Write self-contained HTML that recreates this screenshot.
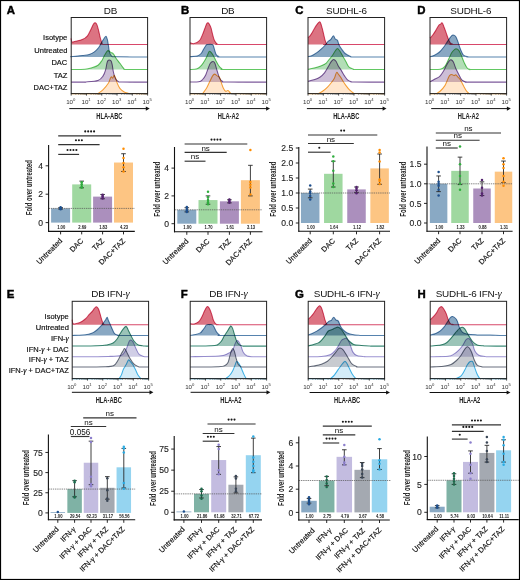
<!DOCTYPE html>
<html><head><meta charset="utf-8"><style>
html,body{margin:0;padding:0;background:#fff;}
body{width:520px;height:580px;overflow:hidden;font-family:"Liberation Sans", sans-serif;}
svg{display:block;}
</style></head><body>
<svg width="520" height="580" viewBox="0 0 520 580" font-family="'Liberation Sans', sans-serif">
<rect x="0" y="0" width="520" height="580" fill="#fff"/>
<path d="M71,38.4 C71.17,38.98 71.27,41.42 72,41.9 C72.73,42.38 73.68,41.68 75.4,41.3 C77.12,40.92 80.28,40.52 82.3,39.6 C84.32,38.68 86.05,37.53 87.5,35.8 C88.95,34.07 90,31.17 91,29.2 C92,27.23 92.78,25.07 93.5,24 C94.22,22.93 94.72,22.65 95.3,22.8 C95.88,22.95 96.43,23.53 97,24.9 C97.57,26.27 98.12,28.7 98.7,31 C99.28,33.3 99.92,36.63 100.5,38.7 C101.08,40.77 101.62,42.45 102.2,43.4 C102.78,44.35 96.43,44.23 104,44.4 C111.57,44.57 140.33,44.4 147.6,44.4 L147.6,44.4 L71.2,44.4 Z" fill="#dc7382" stroke="none" style="mix-blend-mode:multiply"/>
<path d="M71,38.4 C71.17,38.98 71.27,41.42 72,41.9 C72.73,42.38 73.68,41.68 75.4,41.3 C77.12,40.92 80.28,40.52 82.3,39.6 C84.32,38.68 86.05,37.53 87.5,35.8 C88.95,34.07 90,31.17 91,29.2 C92,27.23 92.78,25.07 93.5,24 C94.22,22.93 94.72,22.65 95.3,22.8 C95.88,22.95 96.43,23.53 97,24.9 C97.57,26.27 98.12,28.7 98.7,31 C99.28,33.3 99.92,36.63 100.5,38.7 C101.08,40.77 101.62,42.45 102.2,43.4 C102.78,44.35 96.43,44.23 104,44.4 C111.57,44.57 140.33,44.4 147.6,44.4" fill="none" stroke="#d8486a" stroke-width="1.05" style="mix-blend-mode:multiply"/>
<path d="M71.2,57 C71.23,56.95 69.55,56.93 71.4,56.7 C73.25,56.47 79.33,55.98 82.3,55.6 C85.27,55.22 87.18,55.03 89.2,54.4 C91.22,53.77 92.82,52.95 94.4,51.8 C95.98,50.65 97.48,49.08 98.7,47.5 C99.92,45.92 100.83,43.75 101.7,42.3 C102.57,40.85 103.18,39.82 103.9,38.8 C104.62,37.78 105.42,36.05 106,36.2 C106.58,36.35 106.97,37.97 107.4,39.7 C107.83,41.43 108.23,44.43 108.6,46.6 C108.97,48.77 109.08,51.12 109.6,52.7 C110.12,54.28 110.63,55.42 111.7,56.1 C112.77,56.78 110.02,56.65 116,56.8 C121.98,56.95 142.33,56.97 147.6,57 L147.6,57 L71.2,57 Z" fill="#89a8c3" stroke="none" style="mix-blend-mode:multiply"/>
<path d="M71.2,57 C71.23,56.95 69.55,56.93 71.4,56.7 C73.25,56.47 79.33,55.98 82.3,55.6 C85.27,55.22 87.18,55.03 89.2,54.4 C91.22,53.77 92.82,52.95 94.4,51.8 C95.98,50.65 97.48,49.08 98.7,47.5 C99.92,45.92 100.83,43.75 101.7,42.3 C102.57,40.85 103.18,39.82 103.9,38.8 C104.62,37.78 105.42,36.05 106,36.2 C106.58,36.35 106.97,37.97 107.4,39.7 C107.83,41.43 108.23,44.43 108.6,46.6 C108.97,48.77 109.08,51.12 109.6,52.7 C110.12,54.28 110.63,55.42 111.7,56.1 C112.77,56.78 110.02,56.65 116,56.8 C121.98,56.95 142.33,56.97 147.6,57" fill="none" stroke="#5683ae" stroke-width="1.05" style="mix-blend-mode:multiply"/>
<path d="M71.2,69.5 C73.5,69.45 81.53,69.5 85,69.2 C88.47,68.9 89.83,68.35 92,67.7 C94.17,67.05 96.37,66.47 98,65.3 C99.63,64.13 100.73,62.32 101.8,60.7 C102.87,59.08 103.43,57.27 104.4,55.6 C105.37,53.93 106.53,51.23 107.6,50.7 C108.67,50.17 109.82,51.85 110.8,52.4 C111.78,52.95 112.63,53.03 113.5,54 C114.37,54.97 114.93,56.65 116,58.2 C117.07,59.75 118.6,61.58 119.9,63.3 C121.2,65.02 122.73,67.47 123.8,68.5 C124.87,69.53 122.33,69.33 126.3,69.5 C130.27,69.67 144.05,69.5 147.6,69.5 L147.6,69.5 L71.2,69.5 Z" fill="#b2deb6" stroke="none" style="mix-blend-mode:multiply"/>
<path d="M71.2,69.5 C73.5,69.45 81.53,69.5 85,69.2 C88.47,68.9 89.83,68.35 92,67.7 C94.17,67.05 96.37,66.47 98,65.3 C99.63,64.13 100.73,62.32 101.8,60.7 C102.87,59.08 103.43,57.27 104.4,55.6 C105.37,53.93 106.53,51.23 107.6,50.7 C108.67,50.17 109.82,51.85 110.8,52.4 C111.78,52.95 112.63,53.03 113.5,54 C114.37,54.97 114.93,56.65 116,58.2 C117.07,59.75 118.6,61.58 119.9,63.3 C121.2,65.02 122.73,67.47 123.8,68.5 C124.87,69.53 122.33,69.33 126.3,69.5 C130.27,69.67 144.05,69.5 147.6,69.5" fill="none" stroke="#62c862" stroke-width="1.05" style="mix-blend-mode:multiply"/>
<path d="M71.2,82.1 C73.5,82.1 82.69,82.1 84.99,82.1 C87.29,82.1 82.85,82.38 85,82.1 C87.15,81.82 94.88,81.43 97.9,80.4 C100.92,79.37 101.8,77.73 103.1,75.9 C104.4,74.07 105.05,71.57 105.7,69.4 C106.35,67.23 106.57,64.42 107,62.9 C107.43,61.38 107.67,60.68 108.3,60.3 C108.93,59.92 110.17,59.95 110.8,60.6 C111.43,61.25 111.67,62.3 112.1,64.2 C112.53,66.1 112.85,69.62 113.4,72 C113.95,74.38 114.53,76.88 115.4,78.5 C116.27,80.12 117.5,81.1 118.6,81.7 C119.7,82.3 117.17,82.03 122,82.1 C126.83,82.17 143.33,82.1 147.6,82.1 L147.6,82.1 L71.2,82.1 Z" fill="#cdbed7" stroke="none" style="mix-blend-mode:multiply"/>
<path d="M71.2,82.1 C73.5,82.1 82.69,82.1 84.99,82.1 C87.29,82.1 82.85,82.38 85,82.1 C87.15,81.82 94.88,81.43 97.9,80.4 C100.92,79.37 101.8,77.73 103.1,75.9 C104.4,74.07 105.05,71.57 105.7,69.4 C106.35,67.23 106.57,64.42 107,62.9 C107.43,61.38 107.67,60.68 108.3,60.3 C108.93,59.92 110.17,59.95 110.8,60.6 C111.43,61.25 111.67,62.3 112.1,64.2 C112.53,66.1 112.85,69.62 113.4,72 C113.95,74.38 114.53,76.88 115.4,78.5 C116.27,80.12 117.5,81.1 118.6,81.7 C119.7,82.3 117.17,82.03 122,82.1 C126.83,82.17 143.33,82.1 147.6,82.1" fill="none" stroke="#7d5a9c" stroke-width="1.05" style="mix-blend-mode:multiply"/>
<path d="M71.2,93.6 C75.65,93.6 93.44,93.6 97.89,93.6 C102.34,93.6 97.03,94.25 97.9,93.6 C98.77,92.95 101.37,91.42 103.1,89.7 C104.83,87.98 107.12,85.13 108.3,83.3 C109.48,81.47 109.67,79.78 110.2,78.7 C110.73,77.62 111.07,76.9 111.5,76.8 C111.93,76.7 112.37,78.35 112.8,78.1 C113.23,77.85 113.67,75.4 114.1,75.3 C114.53,75.2 114.87,76.17 115.4,77.5 C115.93,78.83 116.55,81.48 117.3,83.3 C118.05,85.12 118.82,87 119.9,88.4 C120.98,89.8 122.4,90.88 123.8,91.7 C125.2,92.52 127.27,92.98 128.3,93.3 C129.33,93.62 126.78,93.55 130,93.6 C133.22,93.65 144.67,93.6 147.6,93.6 L147.6,93.6 L71.2,93.6 Z" fill="#ffe6cd" stroke="none" style="mix-blend-mode:multiply"/>
<path d="M71.2,93.6 C75.65,93.6 93.44,93.6 97.89,93.6 C102.34,93.6 97.03,94.25 97.9,93.6 C98.77,92.95 101.37,91.42 103.1,89.7 C104.83,87.98 107.12,85.13 108.3,83.3 C109.48,81.47 109.67,79.78 110.2,78.7 C110.73,77.62 111.07,76.9 111.5,76.8 C111.93,76.7 112.37,78.35 112.8,78.1 C113.23,77.85 113.67,75.4 114.1,75.3 C114.53,75.2 114.87,76.17 115.4,77.5 C115.93,78.83 116.55,81.48 117.3,83.3 C118.05,85.12 118.82,87 119.9,88.4 C120.98,89.8 122.4,90.88 123.8,91.7 C125.2,92.52 127.27,92.98 128.3,93.3 C129.33,93.62 126.78,93.55 130,93.6 C133.22,93.65 144.67,93.6 147.6,93.6" fill="none" stroke="#f5a73c" stroke-width="1.05" style="mix-blend-mode:multiply"/>
<rect x="71.2" y="17.5" width="76.4" height="76.1" fill="none" stroke="#222" stroke-width="1"/>
<line x1="71.2" y1="93.6" x2="71.2" y2="95.6" stroke="#222" stroke-width="0.8"/>
<line x1="75.8" y1="93.6" x2="75.8" y2="94.8" stroke="#444" stroke-width="0.5"/>
<line x1="78.49" y1="93.6" x2="78.49" y2="94.8" stroke="#444" stroke-width="0.5"/>
<line x1="80.4" y1="93.6" x2="80.4" y2="94.8" stroke="#444" stroke-width="0.5"/>
<line x1="81.88" y1="93.6" x2="81.88" y2="94.8" stroke="#444" stroke-width="0.5"/>
<line x1="83.09" y1="93.6" x2="83.09" y2="94.8" stroke="#444" stroke-width="0.5"/>
<line x1="84.11" y1="93.6" x2="84.11" y2="94.8" stroke="#444" stroke-width="0.5"/>
<line x1="85" y1="93.6" x2="85" y2="94.8" stroke="#444" stroke-width="0.5"/>
<line x1="85.78" y1="93.6" x2="85.78" y2="94.8" stroke="#444" stroke-width="0.5"/>
<text x="70.8" y="103.9" font-size="6.2" text-anchor="middle" fill="#333">10<tspan font-size="4.2" dy="-2.6">0</tspan></text>
<line x1="86.48" y1="93.6" x2="86.48" y2="95.6" stroke="#222" stroke-width="0.8"/>
<line x1="91.08" y1="93.6" x2="91.08" y2="94.8" stroke="#444" stroke-width="0.5"/>
<line x1="93.77" y1="93.6" x2="93.77" y2="94.8" stroke="#444" stroke-width="0.5"/>
<line x1="95.68" y1="93.6" x2="95.68" y2="94.8" stroke="#444" stroke-width="0.5"/>
<line x1="97.16" y1="93.6" x2="97.16" y2="94.8" stroke="#444" stroke-width="0.5"/>
<line x1="98.37" y1="93.6" x2="98.37" y2="94.8" stroke="#444" stroke-width="0.5"/>
<line x1="99.39" y1="93.6" x2="99.39" y2="94.8" stroke="#444" stroke-width="0.5"/>
<line x1="100.28" y1="93.6" x2="100.28" y2="94.8" stroke="#444" stroke-width="0.5"/>
<line x1="101.06" y1="93.6" x2="101.06" y2="94.8" stroke="#444" stroke-width="0.5"/>
<text x="86.08" y="103.9" font-size="6.2" text-anchor="middle" fill="#333">10<tspan font-size="4.2" dy="-2.6">1</tspan></text>
<line x1="101.76" y1="93.6" x2="101.76" y2="95.6" stroke="#222" stroke-width="0.8"/>
<line x1="106.36" y1="93.6" x2="106.36" y2="94.8" stroke="#444" stroke-width="0.5"/>
<line x1="109.05" y1="93.6" x2="109.05" y2="94.8" stroke="#444" stroke-width="0.5"/>
<line x1="110.96" y1="93.6" x2="110.96" y2="94.8" stroke="#444" stroke-width="0.5"/>
<line x1="112.44" y1="93.6" x2="112.44" y2="94.8" stroke="#444" stroke-width="0.5"/>
<line x1="113.65" y1="93.6" x2="113.65" y2="94.8" stroke="#444" stroke-width="0.5"/>
<line x1="114.67" y1="93.6" x2="114.67" y2="94.8" stroke="#444" stroke-width="0.5"/>
<line x1="115.56" y1="93.6" x2="115.56" y2="94.8" stroke="#444" stroke-width="0.5"/>
<line x1="116.34" y1="93.6" x2="116.34" y2="94.8" stroke="#444" stroke-width="0.5"/>
<text x="101.36" y="103.9" font-size="6.2" text-anchor="middle" fill="#333">10<tspan font-size="4.2" dy="-2.6">2</tspan></text>
<line x1="117.04" y1="93.6" x2="117.04" y2="95.6" stroke="#222" stroke-width="0.8"/>
<line x1="121.64" y1="93.6" x2="121.64" y2="94.8" stroke="#444" stroke-width="0.5"/>
<line x1="124.33" y1="93.6" x2="124.33" y2="94.8" stroke="#444" stroke-width="0.5"/>
<line x1="126.24" y1="93.6" x2="126.24" y2="94.8" stroke="#444" stroke-width="0.5"/>
<line x1="127.72" y1="93.6" x2="127.72" y2="94.8" stroke="#444" stroke-width="0.5"/>
<line x1="128.93" y1="93.6" x2="128.93" y2="94.8" stroke="#444" stroke-width="0.5"/>
<line x1="129.95" y1="93.6" x2="129.95" y2="94.8" stroke="#444" stroke-width="0.5"/>
<line x1="130.84" y1="93.6" x2="130.84" y2="94.8" stroke="#444" stroke-width="0.5"/>
<line x1="131.62" y1="93.6" x2="131.62" y2="94.8" stroke="#444" stroke-width="0.5"/>
<text x="116.64" y="103.9" font-size="6.2" text-anchor="middle" fill="#333">10<tspan font-size="4.2" dy="-2.6">3</tspan></text>
<line x1="132.32" y1="93.6" x2="132.32" y2="95.6" stroke="#222" stroke-width="0.8"/>
<line x1="136.92" y1="93.6" x2="136.92" y2="94.8" stroke="#444" stroke-width="0.5"/>
<line x1="139.61" y1="93.6" x2="139.61" y2="94.8" stroke="#444" stroke-width="0.5"/>
<line x1="141.52" y1="93.6" x2="141.52" y2="94.8" stroke="#444" stroke-width="0.5"/>
<line x1="143" y1="93.6" x2="143" y2="94.8" stroke="#444" stroke-width="0.5"/>
<line x1="144.21" y1="93.6" x2="144.21" y2="94.8" stroke="#444" stroke-width="0.5"/>
<line x1="145.23" y1="93.6" x2="145.23" y2="94.8" stroke="#444" stroke-width="0.5"/>
<line x1="146.12" y1="93.6" x2="146.12" y2="94.8" stroke="#444" stroke-width="0.5"/>
<line x1="146.9" y1="93.6" x2="146.9" y2="94.8" stroke="#444" stroke-width="0.5"/>
<text x="131.92" y="103.9" font-size="6.2" text-anchor="middle" fill="#333">10<tspan font-size="4.2" dy="-2.6">4</tspan></text>
<line x1="147.6" y1="93.6" x2="147.6" y2="95.6" stroke="#222" stroke-width="0.8"/>
<text x="147.2" y="103.9" font-size="6.2" text-anchor="middle" fill="#333">10<tspan font-size="4.2" dy="-2.6">5</tspan></text>
<line x1="69.3" y1="108.6" x2="146.7" y2="108.6" stroke="#111" stroke-width="1"/>
<path d="M149.7,108.6 L145.8,106.5 L145.8,110.7 Z" fill="#111"/>
<text transform="translate(109.4,119) scale(0.64,1)" font-size="9" font-weight="bold" text-anchor="middle" fill="#222">HLA-ABC</text>
<text x="110.5" y="13.8" font-size="9.9" text-anchor="middle" fill="#111" letter-spacing="-0.2">DB</text>
<text x="6.8" y="13.9" font-size="11.4" font-weight="bold" fill="#000" stroke="#000" stroke-width="0.45">A</text>
<text x="67.3" y="40.3" font-size="7.5" text-anchor="end" fill="#111" stroke="#111" stroke-width="0.18">Isotype</text>
<text x="67.3" y="52.77" font-size="7.5" text-anchor="end" fill="#111" stroke="#111" stroke-width="0.18">Untreated</text>
<text x="67.3" y="65.24" font-size="7.5" text-anchor="end" fill="#111" stroke="#111" stroke-width="0.18">DAC</text>
<text x="67.3" y="77.71" font-size="7.5" text-anchor="end" fill="#111" stroke="#111" stroke-width="0.18">TAZ</text>
<text x="67.3" y="90.18" font-size="7.5" text-anchor="end" fill="#111" stroke="#111" stroke-width="0.18">DAC+TAZ</text>
<path d="M190,42.8 C190.7,42.93 192.62,43.98 194.2,43.6 C195.78,43.22 198.1,42.03 199.5,40.5 C200.9,38.97 201.7,36.45 202.6,34.4 C203.5,32.35 204.2,30 204.9,28.2 C205.6,26.4 206.28,24.5 206.8,23.6 C207.32,22.7 207.55,22.67 208,22.8 C208.45,22.93 208.98,23.5 209.5,24.4 C210.02,25.3 210.58,26.53 211.1,28.2 C211.62,29.87 212.03,32.35 212.6,34.4 C213.17,36.45 213.73,38.92 214.5,40.5 C215.27,42.08 216.28,43.25 217.2,43.9 C218.12,44.55 211.77,44.32 220,44.4 C228.23,44.48 258.83,44.4 266.6,44.4 L266.6,44.4 L190,44.4 Z" fill="#dc7382" stroke="none" style="mix-blend-mode:multiply"/>
<path d="M190,42.8 C190.7,42.93 192.62,43.98 194.2,43.6 C195.78,43.22 198.1,42.03 199.5,40.5 C200.9,38.97 201.7,36.45 202.6,34.4 C203.5,32.35 204.2,30 204.9,28.2 C205.6,26.4 206.28,24.5 206.8,23.6 C207.32,22.7 207.55,22.67 208,22.8 C208.45,22.93 208.98,23.5 209.5,24.4 C210.02,25.3 210.58,26.53 211.1,28.2 C211.62,29.87 212.03,32.35 212.6,34.4 C213.17,36.45 213.73,38.92 214.5,40.5 C215.27,42.08 216.28,43.25 217.2,43.9 C218.12,44.55 211.77,44.32 220,44.4 C228.23,44.48 258.83,44.4 266.6,44.4" fill="none" stroke="#d8486a" stroke-width="1.05" style="mix-blend-mode:multiply"/>
<path d="M190,56.7 C191.2,56.6 195.35,56.63 197.2,56.1 C199.05,55.57 200.07,54.58 201.1,53.5 C202.13,52.42 202.63,50.88 203.4,49.6 C204.17,48.32 205.07,46.63 205.7,45.8 C206.33,44.97 206.05,44.8 207.2,44.6 C208.35,44.4 211.38,43.77 212.6,44.6 C213.82,45.43 213.93,48 214.5,49.6 C215.07,51.2 215.28,53.05 216,54.2 C216.72,55.35 217.8,56.03 218.8,56.5 C219.8,56.97 214.03,56.92 222,57 C229.97,57.08 259.17,57 266.6,57 L266.6,57 L190,57 Z" fill="#89a8c3" stroke="none" style="mix-blend-mode:multiply"/>
<path d="M190,56.7 C191.2,56.6 195.35,56.63 197.2,56.1 C199.05,55.57 200.07,54.58 201.1,53.5 C202.13,52.42 202.63,50.88 203.4,49.6 C204.17,48.32 205.07,46.63 205.7,45.8 C206.33,44.97 206.05,44.8 207.2,44.6 C208.35,44.4 211.38,43.77 212.6,44.6 C213.82,45.43 213.93,48 214.5,49.6 C215.07,51.2 215.28,53.05 216,54.2 C216.72,55.35 217.8,56.03 218.8,56.5 C219.8,56.97 214.03,56.92 222,57 C229.97,57.08 259.17,57 266.6,57" fill="none" stroke="#5683ae" stroke-width="1.05" style="mix-blend-mode:multiply"/>
<path d="M190,69.5 C191.2,69.37 195.23,69.47 197.2,68.7 C199.17,67.93 200.52,66.3 201.8,64.9 C203.08,63.5 204,61.83 204.9,60.3 C205.8,58.77 206.48,57.18 207.2,55.7 C207.92,54.22 208.55,51.97 209.2,51.4 C209.85,50.83 210.4,51.58 211.1,52.3 C211.8,53.02 212.63,54.37 213.4,55.7 C214.17,57.03 214.8,58.63 215.7,60.3 C216.6,61.97 217.78,64.3 218.8,65.7 C219.82,67.1 220.77,68.07 221.8,68.7 C222.83,69.33 217.53,69.37 225,69.5 C232.47,69.63 259.67,69.5 266.6,69.5 L266.6,69.5 L190,69.5 Z" fill="#b2deb6" stroke="none" style="mix-blend-mode:multiply"/>
<path d="M190,69.5 C191.2,69.37 195.23,69.47 197.2,68.7 C199.17,67.93 200.52,66.3 201.8,64.9 C203.08,63.5 204,61.83 204.9,60.3 C205.8,58.77 206.48,57.18 207.2,55.7 C207.92,54.22 208.55,51.97 209.2,51.4 C209.85,50.83 210.4,51.58 211.1,52.3 C211.8,53.02 212.63,54.37 213.4,55.7 C214.17,57.03 214.8,58.63 215.7,60.3 C216.6,61.97 217.78,64.3 218.8,65.7 C219.82,67.1 220.77,68.07 221.8,68.7 C222.83,69.33 217.53,69.37 225,69.5 C232.47,69.63 259.67,69.5 266.6,69.5" fill="none" stroke="#62c862" stroke-width="1.05" style="mix-blend-mode:multiply"/>
<path d="M190,82.1 C191.47,82.05 196.7,82.23 198.8,81.8 C200.9,81.37 201.45,80.65 202.6,79.5 C203.75,78.35 204.8,76.7 205.7,74.9 C206.6,73.1 207.23,70.63 208,68.7 C208.77,66.77 209.48,64.5 210.3,63.3 C211.12,62.1 212.13,61.5 212.9,61.5 C213.67,61.5 214.18,61.72 214.9,63.3 C215.62,64.88 216.43,68.57 217.2,71 C217.97,73.43 218.6,76.15 219.5,77.9 C220.4,79.65 221.52,80.8 222.6,81.5 C223.68,82.2 218.67,82 226,82.1 C233.33,82.2 259.83,82.1 266.6,82.1 L266.6,82.1 L190,82.1 Z" fill="#cdbed7" stroke="none" style="mix-blend-mode:multiply"/>
<path d="M190,82.1 C191.47,82.05 196.7,82.23 198.8,81.8 C200.9,81.37 201.45,80.65 202.6,79.5 C203.75,78.35 204.8,76.7 205.7,74.9 C206.6,73.1 207.23,70.63 208,68.7 C208.77,66.77 209.48,64.5 210.3,63.3 C211.12,62.1 212.13,61.5 212.9,61.5 C213.67,61.5 214.18,61.72 214.9,63.3 C215.62,64.88 216.43,68.57 217.2,71 C217.97,73.43 218.6,76.15 219.5,77.9 C220.4,79.65 221.52,80.8 222.6,81.5 C223.68,82.2 218.67,82 226,82.1 C233.33,82.2 259.83,82.1 266.6,82.1" fill="none" stroke="#7d5a9c" stroke-width="1.05" style="mix-blend-mode:multiply"/>
<path d="M190,93.6 C192.1,93.6 200.49,93.6 202.59,93.6 C204.69,93.6 201.95,94.5 202.6,93.6 C203.25,92.7 205.35,90.12 206.5,88.2 C207.65,86.28 208.48,84.15 209.5,82.1 C210.52,80.05 211.77,77.23 212.6,75.9 C213.43,74.57 213.73,74.1 214.5,74.1 C215.27,74.1 216.37,75.35 217.2,75.9 C218.03,76.45 218.85,76.37 219.5,77.4 C220.15,78.43 220.45,80.3 221.1,82.1 C221.75,83.9 222.63,86.67 223.4,88.2 C224.17,89.73 224.93,90.92 225.7,91.3 C226.47,91.68 227.23,90.25 228,90.5 C228.77,90.75 229.63,92.28 230.3,92.8 C230.97,93.32 225.95,93.47 232,93.6 C238.05,93.73 260.83,93.6 266.6,93.6 L266.6,93.6 L190,93.6 Z" fill="#ffe6cd" stroke="none" style="mix-blend-mode:multiply"/>
<path d="M190,93.6 C192.1,93.6 200.49,93.6 202.59,93.6 C204.69,93.6 201.95,94.5 202.6,93.6 C203.25,92.7 205.35,90.12 206.5,88.2 C207.65,86.28 208.48,84.15 209.5,82.1 C210.52,80.05 211.77,77.23 212.6,75.9 C213.43,74.57 213.73,74.1 214.5,74.1 C215.27,74.1 216.37,75.35 217.2,75.9 C218.03,76.45 218.85,76.37 219.5,77.4 C220.15,78.43 220.45,80.3 221.1,82.1 C221.75,83.9 222.63,86.67 223.4,88.2 C224.17,89.73 224.93,90.92 225.7,91.3 C226.47,91.68 227.23,90.25 228,90.5 C228.77,90.75 229.63,92.28 230.3,92.8 C230.97,93.32 225.95,93.47 232,93.6 C238.05,93.73 260.83,93.6 266.6,93.6" fill="none" stroke="#f5a73c" stroke-width="1.05" style="mix-blend-mode:multiply"/>
<rect x="190" y="17.5" width="76.6" height="76.1" fill="none" stroke="#222" stroke-width="1"/>
<line x1="190" y1="93.6" x2="190" y2="95.6" stroke="#222" stroke-width="0.8"/>
<line x1="194.61" y1="93.6" x2="194.61" y2="94.8" stroke="#444" stroke-width="0.5"/>
<line x1="197.31" y1="93.6" x2="197.31" y2="94.8" stroke="#444" stroke-width="0.5"/>
<line x1="199.22" y1="93.6" x2="199.22" y2="94.8" stroke="#444" stroke-width="0.5"/>
<line x1="200.71" y1="93.6" x2="200.71" y2="94.8" stroke="#444" stroke-width="0.5"/>
<line x1="201.92" y1="93.6" x2="201.92" y2="94.8" stroke="#444" stroke-width="0.5"/>
<line x1="202.95" y1="93.6" x2="202.95" y2="94.8" stroke="#444" stroke-width="0.5"/>
<line x1="203.84" y1="93.6" x2="203.84" y2="94.8" stroke="#444" stroke-width="0.5"/>
<line x1="204.62" y1="93.6" x2="204.62" y2="94.8" stroke="#444" stroke-width="0.5"/>
<text x="189.6" y="103.9" font-size="6.2" text-anchor="middle" fill="#333">10<tspan font-size="4.2" dy="-2.6">0</tspan></text>
<line x1="205.32" y1="93.6" x2="205.32" y2="95.6" stroke="#222" stroke-width="0.8"/>
<line x1="209.93" y1="93.6" x2="209.93" y2="94.8" stroke="#444" stroke-width="0.5"/>
<line x1="212.63" y1="93.6" x2="212.63" y2="94.8" stroke="#444" stroke-width="0.5"/>
<line x1="214.54" y1="93.6" x2="214.54" y2="94.8" stroke="#444" stroke-width="0.5"/>
<line x1="216.03" y1="93.6" x2="216.03" y2="94.8" stroke="#444" stroke-width="0.5"/>
<line x1="217.24" y1="93.6" x2="217.24" y2="94.8" stroke="#444" stroke-width="0.5"/>
<line x1="218.27" y1="93.6" x2="218.27" y2="94.8" stroke="#444" stroke-width="0.5"/>
<line x1="219.16" y1="93.6" x2="219.16" y2="94.8" stroke="#444" stroke-width="0.5"/>
<line x1="219.94" y1="93.6" x2="219.94" y2="94.8" stroke="#444" stroke-width="0.5"/>
<text x="204.92" y="103.9" font-size="6.2" text-anchor="middle" fill="#333">10<tspan font-size="4.2" dy="-2.6">1</tspan></text>
<line x1="220.64" y1="93.6" x2="220.64" y2="95.6" stroke="#222" stroke-width="0.8"/>
<line x1="225.25" y1="93.6" x2="225.25" y2="94.8" stroke="#444" stroke-width="0.5"/>
<line x1="227.95" y1="93.6" x2="227.95" y2="94.8" stroke="#444" stroke-width="0.5"/>
<line x1="229.86" y1="93.6" x2="229.86" y2="94.8" stroke="#444" stroke-width="0.5"/>
<line x1="231.35" y1="93.6" x2="231.35" y2="94.8" stroke="#444" stroke-width="0.5"/>
<line x1="232.56" y1="93.6" x2="232.56" y2="94.8" stroke="#444" stroke-width="0.5"/>
<line x1="233.59" y1="93.6" x2="233.59" y2="94.8" stroke="#444" stroke-width="0.5"/>
<line x1="234.48" y1="93.6" x2="234.48" y2="94.8" stroke="#444" stroke-width="0.5"/>
<line x1="235.26" y1="93.6" x2="235.26" y2="94.8" stroke="#444" stroke-width="0.5"/>
<text x="220.24" y="103.9" font-size="6.2" text-anchor="middle" fill="#333">10<tspan font-size="4.2" dy="-2.6">2</tspan></text>
<line x1="235.96" y1="93.6" x2="235.96" y2="95.6" stroke="#222" stroke-width="0.8"/>
<line x1="240.57" y1="93.6" x2="240.57" y2="94.8" stroke="#444" stroke-width="0.5"/>
<line x1="243.27" y1="93.6" x2="243.27" y2="94.8" stroke="#444" stroke-width="0.5"/>
<line x1="245.18" y1="93.6" x2="245.18" y2="94.8" stroke="#444" stroke-width="0.5"/>
<line x1="246.67" y1="93.6" x2="246.67" y2="94.8" stroke="#444" stroke-width="0.5"/>
<line x1="247.88" y1="93.6" x2="247.88" y2="94.8" stroke="#444" stroke-width="0.5"/>
<line x1="248.91" y1="93.6" x2="248.91" y2="94.8" stroke="#444" stroke-width="0.5"/>
<line x1="249.8" y1="93.6" x2="249.8" y2="94.8" stroke="#444" stroke-width="0.5"/>
<line x1="250.58" y1="93.6" x2="250.58" y2="94.8" stroke="#444" stroke-width="0.5"/>
<text x="235.56" y="103.9" font-size="6.2" text-anchor="middle" fill="#333">10<tspan font-size="4.2" dy="-2.6">3</tspan></text>
<line x1="251.28" y1="93.6" x2="251.28" y2="95.6" stroke="#222" stroke-width="0.8"/>
<line x1="255.89" y1="93.6" x2="255.89" y2="94.8" stroke="#444" stroke-width="0.5"/>
<line x1="258.59" y1="93.6" x2="258.59" y2="94.8" stroke="#444" stroke-width="0.5"/>
<line x1="260.5" y1="93.6" x2="260.5" y2="94.8" stroke="#444" stroke-width="0.5"/>
<line x1="261.99" y1="93.6" x2="261.99" y2="94.8" stroke="#444" stroke-width="0.5"/>
<line x1="263.2" y1="93.6" x2="263.2" y2="94.8" stroke="#444" stroke-width="0.5"/>
<line x1="264.23" y1="93.6" x2="264.23" y2="94.8" stroke="#444" stroke-width="0.5"/>
<line x1="265.12" y1="93.6" x2="265.12" y2="94.8" stroke="#444" stroke-width="0.5"/>
<line x1="265.9" y1="93.6" x2="265.9" y2="94.8" stroke="#444" stroke-width="0.5"/>
<text x="250.88" y="103.9" font-size="6.2" text-anchor="middle" fill="#333">10<tspan font-size="4.2" dy="-2.6">4</tspan></text>
<line x1="266.6" y1="93.6" x2="266.6" y2="95.6" stroke="#222" stroke-width="0.8"/>
<text x="266.2" y="103.9" font-size="6.2" text-anchor="middle" fill="#333">10<tspan font-size="4.2" dy="-2.6">5</tspan></text>
<line x1="189.6" y1="108.6" x2="267" y2="108.6" stroke="#111" stroke-width="1"/>
<path d="M270,108.6 L266.1,106.5 L266.1,110.7 Z" fill="#111"/>
<text transform="translate(228.3,119) scale(0.64,1)" font-size="9" font-weight="bold" text-anchor="middle" fill="#222">HLA-A2</text>
<text x="227.8" y="13.8" font-size="9.9" text-anchor="middle" fill="#111" letter-spacing="-0.2">DB</text>
<text x="181" y="13.9" font-size="11.4" font-weight="bold" fill="#000" stroke="#000" stroke-width="0.45">B</text>
<path d="M308,37.5 C308.33,37.23 309.18,36.93 310,35.9 C310.82,34.87 311.9,32.97 312.9,31.3 C313.9,29.63 314.97,27.43 316,25.9 C317.03,24.37 318.33,22.6 319.1,22.1 C319.87,21.6 320.08,21.88 320.6,22.9 C321.12,23.92 321.68,26.28 322.2,28.2 C322.72,30.12 323.2,32.33 323.7,34.4 C324.2,36.47 324.68,38.98 325.2,40.6 C325.72,42.22 326.33,43.47 326.8,44.1 C327.27,44.73 318.37,44.35 328,44.4 C337.63,44.45 375.17,44.4 384.6,44.4 L384.6,44.4 L308,44.4 Z" fill="#dc7382" stroke="none" style="mix-blend-mode:multiply"/>
<path d="M308,37.5 C308.33,37.23 309.18,36.93 310,35.9 C310.82,34.87 311.9,32.97 312.9,31.3 C313.9,29.63 314.97,27.43 316,25.9 C317.03,24.37 318.33,22.6 319.1,22.1 C319.87,21.6 320.08,21.88 320.6,22.9 C321.12,23.92 321.68,26.28 322.2,28.2 C322.72,30.12 323.2,32.33 323.7,34.4 C324.2,36.47 324.68,38.98 325.2,40.6 C325.72,42.22 326.33,43.47 326.8,44.1 C327.27,44.73 318.37,44.35 328,44.4 C337.63,44.45 375.17,44.4 384.6,44.4" fill="none" stroke="#d8486a" stroke-width="1.05" style="mix-blend-mode:multiply"/>
<path d="M308,56.7 C308.7,56.5 310.73,56.17 312.2,55.5 C313.67,54.83 315.27,53.82 316.8,52.7 C318.33,51.58 320,50.08 321.4,48.8 C322.8,47.52 324.05,46.27 325.2,45 C326.35,43.73 327.4,42.1 328.3,41.2 C329.2,40.3 329.75,40.5 330.6,39.6 C331.45,38.7 332.63,35.92 333.4,35.8 C334.17,35.68 334.52,38.13 335.2,38.9 C335.88,39.67 336.85,39.38 337.5,40.4 C338.15,41.42 338.45,43.6 339.1,45 C339.75,46.4 340.38,47.38 341.4,48.8 C342.42,50.22 343.67,52.22 345.2,53.5 C346.73,54.78 349.13,55.92 350.6,56.5 C352.07,57.08 348.33,56.92 354,57 C359.67,57.08 379.5,57 384.6,57 L384.6,57 L308,57 Z" fill="#89a8c3" stroke="none" style="mix-blend-mode:multiply"/>
<path d="M308,56.7 C308.7,56.5 310.73,56.17 312.2,55.5 C313.67,54.83 315.27,53.82 316.8,52.7 C318.33,51.58 320,50.08 321.4,48.8 C322.8,47.52 324.05,46.27 325.2,45 C326.35,43.73 327.4,42.1 328.3,41.2 C329.2,40.3 329.75,40.5 330.6,39.6 C331.45,38.7 332.63,35.92 333.4,35.8 C334.17,35.68 334.52,38.13 335.2,38.9 C335.88,39.67 336.85,39.38 337.5,40.4 C338.15,41.42 338.45,43.6 339.1,45 C339.75,46.4 340.38,47.38 341.4,48.8 C342.42,50.22 343.67,52.22 345.2,53.5 C346.73,54.78 349.13,55.92 350.6,56.5 C352.07,57.08 348.33,56.92 354,57 C359.67,57.08 379.5,57 384.6,57" fill="none" stroke="#5683ae" stroke-width="1.05" style="mix-blend-mode:multiply"/>
<path d="M308,69.3 C309.2,69.03 312.97,68.3 315.2,67.7 C317.43,67.1 319.6,66.43 321.4,65.7 C323.2,64.97 324.72,64.33 326,63.3 C327.28,62.27 328.07,60.77 329.1,59.5 C330.13,58.23 331.18,57.12 332.2,55.7 C333.22,54.28 334.32,52.22 335.2,51 C336.08,49.78 336.73,48.4 337.5,48.4 C338.27,48.4 338.9,49.67 339.8,51 C340.7,52.33 341.87,54.6 342.9,56.4 C343.93,58.2 344.97,60 346,61.8 C347.03,63.6 347.82,65.97 349.1,67.2 C350.38,68.43 352.55,68.82 353.7,69.2 C354.85,69.58 350.85,69.45 356,69.5 C361.15,69.55 379.83,69.5 384.6,69.5 L384.6,69.5 L308,69.5 Z" fill="#b2deb6" stroke="none" style="mix-blend-mode:multiply"/>
<path d="M308,69.3 C309.2,69.03 312.97,68.3 315.2,67.7 C317.43,67.1 319.6,66.43 321.4,65.7 C323.2,64.97 324.72,64.33 326,63.3 C327.28,62.27 328.07,60.77 329.1,59.5 C330.13,58.23 331.18,57.12 332.2,55.7 C333.22,54.28 334.32,52.22 335.2,51 C336.08,49.78 336.73,48.4 337.5,48.4 C338.27,48.4 338.9,49.67 339.8,51 C340.7,52.33 341.87,54.6 342.9,56.4 C343.93,58.2 344.97,60 346,61.8 C347.03,63.6 347.82,65.97 349.1,67.2 C350.38,68.43 352.55,68.82 353.7,69.2 C354.85,69.58 350.85,69.45 356,69.5 C361.15,69.55 379.83,69.5 384.6,69.5" fill="none" stroke="#62c862" stroke-width="1.05" style="mix-blend-mode:multiply"/>
<path d="M308,81.3 C308.95,81.05 311.73,80.48 313.7,79.8 C315.67,79.12 318,78.35 319.8,77.2 C321.6,76.05 322.95,74.9 324.5,72.9 C326.05,70.9 327.95,67.13 329.1,65.2 C330.25,63.27 330.63,62.25 331.4,61.3 C332.17,60.35 332.93,59.5 333.7,59.5 C334.47,59.5 335.23,60.23 336,61.3 C336.77,62.37 337.4,64.35 338.3,65.9 C339.2,67.45 340.37,68.93 341.4,70.6 C342.43,72.27 343.48,74.37 344.5,75.9 C345.52,77.43 346.35,78.82 347.5,79.8 C348.65,80.78 350.32,81.42 351.4,81.8 C352.48,82.18 348.47,82.05 354,82.1 C359.53,82.15 379.5,82.1 384.6,82.1 L384.6,82.1 L308,82.1 Z" fill="#cdbed7" stroke="none" style="mix-blend-mode:multiply"/>
<path d="M308,81.3 C308.95,81.05 311.73,80.48 313.7,79.8 C315.67,79.12 318,78.35 319.8,77.2 C321.6,76.05 322.95,74.9 324.5,72.9 C326.05,70.9 327.95,67.13 329.1,65.2 C330.25,63.27 330.63,62.25 331.4,61.3 C332.17,60.35 332.93,59.5 333.7,59.5 C334.47,59.5 335.23,60.23 336,61.3 C336.77,62.37 337.4,64.35 338.3,65.9 C339.2,67.45 340.37,68.93 341.4,70.6 C342.43,72.27 343.48,74.37 344.5,75.9 C345.52,77.43 346.35,78.82 347.5,79.8 C348.65,80.78 350.32,81.42 351.4,81.8 C352.48,82.18 348.47,82.05 354,82.1 C359.53,82.15 379.5,82.1 384.6,82.1" fill="none" stroke="#7d5a9c" stroke-width="1.05" style="mix-blend-mode:multiply"/>
<path d="M308,93.6 C309.72,93.6 316.57,93.6 318.29,93.6 C320.01,93.6 317.53,94.03 318.3,93.6 C319.07,93.17 321.37,92.08 322.9,91 C324.43,89.92 326.08,88.52 327.5,87.1 C328.92,85.68 330.23,84.03 331.4,82.5 C332.57,80.97 333.65,79.57 334.5,77.9 C335.35,76.23 335.87,73.13 336.5,72.5 C337.13,71.87 337.62,73.33 338.3,74.1 C338.98,74.87 339.83,75.95 340.6,77.1 C341.37,78.25 342,79.58 342.9,81 C343.8,82.42 344.85,84.07 346,85.6 C347.15,87.13 348.52,88.92 349.8,90.2 C351.08,91.48 352.83,92.73 353.7,93.3 C354.57,93.87 349.85,93.55 355,93.6 C360.15,93.65 379.67,93.6 384.6,93.6 L384.6,93.6 L308,93.6 Z" fill="#ffe6cd" stroke="none" style="mix-blend-mode:multiply"/>
<path d="M308,93.6 C309.72,93.6 316.57,93.6 318.29,93.6 C320.01,93.6 317.53,94.03 318.3,93.6 C319.07,93.17 321.37,92.08 322.9,91 C324.43,89.92 326.08,88.52 327.5,87.1 C328.92,85.68 330.23,84.03 331.4,82.5 C332.57,80.97 333.65,79.57 334.5,77.9 C335.35,76.23 335.87,73.13 336.5,72.5 C337.13,71.87 337.62,73.33 338.3,74.1 C338.98,74.87 339.83,75.95 340.6,77.1 C341.37,78.25 342,79.58 342.9,81 C343.8,82.42 344.85,84.07 346,85.6 C347.15,87.13 348.52,88.92 349.8,90.2 C351.08,91.48 352.83,92.73 353.7,93.3 C354.57,93.87 349.85,93.55 355,93.6 C360.15,93.65 379.67,93.6 384.6,93.6" fill="none" stroke="#f5a73c" stroke-width="1.05" style="mix-blend-mode:multiply"/>
<rect x="308" y="17.5" width="76.6" height="76.1" fill="none" stroke="#222" stroke-width="1"/>
<line x1="308" y1="93.6" x2="308" y2="95.6" stroke="#222" stroke-width="0.8"/>
<line x1="312.61" y1="93.6" x2="312.61" y2="94.8" stroke="#444" stroke-width="0.5"/>
<line x1="315.31" y1="93.6" x2="315.31" y2="94.8" stroke="#444" stroke-width="0.5"/>
<line x1="317.22" y1="93.6" x2="317.22" y2="94.8" stroke="#444" stroke-width="0.5"/>
<line x1="318.71" y1="93.6" x2="318.71" y2="94.8" stroke="#444" stroke-width="0.5"/>
<line x1="319.92" y1="93.6" x2="319.92" y2="94.8" stroke="#444" stroke-width="0.5"/>
<line x1="320.95" y1="93.6" x2="320.95" y2="94.8" stroke="#444" stroke-width="0.5"/>
<line x1="321.84" y1="93.6" x2="321.84" y2="94.8" stroke="#444" stroke-width="0.5"/>
<line x1="322.62" y1="93.6" x2="322.62" y2="94.8" stroke="#444" stroke-width="0.5"/>
<text x="307.6" y="103.9" font-size="6.2" text-anchor="middle" fill="#333">10<tspan font-size="4.2" dy="-2.6">0</tspan></text>
<line x1="323.32" y1="93.6" x2="323.32" y2="95.6" stroke="#222" stroke-width="0.8"/>
<line x1="327.93" y1="93.6" x2="327.93" y2="94.8" stroke="#444" stroke-width="0.5"/>
<line x1="330.63" y1="93.6" x2="330.63" y2="94.8" stroke="#444" stroke-width="0.5"/>
<line x1="332.54" y1="93.6" x2="332.54" y2="94.8" stroke="#444" stroke-width="0.5"/>
<line x1="334.03" y1="93.6" x2="334.03" y2="94.8" stroke="#444" stroke-width="0.5"/>
<line x1="335.24" y1="93.6" x2="335.24" y2="94.8" stroke="#444" stroke-width="0.5"/>
<line x1="336.27" y1="93.6" x2="336.27" y2="94.8" stroke="#444" stroke-width="0.5"/>
<line x1="337.16" y1="93.6" x2="337.16" y2="94.8" stroke="#444" stroke-width="0.5"/>
<line x1="337.94" y1="93.6" x2="337.94" y2="94.8" stroke="#444" stroke-width="0.5"/>
<text x="322.92" y="103.9" font-size="6.2" text-anchor="middle" fill="#333">10<tspan font-size="4.2" dy="-2.6">1</tspan></text>
<line x1="338.64" y1="93.6" x2="338.64" y2="95.6" stroke="#222" stroke-width="0.8"/>
<line x1="343.25" y1="93.6" x2="343.25" y2="94.8" stroke="#444" stroke-width="0.5"/>
<line x1="345.95" y1="93.6" x2="345.95" y2="94.8" stroke="#444" stroke-width="0.5"/>
<line x1="347.86" y1="93.6" x2="347.86" y2="94.8" stroke="#444" stroke-width="0.5"/>
<line x1="349.35" y1="93.6" x2="349.35" y2="94.8" stroke="#444" stroke-width="0.5"/>
<line x1="350.56" y1="93.6" x2="350.56" y2="94.8" stroke="#444" stroke-width="0.5"/>
<line x1="351.59" y1="93.6" x2="351.59" y2="94.8" stroke="#444" stroke-width="0.5"/>
<line x1="352.48" y1="93.6" x2="352.48" y2="94.8" stroke="#444" stroke-width="0.5"/>
<line x1="353.26" y1="93.6" x2="353.26" y2="94.8" stroke="#444" stroke-width="0.5"/>
<text x="338.24" y="103.9" font-size="6.2" text-anchor="middle" fill="#333">10<tspan font-size="4.2" dy="-2.6">2</tspan></text>
<line x1="353.96" y1="93.6" x2="353.96" y2="95.6" stroke="#222" stroke-width="0.8"/>
<line x1="358.57" y1="93.6" x2="358.57" y2="94.8" stroke="#444" stroke-width="0.5"/>
<line x1="361.27" y1="93.6" x2="361.27" y2="94.8" stroke="#444" stroke-width="0.5"/>
<line x1="363.18" y1="93.6" x2="363.18" y2="94.8" stroke="#444" stroke-width="0.5"/>
<line x1="364.67" y1="93.6" x2="364.67" y2="94.8" stroke="#444" stroke-width="0.5"/>
<line x1="365.88" y1="93.6" x2="365.88" y2="94.8" stroke="#444" stroke-width="0.5"/>
<line x1="366.91" y1="93.6" x2="366.91" y2="94.8" stroke="#444" stroke-width="0.5"/>
<line x1="367.8" y1="93.6" x2="367.8" y2="94.8" stroke="#444" stroke-width="0.5"/>
<line x1="368.58" y1="93.6" x2="368.58" y2="94.8" stroke="#444" stroke-width="0.5"/>
<text x="353.56" y="103.9" font-size="6.2" text-anchor="middle" fill="#333">10<tspan font-size="4.2" dy="-2.6">3</tspan></text>
<line x1="369.28" y1="93.6" x2="369.28" y2="95.6" stroke="#222" stroke-width="0.8"/>
<line x1="373.89" y1="93.6" x2="373.89" y2="94.8" stroke="#444" stroke-width="0.5"/>
<line x1="376.59" y1="93.6" x2="376.59" y2="94.8" stroke="#444" stroke-width="0.5"/>
<line x1="378.5" y1="93.6" x2="378.5" y2="94.8" stroke="#444" stroke-width="0.5"/>
<line x1="379.99" y1="93.6" x2="379.99" y2="94.8" stroke="#444" stroke-width="0.5"/>
<line x1="381.2" y1="93.6" x2="381.2" y2="94.8" stroke="#444" stroke-width="0.5"/>
<line x1="382.23" y1="93.6" x2="382.23" y2="94.8" stroke="#444" stroke-width="0.5"/>
<line x1="383.12" y1="93.6" x2="383.12" y2="94.8" stroke="#444" stroke-width="0.5"/>
<line x1="383.9" y1="93.6" x2="383.9" y2="94.8" stroke="#444" stroke-width="0.5"/>
<text x="368.88" y="103.9" font-size="6.2" text-anchor="middle" fill="#333">10<tspan font-size="4.2" dy="-2.6">4</tspan></text>
<line x1="384.6" y1="93.6" x2="384.6" y2="95.6" stroke="#222" stroke-width="0.8"/>
<text x="384.2" y="103.9" font-size="6.2" text-anchor="middle" fill="#333">10<tspan font-size="4.2" dy="-2.6">5</tspan></text>
<line x1="306.9" y1="108.6" x2="383.5" y2="108.6" stroke="#111" stroke-width="1"/>
<path d="M386.5,108.6 L382.6,106.5 L382.6,110.7 Z" fill="#111"/>
<text transform="translate(346.3,119) scale(0.64,1)" font-size="9" font-weight="bold" text-anchor="middle" fill="#222">HLA-ABC</text>
<text x="346.5" y="13.8" font-size="9.9" text-anchor="middle" fill="#111" letter-spacing="-0.2">SUDHL-6</text>
<text x="295.2" y="13.9" font-size="11.4" font-weight="bold" fill="#000" stroke="#000" stroke-width="0.45">C</text>
<path d="M430,38.2 C430.43,37.7 431.65,36.47 432.6,35.2 C433.55,33.93 434.67,32.27 435.7,30.6 C436.73,28.93 438.03,26.23 438.8,25.2 C439.57,24.17 439.73,24.78 440.3,24.4 C440.87,24.02 441.55,22.38 442.2,22.9 C442.85,23.42 443.53,25.83 444.2,27.5 C444.87,29.17 445.57,31.12 446.2,32.9 C446.83,34.68 447.32,36.53 448,38.2 C448.68,39.87 449.53,41.92 450.3,42.9 C451.07,43.88 451.98,43.85 452.6,44.1 C453.22,44.35 445,44.35 454,44.4 C463,44.45 497.83,44.4 506.6,44.4 L506.6,44.4 L430,44.4 Z" fill="#dc7382" stroke="none" style="mix-blend-mode:multiply"/>
<path d="M430,38.2 C430.43,37.7 431.65,36.47 432.6,35.2 C433.55,33.93 434.67,32.27 435.7,30.6 C436.73,28.93 438.03,26.23 438.8,25.2 C439.57,24.17 439.73,24.78 440.3,24.4 C440.87,24.02 441.55,22.38 442.2,22.9 C442.85,23.42 443.53,25.83 444.2,27.5 C444.87,29.17 445.57,31.12 446.2,32.9 C446.83,34.68 447.32,36.53 448,38.2 C448.68,39.87 449.53,41.92 450.3,42.9 C451.07,43.88 451.98,43.85 452.6,44.1 C453.22,44.35 445,44.35 454,44.4 C463,44.45 497.83,44.4 506.6,44.4" fill="none" stroke="#d8486a" stroke-width="1.05" style="mix-blend-mode:multiply"/>
<path d="M430,56.7 C430.82,56.42 433.32,55.78 434.9,55 C436.48,54.22 437.95,53.42 439.5,52 C441.05,50.58 442.92,48.18 444.2,46.5 C445.48,44.82 446.18,43.43 447.2,41.9 C448.22,40.37 449.35,38.45 450.3,37.3 C451.25,36.15 452,35.13 452.9,35 C453.8,34.87 454.85,35.35 455.7,36.5 C456.55,37.65 457.23,39.85 458,41.9 C458.77,43.95 459.4,46.62 460.3,48.8 C461.2,50.98 462.12,53.68 463.4,55 C464.68,56.32 466.9,56.37 468,56.7 C469.1,57.03 463.57,56.95 470,57 C476.43,57.05 500.5,57 506.6,57 L506.6,57 L430,57 Z" fill="#89a8c3" stroke="none" style="mix-blend-mode:multiply"/>
<path d="M430,56.7 C430.82,56.42 433.32,55.78 434.9,55 C436.48,54.22 437.95,53.42 439.5,52 C441.05,50.58 442.92,48.18 444.2,46.5 C445.48,44.82 446.18,43.43 447.2,41.9 C448.22,40.37 449.35,38.45 450.3,37.3 C451.25,36.15 452,35.13 452.9,35 C453.8,34.87 454.85,35.35 455.7,36.5 C456.55,37.65 457.23,39.85 458,41.9 C458.77,43.95 459.4,46.62 460.3,48.8 C461.2,50.98 462.12,53.68 463.4,55 C464.68,56.32 466.9,56.37 468,56.7 C469.1,57.03 463.57,56.95 470,57 C476.43,57.05 500.5,57 506.6,57" fill="none" stroke="#5683ae" stroke-width="1.05" style="mix-blend-mode:multiply"/>
<path d="M430,69.5 C431.72,69.45 437.82,69.72 440.3,69.2 C442.78,68.68 443.48,68.15 444.9,66.4 C446.32,64.65 447.65,61 448.8,58.7 C449.95,56.4 450.9,54.08 451.8,52.6 C452.7,51.12 453.47,50.45 454.2,49.8 C454.93,49.15 455.43,48.62 456.2,48.7 C456.97,48.78 457.98,49.27 458.8,50.3 C459.62,51.33 460.2,52.85 461.1,54.9 C462,56.95 463.18,60.42 464.2,62.6 C465.22,64.78 466.18,66.85 467.2,68 C468.22,69.15 469.5,69.25 470.3,69.5 C471.1,69.75 465.95,69.5 472,69.5 C478.05,69.5 500.83,69.5 506.6,69.5 L506.6,69.5 L430,69.5 Z" fill="#b2deb6" stroke="none" style="mix-blend-mode:multiply"/>
<path d="M430,69.5 C431.72,69.45 437.82,69.72 440.3,69.2 C442.78,68.68 443.48,68.15 444.9,66.4 C446.32,64.65 447.65,61 448.8,58.7 C449.95,56.4 450.9,54.08 451.8,52.6 C452.7,51.12 453.47,50.45 454.2,49.8 C454.93,49.15 455.43,48.62 456.2,48.7 C456.97,48.78 457.98,49.27 458.8,50.3 C459.62,51.33 460.2,52.85 461.1,54.9 C462,56.95 463.18,60.42 464.2,62.6 C465.22,64.78 466.18,66.85 467.2,68 C468.22,69.15 469.5,69.25 470.3,69.5 C471.1,69.75 465.95,69.5 472,69.5 C478.05,69.5 500.83,69.5 506.6,69.5" fill="none" stroke="#62c862" stroke-width="1.05" style="mix-blend-mode:multiply"/>
<path d="M430,81.8 C430.82,81.33 433.32,79.85 434.9,79 C436.48,78.15 438.08,77.98 439.5,76.7 C440.92,75.42 442.23,73.22 443.4,71.3 C444.57,69.38 445.53,66.93 446.5,65.2 C447.47,63.47 448.43,61.8 449.2,60.9 C449.97,60 450.4,59.6 451.1,59.8 C451.8,60 452.63,60.68 453.4,62.1 C454.17,63.52 454.8,66.25 455.7,68.3 C456.6,70.35 457.78,72.48 458.8,74.4 C459.82,76.32 460.52,78.52 461.8,79.8 C463.08,81.08 465.47,81.72 466.5,82.1 C467.53,82.48 461.32,82.1 468,82.1 C474.68,82.1 500.17,82.1 506.6,82.1 L506.6,82.1 L430,82.1 Z" fill="#cdbed7" stroke="none" style="mix-blend-mode:multiply"/>
<path d="M430,81.8 C430.82,81.33 433.32,79.85 434.9,79 C436.48,78.15 438.08,77.98 439.5,76.7 C440.92,75.42 442.23,73.22 443.4,71.3 C444.57,69.38 445.53,66.93 446.5,65.2 C447.47,63.47 448.43,61.8 449.2,60.9 C449.97,60 450.4,59.6 451.1,59.8 C451.8,60 452.63,60.68 453.4,62.1 C454.17,63.52 454.8,66.25 455.7,68.3 C456.6,70.35 457.78,72.48 458.8,74.4 C459.82,76.32 460.52,78.52 461.8,79.8 C463.08,81.08 465.47,81.72 466.5,82.1 C467.53,82.48 461.32,82.1 468,82.1 C474.68,82.1 500.17,82.1 506.6,82.1" fill="none" stroke="#7d5a9c" stroke-width="1.05" style="mix-blend-mode:multiply"/>
<path d="M430,93.6 C431.08,93.6 435.41,93.6 436.49,93.6 C437.57,93.6 435.87,94.03 436.5,93.6 C437.13,93.17 438.9,92.33 440.3,91 C441.7,89.67 443.67,87.53 444.9,85.6 C446.13,83.67 446.93,81.07 447.7,79.4 C448.47,77.73 448.82,76.42 449.5,75.6 C450.18,74.78 451.02,74.5 451.8,74.5 C452.58,74.5 453.55,75.55 454.2,75.6 C454.85,75.65 455.07,74.55 455.7,74.8 C456.33,75.05 457.18,76.2 458,77.1 C458.82,78 459.7,78.78 460.6,80.2 C461.5,81.62 462.42,83.8 463.4,85.6 C464.38,87.4 465.6,89.72 466.5,91 C467.4,92.28 468.22,92.87 468.8,93.3 C469.38,93.73 463.7,93.55 470,93.6 C476.3,93.65 500.5,93.6 506.6,93.6 L506.6,93.6 L430,93.6 Z" fill="#ffe6cd" stroke="none" style="mix-blend-mode:multiply"/>
<path d="M430,93.6 C431.08,93.6 435.41,93.6 436.49,93.6 C437.57,93.6 435.87,94.03 436.5,93.6 C437.13,93.17 438.9,92.33 440.3,91 C441.7,89.67 443.67,87.53 444.9,85.6 C446.13,83.67 446.93,81.07 447.7,79.4 C448.47,77.73 448.82,76.42 449.5,75.6 C450.18,74.78 451.02,74.5 451.8,74.5 C452.58,74.5 453.55,75.55 454.2,75.6 C454.85,75.65 455.07,74.55 455.7,74.8 C456.33,75.05 457.18,76.2 458,77.1 C458.82,78 459.7,78.78 460.6,80.2 C461.5,81.62 462.42,83.8 463.4,85.6 C464.38,87.4 465.6,89.72 466.5,91 C467.4,92.28 468.22,92.87 468.8,93.3 C469.38,93.73 463.7,93.55 470,93.6 C476.3,93.65 500.5,93.6 506.6,93.6" fill="none" stroke="#f5a73c" stroke-width="1.05" style="mix-blend-mode:multiply"/>
<rect x="430" y="17.5" width="76.6" height="76.1" fill="none" stroke="#222" stroke-width="1"/>
<line x1="430" y1="93.6" x2="430" y2="95.6" stroke="#222" stroke-width="0.8"/>
<line x1="434.61" y1="93.6" x2="434.61" y2="94.8" stroke="#444" stroke-width="0.5"/>
<line x1="437.31" y1="93.6" x2="437.31" y2="94.8" stroke="#444" stroke-width="0.5"/>
<line x1="439.22" y1="93.6" x2="439.22" y2="94.8" stroke="#444" stroke-width="0.5"/>
<line x1="440.71" y1="93.6" x2="440.71" y2="94.8" stroke="#444" stroke-width="0.5"/>
<line x1="441.92" y1="93.6" x2="441.92" y2="94.8" stroke="#444" stroke-width="0.5"/>
<line x1="442.95" y1="93.6" x2="442.95" y2="94.8" stroke="#444" stroke-width="0.5"/>
<line x1="443.84" y1="93.6" x2="443.84" y2="94.8" stroke="#444" stroke-width="0.5"/>
<line x1="444.62" y1="93.6" x2="444.62" y2="94.8" stroke="#444" stroke-width="0.5"/>
<text x="429.6" y="103.9" font-size="6.2" text-anchor="middle" fill="#333">10<tspan font-size="4.2" dy="-2.6">0</tspan></text>
<line x1="445.32" y1="93.6" x2="445.32" y2="95.6" stroke="#222" stroke-width="0.8"/>
<line x1="449.93" y1="93.6" x2="449.93" y2="94.8" stroke="#444" stroke-width="0.5"/>
<line x1="452.63" y1="93.6" x2="452.63" y2="94.8" stroke="#444" stroke-width="0.5"/>
<line x1="454.54" y1="93.6" x2="454.54" y2="94.8" stroke="#444" stroke-width="0.5"/>
<line x1="456.03" y1="93.6" x2="456.03" y2="94.8" stroke="#444" stroke-width="0.5"/>
<line x1="457.24" y1="93.6" x2="457.24" y2="94.8" stroke="#444" stroke-width="0.5"/>
<line x1="458.27" y1="93.6" x2="458.27" y2="94.8" stroke="#444" stroke-width="0.5"/>
<line x1="459.16" y1="93.6" x2="459.16" y2="94.8" stroke="#444" stroke-width="0.5"/>
<line x1="459.94" y1="93.6" x2="459.94" y2="94.8" stroke="#444" stroke-width="0.5"/>
<text x="444.92" y="103.9" font-size="6.2" text-anchor="middle" fill="#333">10<tspan font-size="4.2" dy="-2.6">1</tspan></text>
<line x1="460.64" y1="93.6" x2="460.64" y2="95.6" stroke="#222" stroke-width="0.8"/>
<line x1="465.25" y1="93.6" x2="465.25" y2="94.8" stroke="#444" stroke-width="0.5"/>
<line x1="467.95" y1="93.6" x2="467.95" y2="94.8" stroke="#444" stroke-width="0.5"/>
<line x1="469.86" y1="93.6" x2="469.86" y2="94.8" stroke="#444" stroke-width="0.5"/>
<line x1="471.35" y1="93.6" x2="471.35" y2="94.8" stroke="#444" stroke-width="0.5"/>
<line x1="472.56" y1="93.6" x2="472.56" y2="94.8" stroke="#444" stroke-width="0.5"/>
<line x1="473.59" y1="93.6" x2="473.59" y2="94.8" stroke="#444" stroke-width="0.5"/>
<line x1="474.48" y1="93.6" x2="474.48" y2="94.8" stroke="#444" stroke-width="0.5"/>
<line x1="475.26" y1="93.6" x2="475.26" y2="94.8" stroke="#444" stroke-width="0.5"/>
<text x="460.24" y="103.9" font-size="6.2" text-anchor="middle" fill="#333">10<tspan font-size="4.2" dy="-2.6">2</tspan></text>
<line x1="475.96" y1="93.6" x2="475.96" y2="95.6" stroke="#222" stroke-width="0.8"/>
<line x1="480.57" y1="93.6" x2="480.57" y2="94.8" stroke="#444" stroke-width="0.5"/>
<line x1="483.27" y1="93.6" x2="483.27" y2="94.8" stroke="#444" stroke-width="0.5"/>
<line x1="485.18" y1="93.6" x2="485.18" y2="94.8" stroke="#444" stroke-width="0.5"/>
<line x1="486.67" y1="93.6" x2="486.67" y2="94.8" stroke="#444" stroke-width="0.5"/>
<line x1="487.88" y1="93.6" x2="487.88" y2="94.8" stroke="#444" stroke-width="0.5"/>
<line x1="488.91" y1="93.6" x2="488.91" y2="94.8" stroke="#444" stroke-width="0.5"/>
<line x1="489.8" y1="93.6" x2="489.8" y2="94.8" stroke="#444" stroke-width="0.5"/>
<line x1="490.58" y1="93.6" x2="490.58" y2="94.8" stroke="#444" stroke-width="0.5"/>
<text x="475.56" y="103.9" font-size="6.2" text-anchor="middle" fill="#333">10<tspan font-size="4.2" dy="-2.6">3</tspan></text>
<line x1="491.28" y1="93.6" x2="491.28" y2="95.6" stroke="#222" stroke-width="0.8"/>
<line x1="495.89" y1="93.6" x2="495.89" y2="94.8" stroke="#444" stroke-width="0.5"/>
<line x1="498.59" y1="93.6" x2="498.59" y2="94.8" stroke="#444" stroke-width="0.5"/>
<line x1="500.5" y1="93.6" x2="500.5" y2="94.8" stroke="#444" stroke-width="0.5"/>
<line x1="501.99" y1="93.6" x2="501.99" y2="94.8" stroke="#444" stroke-width="0.5"/>
<line x1="503.2" y1="93.6" x2="503.2" y2="94.8" stroke="#444" stroke-width="0.5"/>
<line x1="504.23" y1="93.6" x2="504.23" y2="94.8" stroke="#444" stroke-width="0.5"/>
<line x1="505.12" y1="93.6" x2="505.12" y2="94.8" stroke="#444" stroke-width="0.5"/>
<line x1="505.9" y1="93.6" x2="505.9" y2="94.8" stroke="#444" stroke-width="0.5"/>
<text x="490.88" y="103.9" font-size="6.2" text-anchor="middle" fill="#333">10<tspan font-size="4.2" dy="-2.6">4</tspan></text>
<line x1="506.6" y1="93.6" x2="506.6" y2="95.6" stroke="#222" stroke-width="0.8"/>
<text x="506.2" y="103.9" font-size="6.2" text-anchor="middle" fill="#333">10<tspan font-size="4.2" dy="-2.6">5</tspan></text>
<line x1="431.2" y1="108.6" x2="507.8" y2="108.6" stroke="#111" stroke-width="1"/>
<path d="M510.8,108.6 L506.9,106.5 L506.9,110.7 Z" fill="#111"/>
<text transform="translate(468.3,119) scale(0.64,1)" font-size="9" font-weight="bold" text-anchor="middle" fill="#222">HLA-A2</text>
<text x="470.8" y="13.8" font-size="9.9" text-anchor="middle" fill="#111" letter-spacing="-0.2">SUDHL-6</text>
<text x="417.3" y="13.9" font-size="11.4" font-weight="bold" fill="#000" stroke="#000" stroke-width="0.45">D</text>
<path d="M72.2,319.7 C72.37,320.37 72.28,323.12 73.2,323.7 C74.12,324.28 76.18,323.62 77.7,323.2 C79.22,322.78 80.88,322.03 82.3,321.2 C83.72,320.37 85.05,319.33 86.2,318.2 C87.35,317.07 88.18,315.55 89.2,314.4 C90.22,313.25 91.4,312.33 92.3,311.3 C93.2,310.27 93.9,308.97 94.6,308.2 C95.3,307.43 95.85,306.57 96.5,306.7 C97.15,306.83 97.92,307.85 98.5,309 C99.08,310.15 99.5,311.95 100,313.6 C100.5,315.25 100.98,317.25 101.5,318.9 C102.02,320.55 102.58,322.53 103.1,323.5 C103.62,324.47 104.12,324.5 104.6,324.7 C105.08,324.9 98.67,324.7 106,324.7 C113.33,324.7 141.5,324.7 148.6,324.7 L148.6,324.7 L72.2,324.7 Z" fill="#dc7382" stroke="none" style="mix-blend-mode:multiply"/>
<path d="M72.2,319.7 C72.37,320.37 72.28,323.12 73.2,323.7 C74.12,324.28 76.18,323.62 77.7,323.2 C79.22,322.78 80.88,322.03 82.3,321.2 C83.72,320.37 85.05,319.33 86.2,318.2 C87.35,317.07 88.18,315.55 89.2,314.4 C90.22,313.25 91.4,312.33 92.3,311.3 C93.2,310.27 93.9,308.97 94.6,308.2 C95.3,307.43 95.85,306.57 96.5,306.7 C97.15,306.83 97.92,307.85 98.5,309 C99.08,310.15 99.5,311.95 100,313.6 C100.5,315.25 100.98,317.25 101.5,318.9 C102.02,320.55 102.58,322.53 103.1,323.5 C103.62,324.47 104.12,324.5 104.6,324.7 C105.08,324.9 98.67,324.7 106,324.7 C113.33,324.7 141.5,324.7 148.6,324.7" fill="none" stroke="#d8486a" stroke-width="1.05" style="mix-blend-mode:multiply"/>
<path d="M72.2,335.4 C73.88,335.35 79.58,335.3 82.3,335.1 C85.02,334.9 86.7,334.62 88.5,334.2 C90.3,333.78 91.7,333.3 93.1,332.6 C94.5,331.9 95.62,331.07 96.9,330 C98.18,328.93 99.65,327.48 100.8,326.2 C101.95,324.92 102.98,323.38 103.8,322.3 C104.62,321.22 105.13,320.55 105.7,319.7 C106.27,318.85 106.73,317.02 107.2,317.2 C107.67,317.38 107.98,319.57 108.5,320.8 C109.02,322.03 109.67,323.2 110.3,324.6 C110.93,326 111.58,327.7 112.3,329.2 C113.02,330.7 113.7,332.62 114.6,333.6 C115.5,334.58 116.8,334.8 117.7,335.1 C118.6,335.4 114.85,335.35 120,335.4 C125.15,335.45 143.83,335.4 148.6,335.4 L148.6,335.4 L72.2,335.4 Z" fill="#89a8c3" stroke="none" style="mix-blend-mode:multiply"/>
<path d="M72.2,335.4 C73.88,335.35 79.58,335.3 82.3,335.1 C85.02,334.9 86.7,334.62 88.5,334.2 C90.3,333.78 91.7,333.3 93.1,332.6 C94.5,331.9 95.62,331.07 96.9,330 C98.18,328.93 99.65,327.48 100.8,326.2 C101.95,324.92 102.98,323.38 103.8,322.3 C104.62,321.22 105.13,320.55 105.7,319.7 C106.27,318.85 106.73,317.02 107.2,317.2 C107.67,317.38 107.98,319.57 108.5,320.8 C109.02,322.03 109.67,323.2 110.3,324.6 C110.93,326 111.58,327.7 112.3,329.2 C113.02,330.7 113.7,332.62 114.6,333.6 C115.5,334.58 116.8,334.8 117.7,335.1 C118.6,335.4 114.85,335.35 120,335.4 C125.15,335.45 143.83,335.4 148.6,335.4" fill="none" stroke="#5683ae" stroke-width="1.05" style="mix-blend-mode:multiply"/>
<path d="M72.2,346.1 C76.45,346.05 91.92,346 97.7,345.8 C103.48,345.6 104.33,345.37 106.9,344.9 C109.47,344.43 111.43,343.95 113.1,343 C114.77,342.05 115.75,340.73 116.9,339.2 C118.05,337.67 118.97,335.47 120,333.8 C121.03,332.13 122.07,330.43 123.1,329.2 C124.13,327.97 125.3,326.15 126.2,326.4 C127.1,326.65 127.73,329.22 128.5,330.7 C129.27,332.18 129.92,333.63 130.8,335.3 C131.68,336.97 132.65,339.15 133.8,340.7 C134.95,342.25 136.28,343.75 137.7,344.6 C139.12,345.45 141.08,345.55 142.3,345.8 C143.52,346.05 143.95,346.05 145,346.1 C146.05,346.15 148,346.1 148.6,346.1 L148.6,346.1 L72.2,346.1 Z" fill="#9bc4b8" stroke="none" style="mix-blend-mode:multiply"/>
<path d="M72.2,346.1 C76.45,346.05 91.92,346 97.7,345.8 C103.48,345.6 104.33,345.37 106.9,344.9 C109.47,344.43 111.43,343.95 113.1,343 C114.77,342.05 115.75,340.73 116.9,339.2 C118.05,337.67 118.97,335.47 120,333.8 C121.03,332.13 122.07,330.43 123.1,329.2 C124.13,327.97 125.3,326.15 126.2,326.4 C127.1,326.65 127.73,329.22 128.5,330.7 C129.27,332.18 129.92,333.63 130.8,335.3 C131.68,336.97 132.65,339.15 133.8,340.7 C134.95,342.25 136.28,343.75 137.7,344.6 C139.12,345.45 141.08,345.55 142.3,345.8 C143.52,346.05 143.95,346.05 145,346.1 C146.05,346.15 148,346.1 148.6,346.1" fill="none" stroke="#3c8c78" stroke-width="1.05" style="mix-blend-mode:multiply"/>
<path d="M72.2,356.7 C78.25,356.65 100.4,356.6 108.5,356.4 C116.6,356.2 118.12,356.22 120.8,355.5 C123.48,354.78 123.58,353.43 124.6,352.1 C125.62,350.77 126.13,349.3 126.9,347.5 C127.67,345.7 128.55,342.53 129.2,341.3 C129.85,340.07 130.15,339.97 130.8,340.1 C131.45,340.23 132.2,340.62 133.1,342.1 C134,343.58 135.18,346.95 136.2,349 C137.22,351.05 137.93,353.17 139.2,354.4 C140.47,355.63 142.67,356.02 143.8,356.4 C144.93,356.78 145.2,356.65 146,356.7 C146.8,356.75 148.17,356.7 148.6,356.7 L148.6,356.7 L72.2,356.7 Z" fill="#d0cee6" stroke="none" style="mix-blend-mode:multiply"/>
<path d="M72.2,356.7 C78.25,356.65 100.4,356.6 108.5,356.4 C116.6,356.2 118.12,356.22 120.8,355.5 C123.48,354.78 123.58,353.43 124.6,352.1 C125.62,350.77 126.13,349.3 126.9,347.5 C127.67,345.7 128.55,342.53 129.2,341.3 C129.85,340.07 130.15,339.97 130.8,340.1 C131.45,340.23 132.2,340.62 133.1,342.1 C134,343.58 135.18,346.95 136.2,349 C137.22,351.05 137.93,353.17 139.2,354.4 C140.47,355.63 142.67,356.02 143.8,356.4 C144.93,356.78 145.2,356.65 146,356.7 C146.8,356.75 148.17,356.7 148.6,356.7" fill="none" stroke="#9d94d2" stroke-width="1.05" style="mix-blend-mode:multiply"/>
<path d="M72.2,367 C77.73,366.95 98.47,366.95 105.4,366.7 C112.33,366.45 111.75,366.48 113.8,365.5 C115.85,364.52 116.53,362.6 117.7,360.8 C118.87,359 119.9,356.37 120.8,354.7 C121.7,353.03 122.47,351.83 123.1,350.8 C123.73,349.77 123.97,348.23 124.6,348.5 C125.23,348.77 126,350.73 126.9,352.4 C127.8,354.07 128.85,356.58 130,358.5 C131.15,360.42 132.38,362.53 133.8,363.9 C135.22,365.27 137.47,366.18 138.5,366.7 C139.53,367.22 138.32,366.95 140,367 C141.68,367.05 147.17,367 148.6,367 L148.6,367 L72.2,367 Z" fill="#c8cbd0" stroke="none" style="mix-blend-mode:multiply"/>
<path d="M72.2,367 C77.73,366.95 98.47,366.95 105.4,366.7 C112.33,366.45 111.75,366.48 113.8,365.5 C115.85,364.52 116.53,362.6 117.7,360.8 C118.87,359 119.9,356.37 120.8,354.7 C121.7,353.03 122.47,351.83 123.1,350.8 C123.73,349.77 123.97,348.23 124.6,348.5 C125.23,348.77 126,350.73 126.9,352.4 C127.8,354.07 128.85,356.58 130,358.5 C131.15,360.42 132.38,362.53 133.8,363.9 C135.22,365.27 137.47,366.18 138.5,366.7 C139.53,367.22 138.32,366.95 140,367 C141.68,367.05 147.17,367 148.6,367" fill="none" stroke="#6a7180" stroke-width="1.05" style="mix-blend-mode:multiply"/>
<path d="M72.2,378.6 C80.03,378.6 111.36,378.6 119.19,378.6 C127.02,378.6 118.81,379.27 119.2,378.6 C119.59,377.93 120.87,376.02 121.5,374.6 C122.13,373.18 122.55,371.23 123,370.1 C123.45,368.97 123.7,368.68 124.2,367.8 C124.7,366.92 125.28,366.1 126,364.8 C126.72,363.5 127.83,360.62 128.5,360 C129.17,359.38 129.28,360.35 130,361.1 C130.72,361.85 131.82,362.93 132.8,364.5 C133.78,366.07 135.03,368.73 135.9,370.5 C136.77,372.27 137.28,373.88 138,375.1 C138.72,376.32 139.62,377.22 140.2,377.8 C140.78,378.38 140.1,378.47 141.5,378.6 C142.9,378.73 147.42,378.6 148.6,378.6 L148.6,378.6 L72.2,378.6 Z" fill="#d4ecf8" stroke="none" style="mix-blend-mode:multiply"/>
<path d="M72.2,378.6 C80.03,378.6 111.36,378.6 119.19,378.6 C127.02,378.6 118.81,379.27 119.2,378.6 C119.59,377.93 120.87,376.02 121.5,374.6 C122.13,373.18 122.55,371.23 123,370.1 C123.45,368.97 123.7,368.68 124.2,367.8 C124.7,366.92 125.28,366.1 126,364.8 C126.72,363.5 127.83,360.62 128.5,360 C129.17,359.38 129.28,360.35 130,361.1 C130.72,361.85 131.82,362.93 132.8,364.5 C133.78,366.07 135.03,368.73 135.9,370.5 C136.77,372.27 137.28,373.88 138,375.1 C138.72,376.32 139.62,377.22 140.2,377.8 C140.78,378.38 140.1,378.47 141.5,378.6 C142.9,378.73 147.42,378.6 148.6,378.6" fill="none" stroke="#45b8e8" stroke-width="1.05" style="mix-blend-mode:multiply"/>
<rect x="72.2" y="301.3" width="76.4" height="77.3" fill="none" stroke="#222" stroke-width="1"/>
<line x1="72.2" y1="378.6" x2="72.2" y2="380.6" stroke="#222" stroke-width="0.8"/>
<line x1="76.8" y1="378.6" x2="76.8" y2="379.8" stroke="#444" stroke-width="0.5"/>
<line x1="79.49" y1="378.6" x2="79.49" y2="379.8" stroke="#444" stroke-width="0.5"/>
<line x1="81.4" y1="378.6" x2="81.4" y2="379.8" stroke="#444" stroke-width="0.5"/>
<line x1="82.88" y1="378.6" x2="82.88" y2="379.8" stroke="#444" stroke-width="0.5"/>
<line x1="84.09" y1="378.6" x2="84.09" y2="379.8" stroke="#444" stroke-width="0.5"/>
<line x1="85.11" y1="378.6" x2="85.11" y2="379.8" stroke="#444" stroke-width="0.5"/>
<line x1="86" y1="378.6" x2="86" y2="379.8" stroke="#444" stroke-width="0.5"/>
<line x1="86.78" y1="378.6" x2="86.78" y2="379.8" stroke="#444" stroke-width="0.5"/>
<text x="71.8" y="388.9" font-size="6.2" text-anchor="middle" fill="#333">10<tspan font-size="4.2" dy="-2.6">0</tspan></text>
<line x1="87.48" y1="378.6" x2="87.48" y2="380.6" stroke="#222" stroke-width="0.8"/>
<line x1="92.08" y1="378.6" x2="92.08" y2="379.8" stroke="#444" stroke-width="0.5"/>
<line x1="94.77" y1="378.6" x2="94.77" y2="379.8" stroke="#444" stroke-width="0.5"/>
<line x1="96.68" y1="378.6" x2="96.68" y2="379.8" stroke="#444" stroke-width="0.5"/>
<line x1="98.16" y1="378.6" x2="98.16" y2="379.8" stroke="#444" stroke-width="0.5"/>
<line x1="99.37" y1="378.6" x2="99.37" y2="379.8" stroke="#444" stroke-width="0.5"/>
<line x1="100.39" y1="378.6" x2="100.39" y2="379.8" stroke="#444" stroke-width="0.5"/>
<line x1="101.28" y1="378.6" x2="101.28" y2="379.8" stroke="#444" stroke-width="0.5"/>
<line x1="102.06" y1="378.6" x2="102.06" y2="379.8" stroke="#444" stroke-width="0.5"/>
<text x="87.08" y="388.9" font-size="6.2" text-anchor="middle" fill="#333">10<tspan font-size="4.2" dy="-2.6">1</tspan></text>
<line x1="102.76" y1="378.6" x2="102.76" y2="380.6" stroke="#222" stroke-width="0.8"/>
<line x1="107.36" y1="378.6" x2="107.36" y2="379.8" stroke="#444" stroke-width="0.5"/>
<line x1="110.05" y1="378.6" x2="110.05" y2="379.8" stroke="#444" stroke-width="0.5"/>
<line x1="111.96" y1="378.6" x2="111.96" y2="379.8" stroke="#444" stroke-width="0.5"/>
<line x1="113.44" y1="378.6" x2="113.44" y2="379.8" stroke="#444" stroke-width="0.5"/>
<line x1="114.65" y1="378.6" x2="114.65" y2="379.8" stroke="#444" stroke-width="0.5"/>
<line x1="115.67" y1="378.6" x2="115.67" y2="379.8" stroke="#444" stroke-width="0.5"/>
<line x1="116.56" y1="378.6" x2="116.56" y2="379.8" stroke="#444" stroke-width="0.5"/>
<line x1="117.34" y1="378.6" x2="117.34" y2="379.8" stroke="#444" stroke-width="0.5"/>
<text x="102.36" y="388.9" font-size="6.2" text-anchor="middle" fill="#333">10<tspan font-size="4.2" dy="-2.6">2</tspan></text>
<line x1="118.04" y1="378.6" x2="118.04" y2="380.6" stroke="#222" stroke-width="0.8"/>
<line x1="122.64" y1="378.6" x2="122.64" y2="379.8" stroke="#444" stroke-width="0.5"/>
<line x1="125.33" y1="378.6" x2="125.33" y2="379.8" stroke="#444" stroke-width="0.5"/>
<line x1="127.24" y1="378.6" x2="127.24" y2="379.8" stroke="#444" stroke-width="0.5"/>
<line x1="128.72" y1="378.6" x2="128.72" y2="379.8" stroke="#444" stroke-width="0.5"/>
<line x1="129.93" y1="378.6" x2="129.93" y2="379.8" stroke="#444" stroke-width="0.5"/>
<line x1="130.95" y1="378.6" x2="130.95" y2="379.8" stroke="#444" stroke-width="0.5"/>
<line x1="131.84" y1="378.6" x2="131.84" y2="379.8" stroke="#444" stroke-width="0.5"/>
<line x1="132.62" y1="378.6" x2="132.62" y2="379.8" stroke="#444" stroke-width="0.5"/>
<text x="117.64" y="388.9" font-size="6.2" text-anchor="middle" fill="#333">10<tspan font-size="4.2" dy="-2.6">3</tspan></text>
<line x1="133.32" y1="378.6" x2="133.32" y2="380.6" stroke="#222" stroke-width="0.8"/>
<line x1="137.92" y1="378.6" x2="137.92" y2="379.8" stroke="#444" stroke-width="0.5"/>
<line x1="140.61" y1="378.6" x2="140.61" y2="379.8" stroke="#444" stroke-width="0.5"/>
<line x1="142.52" y1="378.6" x2="142.52" y2="379.8" stroke="#444" stroke-width="0.5"/>
<line x1="144" y1="378.6" x2="144" y2="379.8" stroke="#444" stroke-width="0.5"/>
<line x1="145.21" y1="378.6" x2="145.21" y2="379.8" stroke="#444" stroke-width="0.5"/>
<line x1="146.23" y1="378.6" x2="146.23" y2="379.8" stroke="#444" stroke-width="0.5"/>
<line x1="147.12" y1="378.6" x2="147.12" y2="379.8" stroke="#444" stroke-width="0.5"/>
<line x1="147.9" y1="378.6" x2="147.9" y2="379.8" stroke="#444" stroke-width="0.5"/>
<text x="132.92" y="388.9" font-size="6.2" text-anchor="middle" fill="#333">10<tspan font-size="4.2" dy="-2.6">4</tspan></text>
<line x1="148.6" y1="378.6" x2="148.6" y2="380.6" stroke="#222" stroke-width="0.8"/>
<text x="148.2" y="388.9" font-size="6.2" text-anchor="middle" fill="#333">10<tspan font-size="4.2" dy="-2.6">5</tspan></text>
<line x1="71.9" y1="392.3" x2="150.4" y2="392.3" stroke="#111" stroke-width="1"/>
<path d="M153.4,392.3 L149.5,390.2 L149.5,394.4 Z" fill="#111"/>
<text transform="translate(108.8,403.1) scale(0.64,1)" font-size="9" font-weight="bold" text-anchor="middle" fill="#222">HLA-ABC</text>
<text x="110.4" y="297.1" font-size="9.9" text-anchor="middle" fill="#111" letter-spacing="-0.2">DB IFN-<tspan font-family="Liberation Serif" font-style="italic" font-size="1.08em">&#947;</tspan></text>
<text x="6.7" y="297.7" font-size="11.4" font-weight="bold" fill="#000" stroke="#000" stroke-width="0.45">E</text>
<text x="68.8" y="318.8" font-size="7.5" text-anchor="end" fill="#111" stroke="#111" stroke-width="0.18">Isotype</text>
<text x="68.8" y="329.7" font-size="7.5" text-anchor="end" fill="#111" stroke="#111" stroke-width="0.18">Untreated</text>
<text x="68.8" y="340.6" font-size="7.5" text-anchor="end" fill="#111" stroke="#111" stroke-width="0.18">IFN-<tspan font-family="Liberation Serif" font-style="italic" font-size="1.08em">&#947;</tspan></text>
<text x="68.8" y="351.5" font-size="7.5" text-anchor="end" fill="#111" stroke="#111" stroke-width="0.18">IFN-<tspan font-family="Liberation Serif" font-style="italic" font-size="1.08em">&#947;</tspan> + DAC</text>
<text x="68.8" y="362.4" font-size="7.5" text-anchor="end" fill="#111" stroke="#111" stroke-width="0.18">IFN-<tspan font-family="Liberation Serif" font-style="italic" font-size="1.08em">&#947;</tspan> + TAZ</text>
<text x="68.8" y="373.3" font-size="7.5" text-anchor="end" fill="#111" stroke="#111" stroke-width="0.18">IFN-<tspan font-family="Liberation Serif" font-style="italic" font-size="1.08em">&#947;</tspan> + DAC+TAZ</text>
<path d="M190.2,323.7 C190.87,323.73 192.77,324.25 194.2,323.9 C195.63,323.55 197.53,322.75 198.8,321.6 C200.07,320.45 200.9,318.67 201.8,317 C202.7,315.33 203.42,313.22 204.2,311.6 C204.98,309.98 205.87,308.12 206.5,307.3 C207.13,306.48 207.45,306.37 208,306.7 C208.55,307.03 209.17,307.97 209.8,309.3 C210.43,310.63 211.2,312.9 211.8,314.7 C212.4,316.5 212.75,318.57 213.4,320.1 C214.05,321.63 214.8,323.13 215.7,323.9 C216.6,324.67 218.08,324.57 218.8,324.7 C219.52,324.83 212.03,324.7 220,324.7 C227.97,324.7 258.83,324.7 266.6,324.7 L266.6,324.7 L190.2,324.7 Z" fill="#dc7382" stroke="none" style="mix-blend-mode:multiply"/>
<path d="M190.2,323.7 C190.87,323.73 192.77,324.25 194.2,323.9 C195.63,323.55 197.53,322.75 198.8,321.6 C200.07,320.45 200.9,318.67 201.8,317 C202.7,315.33 203.42,313.22 204.2,311.6 C204.98,309.98 205.87,308.12 206.5,307.3 C207.13,306.48 207.45,306.37 208,306.7 C208.55,307.03 209.17,307.97 209.8,309.3 C210.43,310.63 211.2,312.9 211.8,314.7 C212.4,316.5 212.75,318.57 213.4,320.1 C214.05,321.63 214.8,323.13 215.7,323.9 C216.6,324.67 218.08,324.57 218.8,324.7 C219.52,324.83 212.03,324.7 220,324.7 C227.97,324.7 258.83,324.7 266.6,324.7" fill="none" stroke="#d8486a" stroke-width="1.05" style="mix-blend-mode:multiply"/>
<path d="M190.2,335.4 C191.12,335.25 194.02,334.92 195.7,334.5 C197.38,334.08 199.15,333.6 200.3,332.9 C201.45,332.2 201.83,331.25 202.6,330.3 C203.37,329.35 204.25,328.1 204.9,327.2 C205.55,326.3 205.73,325.33 206.5,324.9 C207.27,324.47 208.48,324.6 209.5,324.6 C210.52,324.6 211.82,324.47 212.6,324.9 C213.38,325.33 213.55,326.03 214.2,327.2 C214.85,328.37 215.62,330.62 216.5,331.9 C217.38,333.18 218.58,334.32 219.5,334.9 C220.42,335.48 214.15,335.32 222,335.4 C229.85,335.48 259.17,335.4 266.6,335.4 L266.6,335.4 L190.2,335.4 Z" fill="#89a8c3" stroke="none" style="mix-blend-mode:multiply"/>
<path d="M190.2,335.4 C191.12,335.25 194.02,334.92 195.7,334.5 C197.38,334.08 199.15,333.6 200.3,332.9 C201.45,332.2 201.83,331.25 202.6,330.3 C203.37,329.35 204.25,328.1 204.9,327.2 C205.55,326.3 205.73,325.33 206.5,324.9 C207.27,324.47 208.48,324.6 209.5,324.6 C210.52,324.6 211.82,324.47 212.6,324.9 C213.38,325.33 213.55,326.03 214.2,327.2 C214.85,328.37 215.62,330.62 216.5,331.9 C217.38,333.18 218.58,334.32 219.5,334.9 C220.42,335.48 214.15,335.32 222,335.4 C229.85,335.48 259.17,335.4 266.6,335.4" fill="none" stroke="#5683ae" stroke-width="1.05" style="mix-blend-mode:multiply"/>
<path d="M190.2,346.1 C193.68,346.05 206.6,346 211.1,345.8 C215.6,345.6 215.53,345.62 217.2,344.9 C218.87,344.18 219.93,342.97 221.1,341.5 C222.27,340.03 223.18,337.77 224.2,336.1 C225.22,334.43 226.32,332.92 227.2,331.5 C228.08,330.08 228.9,328.5 229.5,327.6 C230.1,326.7 230.28,325.97 230.8,326.1 C231.32,326.23 231.98,326.98 232.6,328.4 C233.22,329.82 233.85,332.55 234.5,334.6 C235.15,336.65 235.67,338.98 236.5,340.7 C237.33,342.42 238.35,344 239.5,344.9 C240.65,345.8 242.48,345.9 243.4,346.1 C244.32,346.3 241.13,346.1 245,346.1 C248.87,346.1 263,346.1 266.6,346.1 L266.6,346.1 L190.2,346.1 Z" fill="#9bc4b8" stroke="none" style="mix-blend-mode:multiply"/>
<path d="M190.2,346.1 C193.68,346.05 206.6,346 211.1,345.8 C215.6,345.6 215.53,345.62 217.2,344.9 C218.87,344.18 219.93,342.97 221.1,341.5 C222.27,340.03 223.18,337.77 224.2,336.1 C225.22,334.43 226.32,332.92 227.2,331.5 C228.08,330.08 228.9,328.5 229.5,327.6 C230.1,326.7 230.28,325.97 230.8,326.1 C231.32,326.23 231.98,326.98 232.6,328.4 C233.22,329.82 233.85,332.55 234.5,334.6 C235.15,336.65 235.67,338.98 236.5,340.7 C237.33,342.42 238.35,344 239.5,344.9 C240.65,345.8 242.48,345.9 243.4,346.1 C244.32,346.3 241.13,346.1 245,346.1 C248.87,346.1 263,346.1 266.6,346.1" fill="none" stroke="#3c8c78" stroke-width="1.05" style="mix-blend-mode:multiply"/>
<path d="M190.2,356.7 C194.97,356.6 212.5,356.62 218.8,356.1 C225.1,355.58 225.7,354.58 228,353.6 C230.3,352.62 231.45,351.78 232.6,350.2 C233.75,348.62 234.18,345.68 234.9,344.1 C235.62,342.52 236.25,341.08 236.9,340.7 C237.55,340.32 238.1,340.85 238.8,341.8 C239.5,342.75 240.33,344.62 241.1,346.4 C241.87,348.18 242.38,350.88 243.4,352.5 C244.42,354.12 245.67,355.4 247.2,356.1 C248.73,356.8 251.47,356.6 252.6,356.7 C253.73,356.8 251.67,356.7 254,356.7 C256.33,356.7 264.5,356.7 266.6,356.7 L266.6,356.7 L190.2,356.7 Z" fill="#d0cee6" stroke="none" style="mix-blend-mode:multiply"/>
<path d="M190.2,356.7 C194.97,356.6 212.5,356.62 218.8,356.1 C225.1,355.58 225.7,354.58 228,353.6 C230.3,352.62 231.45,351.78 232.6,350.2 C233.75,348.62 234.18,345.68 234.9,344.1 C235.62,342.52 236.25,341.08 236.9,340.7 C237.55,340.32 238.1,340.85 238.8,341.8 C239.5,342.75 240.33,344.62 241.1,346.4 C241.87,348.18 242.38,350.88 243.4,352.5 C244.42,354.12 245.67,355.4 247.2,356.1 C248.73,356.8 251.47,356.6 252.6,356.7 C253.73,356.8 251.67,356.7 254,356.7 C256.33,356.7 264.5,356.7 266.6,356.7" fill="none" stroke="#9d94d2" stroke-width="1.05" style="mix-blend-mode:multiply"/>
<path d="M190.2,367 C194.97,366.95 213.02,366.95 218.8,366.7 C224.58,366.45 223.37,366.22 224.9,365.5 C226.43,364.78 227.18,363.95 228,362.4 C228.82,360.85 229.23,358.13 229.8,356.2 C230.37,354.27 230.88,352.08 231.4,350.8 C231.92,349.52 232.38,348.37 232.9,348.5 C233.42,348.63 233.98,350.05 234.5,351.6 C235.02,353.15 235.42,355.75 236,357.8 C236.58,359.85 237.15,362.42 238,363.9 C238.85,365.38 240.27,366.18 241.1,366.7 C241.93,367.22 238.75,366.95 243,367 C247.25,367.05 262.67,367 266.6,367 L266.6,367 L190.2,367 Z" fill="#c8cbd0" stroke="none" style="mix-blend-mode:multiply"/>
<path d="M190.2,367 C194.97,366.95 213.02,366.95 218.8,366.7 C224.58,366.45 223.37,366.22 224.9,365.5 C226.43,364.78 227.18,363.95 228,362.4 C228.82,360.85 229.23,358.13 229.8,356.2 C230.37,354.27 230.88,352.08 231.4,350.8 C231.92,349.52 232.38,348.37 232.9,348.5 C233.42,348.63 233.98,350.05 234.5,351.6 C235.02,353.15 235.42,355.75 236,357.8 C236.58,359.85 237.15,362.42 238,363.9 C238.85,365.38 240.27,366.18 241.1,366.7 C241.93,367.22 238.75,366.95 243,367 C247.25,367.05 262.67,367 266.6,367" fill="none" stroke="#6a7180" stroke-width="1.05" style="mix-blend-mode:multiply"/>
<path d="M190.2,378.6 C196.11,378.6 219.77,378.6 225.69,378.6 C231.61,378.6 225.06,379.12 225.7,378.6 C226.33,378.08 228.35,376.78 229.5,375.5 C230.65,374.22 231.7,372.57 232.6,370.9 C233.5,369.23 234.25,367.03 234.9,365.5 C235.55,363.97 235.85,362.08 236.5,361.7 C237.15,361.32 238.03,362.18 238.8,363.2 C239.57,364.22 240.33,366.13 241.1,367.8 C241.87,369.47 242.63,371.53 243.4,373.2 C244.17,374.87 245.1,376.9 245.7,377.8 C246.3,378.7 243.52,378.47 247,378.6 C250.48,378.73 263.33,378.6 266.6,378.6 L266.6,378.6 L190.2,378.6 Z" fill="#d4ecf8" stroke="none" style="mix-blend-mode:multiply"/>
<path d="M190.2,378.6 C196.11,378.6 219.77,378.6 225.69,378.6 C231.61,378.6 225.06,379.12 225.7,378.6 C226.33,378.08 228.35,376.78 229.5,375.5 C230.65,374.22 231.7,372.57 232.6,370.9 C233.5,369.23 234.25,367.03 234.9,365.5 C235.55,363.97 235.85,362.08 236.5,361.7 C237.15,361.32 238.03,362.18 238.8,363.2 C239.57,364.22 240.33,366.13 241.1,367.8 C241.87,369.47 242.63,371.53 243.4,373.2 C244.17,374.87 245.1,376.9 245.7,377.8 C246.3,378.7 243.52,378.47 247,378.6 C250.48,378.73 263.33,378.6 266.6,378.6" fill="none" stroke="#45b8e8" stroke-width="1.05" style="mix-blend-mode:multiply"/>
<rect x="190.2" y="301.3" width="76.4" height="77.3" fill="none" stroke="#222" stroke-width="1"/>
<line x1="190.2" y1="378.6" x2="190.2" y2="380.6" stroke="#222" stroke-width="0.8"/>
<line x1="194.8" y1="378.6" x2="194.8" y2="379.8" stroke="#444" stroke-width="0.5"/>
<line x1="197.49" y1="378.6" x2="197.49" y2="379.8" stroke="#444" stroke-width="0.5"/>
<line x1="199.4" y1="378.6" x2="199.4" y2="379.8" stroke="#444" stroke-width="0.5"/>
<line x1="200.88" y1="378.6" x2="200.88" y2="379.8" stroke="#444" stroke-width="0.5"/>
<line x1="202.09" y1="378.6" x2="202.09" y2="379.8" stroke="#444" stroke-width="0.5"/>
<line x1="203.11" y1="378.6" x2="203.11" y2="379.8" stroke="#444" stroke-width="0.5"/>
<line x1="204" y1="378.6" x2="204" y2="379.8" stroke="#444" stroke-width="0.5"/>
<line x1="204.78" y1="378.6" x2="204.78" y2="379.8" stroke="#444" stroke-width="0.5"/>
<text x="189.8" y="388.9" font-size="6.2" text-anchor="middle" fill="#333">10<tspan font-size="4.2" dy="-2.6">0</tspan></text>
<line x1="205.48" y1="378.6" x2="205.48" y2="380.6" stroke="#222" stroke-width="0.8"/>
<line x1="210.08" y1="378.6" x2="210.08" y2="379.8" stroke="#444" stroke-width="0.5"/>
<line x1="212.77" y1="378.6" x2="212.77" y2="379.8" stroke="#444" stroke-width="0.5"/>
<line x1="214.68" y1="378.6" x2="214.68" y2="379.8" stroke="#444" stroke-width="0.5"/>
<line x1="216.16" y1="378.6" x2="216.16" y2="379.8" stroke="#444" stroke-width="0.5"/>
<line x1="217.37" y1="378.6" x2="217.37" y2="379.8" stroke="#444" stroke-width="0.5"/>
<line x1="218.39" y1="378.6" x2="218.39" y2="379.8" stroke="#444" stroke-width="0.5"/>
<line x1="219.28" y1="378.6" x2="219.28" y2="379.8" stroke="#444" stroke-width="0.5"/>
<line x1="220.06" y1="378.6" x2="220.06" y2="379.8" stroke="#444" stroke-width="0.5"/>
<text x="205.08" y="388.9" font-size="6.2" text-anchor="middle" fill="#333">10<tspan font-size="4.2" dy="-2.6">1</tspan></text>
<line x1="220.76" y1="378.6" x2="220.76" y2="380.6" stroke="#222" stroke-width="0.8"/>
<line x1="225.36" y1="378.6" x2="225.36" y2="379.8" stroke="#444" stroke-width="0.5"/>
<line x1="228.05" y1="378.6" x2="228.05" y2="379.8" stroke="#444" stroke-width="0.5"/>
<line x1="229.96" y1="378.6" x2="229.96" y2="379.8" stroke="#444" stroke-width="0.5"/>
<line x1="231.44" y1="378.6" x2="231.44" y2="379.8" stroke="#444" stroke-width="0.5"/>
<line x1="232.65" y1="378.6" x2="232.65" y2="379.8" stroke="#444" stroke-width="0.5"/>
<line x1="233.67" y1="378.6" x2="233.67" y2="379.8" stroke="#444" stroke-width="0.5"/>
<line x1="234.56" y1="378.6" x2="234.56" y2="379.8" stroke="#444" stroke-width="0.5"/>
<line x1="235.34" y1="378.6" x2="235.34" y2="379.8" stroke="#444" stroke-width="0.5"/>
<text x="220.36" y="388.9" font-size="6.2" text-anchor="middle" fill="#333">10<tspan font-size="4.2" dy="-2.6">2</tspan></text>
<line x1="236.04" y1="378.6" x2="236.04" y2="380.6" stroke="#222" stroke-width="0.8"/>
<line x1="240.64" y1="378.6" x2="240.64" y2="379.8" stroke="#444" stroke-width="0.5"/>
<line x1="243.33" y1="378.6" x2="243.33" y2="379.8" stroke="#444" stroke-width="0.5"/>
<line x1="245.24" y1="378.6" x2="245.24" y2="379.8" stroke="#444" stroke-width="0.5"/>
<line x1="246.72" y1="378.6" x2="246.72" y2="379.8" stroke="#444" stroke-width="0.5"/>
<line x1="247.93" y1="378.6" x2="247.93" y2="379.8" stroke="#444" stroke-width="0.5"/>
<line x1="248.95" y1="378.6" x2="248.95" y2="379.8" stroke="#444" stroke-width="0.5"/>
<line x1="249.84" y1="378.6" x2="249.84" y2="379.8" stroke="#444" stroke-width="0.5"/>
<line x1="250.62" y1="378.6" x2="250.62" y2="379.8" stroke="#444" stroke-width="0.5"/>
<text x="235.64" y="388.9" font-size="6.2" text-anchor="middle" fill="#333">10<tspan font-size="4.2" dy="-2.6">3</tspan></text>
<line x1="251.32" y1="378.6" x2="251.32" y2="380.6" stroke="#222" stroke-width="0.8"/>
<line x1="255.92" y1="378.6" x2="255.92" y2="379.8" stroke="#444" stroke-width="0.5"/>
<line x1="258.61" y1="378.6" x2="258.61" y2="379.8" stroke="#444" stroke-width="0.5"/>
<line x1="260.52" y1="378.6" x2="260.52" y2="379.8" stroke="#444" stroke-width="0.5"/>
<line x1="262" y1="378.6" x2="262" y2="379.8" stroke="#444" stroke-width="0.5"/>
<line x1="263.21" y1="378.6" x2="263.21" y2="379.8" stroke="#444" stroke-width="0.5"/>
<line x1="264.23" y1="378.6" x2="264.23" y2="379.8" stroke="#444" stroke-width="0.5"/>
<line x1="265.12" y1="378.6" x2="265.12" y2="379.8" stroke="#444" stroke-width="0.5"/>
<line x1="265.9" y1="378.6" x2="265.9" y2="379.8" stroke="#444" stroke-width="0.5"/>
<text x="250.92" y="388.9" font-size="6.2" text-anchor="middle" fill="#333">10<tspan font-size="4.2" dy="-2.6">4</tspan></text>
<line x1="266.6" y1="378.6" x2="266.6" y2="380.6" stroke="#222" stroke-width="0.8"/>
<text x="266.2" y="388.9" font-size="6.2" text-anchor="middle" fill="#333">10<tspan font-size="4.2" dy="-2.6">5</tspan></text>
<line x1="190.6" y1="392.3" x2="267.4" y2="392.3" stroke="#111" stroke-width="1"/>
<path d="M270.4,392.3 L266.5,390.2 L266.5,394.4 Z" fill="#111"/>
<text transform="translate(230.8,403.1) scale(0.64,1)" font-size="9" font-weight="bold" text-anchor="middle" fill="#222">HLA-A2</text>
<text x="228.4" y="297.1" font-size="9.9" text-anchor="middle" fill="#111" letter-spacing="-0.2">DB IFN-<tspan font-family="Liberation Serif" font-style="italic" font-size="1.08em">&#947;</tspan></text>
<text x="180.8" y="297.7" font-size="11.4" font-weight="bold" fill="#000" stroke="#000" stroke-width="0.45">F</text>
<path d="M308.2,319.3 C308.6,318.92 309.68,318.02 310.6,317 C311.52,315.98 312.67,314.62 313.7,313.2 C314.73,311.78 315.83,309.73 316.8,308.5 C317.77,307.27 318.73,305.92 319.5,305.8 C320.27,305.68 320.78,306.57 321.4,307.8 C322.02,309.03 322.63,311.28 323.2,313.2 C323.77,315.12 324.2,317.47 324.8,319.3 C325.4,321.13 326.18,323.3 326.8,324.2 C327.42,325.1 318.87,324.62 328.5,324.7 C338.13,324.78 375.25,324.7 384.6,324.7 L384.6,324.7 L308.2,324.7 Z" fill="#dc7382" stroke="none" style="mix-blend-mode:multiply"/>
<path d="M308.2,319.3 C308.6,318.92 309.68,318.02 310.6,317 C311.52,315.98 312.67,314.62 313.7,313.2 C314.73,311.78 315.83,309.73 316.8,308.5 C317.77,307.27 318.73,305.92 319.5,305.8 C320.27,305.68 320.78,306.57 321.4,307.8 C322.02,309.03 322.63,311.28 323.2,313.2 C323.77,315.12 324.2,317.47 324.8,319.3 C325.4,321.13 326.18,323.3 326.8,324.2 C327.42,325.1 318.87,324.62 328.5,324.7 C338.13,324.78 375.25,324.7 384.6,324.7" fill="none" stroke="#d8486a" stroke-width="1.05" style="mix-blend-mode:multiply"/>
<path d="M308.2,335 C308.87,334.73 310.77,334.05 312.2,333.4 C313.63,332.75 315.27,332 316.8,331.1 C318.33,330.2 320,329.03 321.4,328 C322.8,326.97 323.92,326.05 325.2,324.9 C326.48,323.75 328.07,321.87 329.1,321.1 C330.13,320.33 330.63,320.95 331.4,320.3 C332.17,319.65 332.93,317.25 333.7,317.2 C334.47,317.15 335.23,319.35 336,320 C336.77,320.65 337.53,320.02 338.3,321.1 C339.07,322.18 339.83,325.08 340.6,326.5 C341.37,327.92 341.87,328.57 342.9,329.6 C343.93,330.63 345.25,331.88 346.8,332.7 C348.35,333.52 350.03,334.05 352.2,334.5 C354.37,334.95 358.17,335.25 359.8,335.4 C361.43,335.55 357.87,335.4 362,335.4 C366.13,335.4 380.83,335.4 384.6,335.4 L384.6,335.4 L308.2,335.4 Z" fill="#89a8c3" stroke="none" style="mix-blend-mode:multiply"/>
<path d="M308.2,335 C308.87,334.73 310.77,334.05 312.2,333.4 C313.63,332.75 315.27,332 316.8,331.1 C318.33,330.2 320,329.03 321.4,328 C322.8,326.97 323.92,326.05 325.2,324.9 C326.48,323.75 328.07,321.87 329.1,321.1 C330.13,320.33 330.63,320.95 331.4,320.3 C332.17,319.65 332.93,317.25 333.7,317.2 C334.47,317.15 335.23,319.35 336,320 C336.77,320.65 337.53,320.02 338.3,321.1 C339.07,322.18 339.83,325.08 340.6,326.5 C341.37,327.92 341.87,328.57 342.9,329.6 C343.93,330.63 345.25,331.88 346.8,332.7 C348.35,333.52 350.03,334.05 352.2,334.5 C354.37,334.95 358.17,335.25 359.8,335.4 C361.43,335.55 357.87,335.4 362,335.4 C366.13,335.4 380.83,335.4 384.6,335.4" fill="none" stroke="#5683ae" stroke-width="1.05" style="mix-blend-mode:multiply"/>
<path d="M308.2,345.9 C309.12,345.65 312.02,344.9 313.7,344.4 C315.38,343.9 317.02,343.58 318.3,342.9 C319.58,342.22 320.25,341.52 321.4,340.3 C322.55,339.08 324.05,337.15 325.2,335.6 C326.35,334.05 327.13,332.02 328.3,331 C329.47,329.98 331.05,330.02 332.2,329.5 C333.35,328.98 334.18,328.28 335.2,327.9 C336.22,327.52 337.27,326.93 338.3,327.2 C339.33,327.47 340.37,328.35 341.4,329.5 C342.43,330.65 343.6,332.7 344.5,334.1 C345.4,335.5 346.03,336.75 346.8,337.9 C347.57,339.05 347.95,339.92 349.1,341 C350.25,342.08 351.65,343.65 353.7,344.4 C355.75,345.15 358.68,345.22 361.4,345.5 C364.12,345.78 368.23,346 370,346.1 C371.77,346.2 369.57,346.1 372,346.1 C374.43,346.1 382.5,346.1 384.6,346.1 L384.6,346.1 L308.2,346.1 Z" fill="#9bc4b8" stroke="none" style="mix-blend-mode:multiply"/>
<path d="M308.2,345.9 C309.12,345.65 312.02,344.9 313.7,344.4 C315.38,343.9 317.02,343.58 318.3,342.9 C319.58,342.22 320.25,341.52 321.4,340.3 C322.55,339.08 324.05,337.15 325.2,335.6 C326.35,334.05 327.13,332.02 328.3,331 C329.47,329.98 331.05,330.02 332.2,329.5 C333.35,328.98 334.18,328.28 335.2,327.9 C336.22,327.52 337.27,326.93 338.3,327.2 C339.33,327.47 340.37,328.35 341.4,329.5 C342.43,330.65 343.6,332.7 344.5,334.1 C345.4,335.5 346.03,336.75 346.8,337.9 C347.57,339.05 347.95,339.92 349.1,341 C350.25,342.08 351.65,343.65 353.7,344.4 C355.75,345.15 358.68,345.22 361.4,345.5 C364.12,345.78 368.23,346 370,346.1 C371.77,346.2 369.57,346.1 372,346.1 C374.43,346.1 382.5,346.1 384.6,346.1" fill="none" stroke="#3c8c78" stroke-width="1.05" style="mix-blend-mode:multiply"/>
<path d="M308.2,356.7 C310.4,356.65 317.67,356.78 321.4,356.4 C325.13,356.02 328.3,355.38 330.6,354.4 C332.9,353.42 333.92,351.92 335.2,350.5 C336.48,349.08 337.27,347.57 338.3,345.9 C339.33,344.23 340.5,341.65 341.4,340.5 C342.3,339.35 342.93,339.38 343.7,339 C344.47,338.62 345.23,337.95 346,338.2 C346.77,338.45 347.53,339.22 348.3,340.5 C349.07,341.78 349.83,343.97 350.6,345.9 C351.37,347.83 351.87,350.5 352.9,352.1 C353.93,353.7 355.13,354.78 356.8,355.5 C358.47,356.22 361.37,356.2 362.9,356.4 C364.43,356.6 362.38,356.65 366,356.7 C369.62,356.75 381.5,356.7 384.6,356.7 L384.6,356.7 L308.2,356.7 Z" fill="#d0cee6" stroke="none" style="mix-blend-mode:multiply"/>
<path d="M308.2,356.7 C310.4,356.65 317.67,356.78 321.4,356.4 C325.13,356.02 328.3,355.38 330.6,354.4 C332.9,353.42 333.92,351.92 335.2,350.5 C336.48,349.08 337.27,347.57 338.3,345.9 C339.33,344.23 340.5,341.65 341.4,340.5 C342.3,339.35 342.93,339.38 343.7,339 C344.47,338.62 345.23,337.95 346,338.2 C346.77,338.45 347.53,339.22 348.3,340.5 C349.07,341.78 349.83,343.97 350.6,345.9 C351.37,347.83 351.87,350.5 352.9,352.1 C353.93,353.7 355.13,354.78 356.8,355.5 C358.47,356.22 361.37,356.2 362.9,356.4 C364.43,356.6 362.38,356.65 366,356.7 C369.62,356.75 381.5,356.7 384.6,356.7" fill="none" stroke="#9d94d2" stroke-width="1.05" style="mix-blend-mode:multiply"/>
<path d="M308.2,367 C309.12,366.85 311.5,366.57 313.7,366.1 C315.9,365.63 319.1,365.02 321.4,364.2 C323.7,363.38 325.7,362.48 327.5,361.2 C329.3,359.92 330.78,358.05 332.2,356.5 C333.62,354.95 334.93,353.23 336,351.9 C337.07,350.57 337.9,349.13 338.6,348.5 C339.3,347.87 339.48,347.92 340.2,348.1 C340.92,348.28 341.93,348.58 342.9,349.6 C343.87,350.62 344.97,352.53 346,354.2 C347.03,355.87 348.07,357.93 349.1,359.6 C350.13,361.27 350.92,363.05 352.2,364.2 C353.48,365.35 355.67,366.03 356.8,366.5 C357.93,366.97 354.37,366.92 359,367 C363.63,367.08 380.33,367 384.6,367 L384.6,367 L308.2,367 Z" fill="#c8cbd0" stroke="none" style="mix-blend-mode:multiply"/>
<path d="M308.2,367 C309.12,366.85 311.5,366.57 313.7,366.1 C315.9,365.63 319.1,365.02 321.4,364.2 C323.7,363.38 325.7,362.48 327.5,361.2 C329.3,359.92 330.78,358.05 332.2,356.5 C333.62,354.95 334.93,353.23 336,351.9 C337.07,350.57 337.9,349.13 338.6,348.5 C339.3,347.87 339.48,347.92 340.2,348.1 C340.92,348.28 341.93,348.58 342.9,349.6 C343.87,350.62 344.97,352.53 346,354.2 C347.03,355.87 348.07,357.93 349.1,359.6 C350.13,361.27 350.92,363.05 352.2,364.2 C353.48,365.35 355.67,366.03 356.8,366.5 C357.93,366.97 354.37,366.92 359,367 C363.63,367.08 380.33,367 384.6,367" fill="none" stroke="#6a7180" stroke-width="1.05" style="mix-blend-mode:multiply"/>
<path d="M308.2,378.6 C311.93,378.6 326.86,378.6 330.59,378.6 C334.32,378.6 329.95,379.23 330.6,378.6 C331.25,377.97 333.22,376.33 334.5,374.8 C335.78,373.27 337.02,371.2 338.3,369.4 C339.58,367.6 341.12,365.33 342.2,364 C343.28,362.67 344.03,361.53 344.8,361.4 C345.57,361.27 346.08,362.13 346.8,363.2 C347.52,364.27 348.2,366 349.1,367.8 C350,369.6 351.18,372.33 352.2,374 C353.22,375.67 354.4,377.03 355.2,377.8 C356,378.57 352.1,378.47 357,378.6 C361.9,378.73 380,378.6 384.6,378.6 L384.6,378.6 L308.2,378.6 Z" fill="#d4ecf8" stroke="none" style="mix-blend-mode:multiply"/>
<path d="M308.2,378.6 C311.93,378.6 326.86,378.6 330.59,378.6 C334.32,378.6 329.95,379.23 330.6,378.6 C331.25,377.97 333.22,376.33 334.5,374.8 C335.78,373.27 337.02,371.2 338.3,369.4 C339.58,367.6 341.12,365.33 342.2,364 C343.28,362.67 344.03,361.53 344.8,361.4 C345.57,361.27 346.08,362.13 346.8,363.2 C347.52,364.27 348.2,366 349.1,367.8 C350,369.6 351.18,372.33 352.2,374 C353.22,375.67 354.4,377.03 355.2,377.8 C356,378.57 352.1,378.47 357,378.6 C361.9,378.73 380,378.6 384.6,378.6" fill="none" stroke="#45b8e8" stroke-width="1.05" style="mix-blend-mode:multiply"/>
<rect x="308.2" y="301.3" width="76.4" height="77.3" fill="none" stroke="#222" stroke-width="1"/>
<line x1="308.2" y1="378.6" x2="308.2" y2="380.6" stroke="#222" stroke-width="0.8"/>
<line x1="312.8" y1="378.6" x2="312.8" y2="379.8" stroke="#444" stroke-width="0.5"/>
<line x1="315.49" y1="378.6" x2="315.49" y2="379.8" stroke="#444" stroke-width="0.5"/>
<line x1="317.4" y1="378.6" x2="317.4" y2="379.8" stroke="#444" stroke-width="0.5"/>
<line x1="318.88" y1="378.6" x2="318.88" y2="379.8" stroke="#444" stroke-width="0.5"/>
<line x1="320.09" y1="378.6" x2="320.09" y2="379.8" stroke="#444" stroke-width="0.5"/>
<line x1="321.11" y1="378.6" x2="321.11" y2="379.8" stroke="#444" stroke-width="0.5"/>
<line x1="322" y1="378.6" x2="322" y2="379.8" stroke="#444" stroke-width="0.5"/>
<line x1="322.78" y1="378.6" x2="322.78" y2="379.8" stroke="#444" stroke-width="0.5"/>
<text x="307.8" y="388.9" font-size="6.2" text-anchor="middle" fill="#333">10<tspan font-size="4.2" dy="-2.6">0</tspan></text>
<line x1="323.48" y1="378.6" x2="323.48" y2="380.6" stroke="#222" stroke-width="0.8"/>
<line x1="328.08" y1="378.6" x2="328.08" y2="379.8" stroke="#444" stroke-width="0.5"/>
<line x1="330.77" y1="378.6" x2="330.77" y2="379.8" stroke="#444" stroke-width="0.5"/>
<line x1="332.68" y1="378.6" x2="332.68" y2="379.8" stroke="#444" stroke-width="0.5"/>
<line x1="334.16" y1="378.6" x2="334.16" y2="379.8" stroke="#444" stroke-width="0.5"/>
<line x1="335.37" y1="378.6" x2="335.37" y2="379.8" stroke="#444" stroke-width="0.5"/>
<line x1="336.39" y1="378.6" x2="336.39" y2="379.8" stroke="#444" stroke-width="0.5"/>
<line x1="337.28" y1="378.6" x2="337.28" y2="379.8" stroke="#444" stroke-width="0.5"/>
<line x1="338.06" y1="378.6" x2="338.06" y2="379.8" stroke="#444" stroke-width="0.5"/>
<text x="323.08" y="388.9" font-size="6.2" text-anchor="middle" fill="#333">10<tspan font-size="4.2" dy="-2.6">1</tspan></text>
<line x1="338.76" y1="378.6" x2="338.76" y2="380.6" stroke="#222" stroke-width="0.8"/>
<line x1="343.36" y1="378.6" x2="343.36" y2="379.8" stroke="#444" stroke-width="0.5"/>
<line x1="346.05" y1="378.6" x2="346.05" y2="379.8" stroke="#444" stroke-width="0.5"/>
<line x1="347.96" y1="378.6" x2="347.96" y2="379.8" stroke="#444" stroke-width="0.5"/>
<line x1="349.44" y1="378.6" x2="349.44" y2="379.8" stroke="#444" stroke-width="0.5"/>
<line x1="350.65" y1="378.6" x2="350.65" y2="379.8" stroke="#444" stroke-width="0.5"/>
<line x1="351.67" y1="378.6" x2="351.67" y2="379.8" stroke="#444" stroke-width="0.5"/>
<line x1="352.56" y1="378.6" x2="352.56" y2="379.8" stroke="#444" stroke-width="0.5"/>
<line x1="353.34" y1="378.6" x2="353.34" y2="379.8" stroke="#444" stroke-width="0.5"/>
<text x="338.36" y="388.9" font-size="6.2" text-anchor="middle" fill="#333">10<tspan font-size="4.2" dy="-2.6">2</tspan></text>
<line x1="354.04" y1="378.6" x2="354.04" y2="380.6" stroke="#222" stroke-width="0.8"/>
<line x1="358.64" y1="378.6" x2="358.64" y2="379.8" stroke="#444" stroke-width="0.5"/>
<line x1="361.33" y1="378.6" x2="361.33" y2="379.8" stroke="#444" stroke-width="0.5"/>
<line x1="363.24" y1="378.6" x2="363.24" y2="379.8" stroke="#444" stroke-width="0.5"/>
<line x1="364.72" y1="378.6" x2="364.72" y2="379.8" stroke="#444" stroke-width="0.5"/>
<line x1="365.93" y1="378.6" x2="365.93" y2="379.8" stroke="#444" stroke-width="0.5"/>
<line x1="366.95" y1="378.6" x2="366.95" y2="379.8" stroke="#444" stroke-width="0.5"/>
<line x1="367.84" y1="378.6" x2="367.84" y2="379.8" stroke="#444" stroke-width="0.5"/>
<line x1="368.62" y1="378.6" x2="368.62" y2="379.8" stroke="#444" stroke-width="0.5"/>
<text x="353.64" y="388.9" font-size="6.2" text-anchor="middle" fill="#333">10<tspan font-size="4.2" dy="-2.6">3</tspan></text>
<line x1="369.32" y1="378.6" x2="369.32" y2="380.6" stroke="#222" stroke-width="0.8"/>
<line x1="373.92" y1="378.6" x2="373.92" y2="379.8" stroke="#444" stroke-width="0.5"/>
<line x1="376.61" y1="378.6" x2="376.61" y2="379.8" stroke="#444" stroke-width="0.5"/>
<line x1="378.52" y1="378.6" x2="378.52" y2="379.8" stroke="#444" stroke-width="0.5"/>
<line x1="380" y1="378.6" x2="380" y2="379.8" stroke="#444" stroke-width="0.5"/>
<line x1="381.21" y1="378.6" x2="381.21" y2="379.8" stroke="#444" stroke-width="0.5"/>
<line x1="382.23" y1="378.6" x2="382.23" y2="379.8" stroke="#444" stroke-width="0.5"/>
<line x1="383.12" y1="378.6" x2="383.12" y2="379.8" stroke="#444" stroke-width="0.5"/>
<line x1="383.9" y1="378.6" x2="383.9" y2="379.8" stroke="#444" stroke-width="0.5"/>
<text x="368.92" y="388.9" font-size="6.2" text-anchor="middle" fill="#333">10<tspan font-size="4.2" dy="-2.6">4</tspan></text>
<line x1="384.6" y1="378.6" x2="384.6" y2="380.6" stroke="#222" stroke-width="0.8"/>
<text x="384.2" y="388.9" font-size="6.2" text-anchor="middle" fill="#333">10<tspan font-size="4.2" dy="-2.6">5</tspan></text>
<line x1="309.6" y1="392.5" x2="387" y2="392.5" stroke="#111" stroke-width="1"/>
<path d="M390,392.5 L386.1,390.4 L386.1,394.6 Z" fill="#111"/>
<text transform="translate(347.1,403.1) scale(0.64,1)" font-size="9" font-weight="bold" text-anchor="middle" fill="#222">HLA-ABC</text>
<text x="346.7" y="297.1" font-size="9.9" text-anchor="middle" fill="#111" letter-spacing="-0.2">SUDHL-6 IFN-<tspan font-family="Liberation Serif" font-style="italic" font-size="1.08em">&#947;</tspan></text>
<text x="295" y="297.7" font-size="11.4" font-weight="bold" fill="#000" stroke="#000" stroke-width="0.45">G</text>
<path d="M430.2,319.8 C430.73,319.28 432.35,317.85 433.4,316.7 C434.45,315.55 435.55,314.32 436.5,312.9 C437.45,311.48 438.22,309.23 439.1,308.2 C439.98,307.17 440.95,306.43 441.8,306.7 C442.65,306.97 443.47,308.65 444.2,309.8 C444.93,310.95 445.57,312.07 446.2,313.6 C446.83,315.13 447.32,317.33 448,319 C448.68,320.67 449.4,322.7 450.3,323.6 C451.2,324.5 452.45,324.22 453.4,324.4 C454.35,324.58 447.13,324.65 456,324.7 C464.87,324.75 498.17,324.7 506.6,324.7 L506.6,324.7 L430.2,324.7 Z" fill="#dc7382" stroke="none" style="mix-blend-mode:multiply"/>
<path d="M430.2,319.8 C430.73,319.28 432.35,317.85 433.4,316.7 C434.45,315.55 435.55,314.32 436.5,312.9 C437.45,311.48 438.22,309.23 439.1,308.2 C439.98,307.17 440.95,306.43 441.8,306.7 C442.65,306.97 443.47,308.65 444.2,309.8 C444.93,310.95 445.57,312.07 446.2,313.6 C446.83,315.13 447.32,317.33 448,319 C448.68,320.67 449.4,322.7 450.3,323.6 C451.2,324.5 452.45,324.22 453.4,324.4 C454.35,324.58 447.13,324.65 456,324.7 C464.87,324.75 498.17,324.7 506.6,324.7" fill="none" stroke="#d8486a" stroke-width="1.05" style="mix-blend-mode:multiply"/>
<path d="M430.2,335.1 C431.12,334.82 434.02,334.12 435.7,333.4 C437.38,332.68 438.88,331.88 440.3,330.8 C441.72,329.72 443.05,328.32 444.2,326.9 C445.35,325.48 446.18,323.83 447.2,322.3 C448.22,320.77 449.4,318.67 450.3,317.7 C451.2,316.73 451.7,316.37 452.6,316.5 C453.5,316.63 454.88,317.65 455.7,318.5 C456.52,319.35 456.87,320.07 457.5,321.6 C458.13,323.13 458.65,325.92 459.5,327.7 C460.35,329.48 461.18,331.2 462.6,332.3 C464.02,333.4 465.57,333.87 468,334.3 C470.43,334.73 473.53,334.77 477.2,334.9 C480.87,335.03 486.2,335.02 490,335.1 C493.8,335.18 497.23,335.35 500,335.4 C502.77,335.45 505.5,335.4 506.6,335.4 L506.6,335.4 L430.2,335.4 Z" fill="#89a8c3" stroke="none" style="mix-blend-mode:multiply"/>
<path d="M430.2,335.1 C431.12,334.82 434.02,334.12 435.7,333.4 C437.38,332.68 438.88,331.88 440.3,330.8 C441.72,329.72 443.05,328.32 444.2,326.9 C445.35,325.48 446.18,323.83 447.2,322.3 C448.22,320.77 449.4,318.67 450.3,317.7 C451.2,316.73 451.7,316.37 452.6,316.5 C453.5,316.63 454.88,317.65 455.7,318.5 C456.52,319.35 456.87,320.07 457.5,321.6 C458.13,323.13 458.65,325.92 459.5,327.7 C460.35,329.48 461.18,331.2 462.6,332.3 C464.02,333.4 465.57,333.87 468,334.3 C470.43,334.73 473.53,334.77 477.2,334.9 C480.87,335.03 486.2,335.02 490,335.1 C493.8,335.18 497.23,335.35 500,335.4 C502.77,335.45 505.5,335.4 506.6,335.4" fill="none" stroke="#5683ae" stroke-width="1.05" style="mix-blend-mode:multiply"/>
<path d="M430.2,346.1 C431.63,345.97 436.35,345.68 438.8,345.3 C441.25,344.92 443.12,344.7 444.9,343.8 C446.68,342.9 448.08,341.32 449.5,339.9 C450.92,338.48 452.23,336.7 453.4,335.3 C454.57,333.9 455.48,332.65 456.5,331.5 C457.52,330.35 458.48,329.12 459.5,328.4 C460.52,327.68 461.7,327.07 462.6,327.2 C463.5,327.33 464.13,328.23 464.9,329.2 C465.67,330.17 466.43,331.72 467.2,333 C467.97,334.28 468.6,335.48 469.5,336.9 C470.4,338.32 471.32,340.15 472.6,341.5 C473.88,342.85 475.4,344.28 477.2,345 C479,345.72 481.93,345.62 483.4,345.8 C484.87,345.98 482.13,346.05 486,346.1 C489.87,346.15 503.17,346.1 506.6,346.1 L506.6,346.1 L430.2,346.1 Z" fill="#9bc4b8" stroke="none" style="mix-blend-mode:multiply"/>
<path d="M430.2,346.1 C431.63,345.97 436.35,345.68 438.8,345.3 C441.25,344.92 443.12,344.7 444.9,343.8 C446.68,342.9 448.08,341.32 449.5,339.9 C450.92,338.48 452.23,336.7 453.4,335.3 C454.57,333.9 455.48,332.65 456.5,331.5 C457.52,330.35 458.48,329.12 459.5,328.4 C460.52,327.68 461.7,327.07 462.6,327.2 C463.5,327.33 464.13,328.23 464.9,329.2 C465.67,330.17 466.43,331.72 467.2,333 C467.97,334.28 468.6,335.48 469.5,336.9 C470.4,338.32 471.32,340.15 472.6,341.5 C473.88,342.85 475.4,344.28 477.2,345 C479,345.72 481.93,345.62 483.4,345.8 C484.87,345.98 482.13,346.05 486,346.1 C489.87,346.15 503.17,346.1 506.6,346.1" fill="none" stroke="#3c8c78" stroke-width="1.05" style="mix-blend-mode:multiply"/>
<path d="M430.2,356.7 C433.17,356.63 444,356.77 448,356.3 C452,355.83 452.4,354.93 454.2,353.9 C456,352.87 457.4,351.5 458.8,350.1 C460.2,348.7 461.45,347.17 462.6,345.5 C463.75,343.83 464.8,341.27 465.7,340.1 C466.6,338.93 467.23,338.55 468,338.5 C468.77,338.45 469.53,338.9 470.3,339.8 C471.07,340.7 471.83,342.05 472.6,343.9 C473.37,345.75 473.87,349.02 474.9,350.9 C475.93,352.78 477.12,354.28 478.8,355.2 C480.48,356.12 483.47,356.15 485,356.4 C486.53,356.65 484.4,356.65 488,356.7 C491.6,356.75 503.5,356.7 506.6,356.7 L506.6,356.7 L430.2,356.7 Z" fill="#d0cee6" stroke="none" style="mix-blend-mode:multiply"/>
<path d="M430.2,356.7 C433.17,356.63 444,356.77 448,356.3 C452,355.83 452.4,354.93 454.2,353.9 C456,352.87 457.4,351.5 458.8,350.1 C460.2,348.7 461.45,347.17 462.6,345.5 C463.75,343.83 464.8,341.27 465.7,340.1 C466.6,338.93 467.23,338.55 468,338.5 C468.77,338.45 469.53,338.9 470.3,339.8 C471.07,340.7 471.83,342.05 472.6,343.9 C473.37,345.75 473.87,349.02 474.9,350.9 C475.93,352.78 477.12,354.28 478.8,355.2 C480.48,356.12 483.47,356.15 485,356.4 C486.53,356.65 484.4,356.65 488,356.7 C491.6,356.75 503.5,356.7 506.6,356.7" fill="none" stroke="#9d94d2" stroke-width="1.05" style="mix-blend-mode:multiply"/>
<path d="M430.2,367 C432.4,366.87 439.92,366.63 443.4,366.2 C446.88,365.77 448.92,365.35 451.1,364.4 C453.28,363.45 454.83,362.03 456.5,360.5 C458.17,358.97 459.7,357.12 461.1,355.2 C462.5,353.28 463.88,350.42 464.9,349 C465.92,347.58 466.43,346.83 467.2,346.7 C467.97,346.57 468.73,347.18 469.5,348.2 C470.27,349.22 471.02,350.87 471.8,352.8 C472.58,354.73 473.3,357.73 474.2,359.8 C475.1,361.87 475.93,364.05 477.2,365.2 C478.47,366.35 480.67,366.4 481.8,366.7 C482.93,367 479.87,366.95 484,367 C488.13,367.05 502.83,367 506.6,367 L506.6,367 L430.2,367 Z" fill="#c8cbd0" stroke="none" style="mix-blend-mode:multiply"/>
<path d="M430.2,367 C432.4,366.87 439.92,366.63 443.4,366.2 C446.88,365.77 448.92,365.35 451.1,364.4 C453.28,363.45 454.83,362.03 456.5,360.5 C458.17,358.97 459.7,357.12 461.1,355.2 C462.5,353.28 463.88,350.42 464.9,349 C465.92,347.58 466.43,346.83 467.2,346.7 C467.97,346.57 468.73,347.18 469.5,348.2 C470.27,349.22 471.02,350.87 471.8,352.8 C472.58,354.73 473.3,357.73 474.2,359.8 C475.1,361.87 475.93,364.05 477.2,365.2 C478.47,366.35 480.67,366.4 481.8,366.7 C482.93,367 479.87,366.95 484,367 C488.13,367.05 502.83,367 506.6,367" fill="none" stroke="#6a7180" stroke-width="1.05" style="mix-blend-mode:multiply"/>
<path d="M430.2,378.6 C434.45,378.6 451.44,378.6 455.69,378.6 C459.94,378.6 454.8,379.07 455.7,378.6 C456.6,378.13 459.57,377.28 461.1,375.8 C462.63,374.32 463.88,371.48 464.9,369.7 C465.92,367.92 466.43,366.38 467.2,365.1 C467.97,363.82 468.78,362.65 469.5,362 C470.22,361.35 470.93,361.2 471.5,361.2 C472.07,361.2 472.33,360.85 472.9,362 C473.47,363.15 474.18,366.05 474.9,368.1 C475.62,370.15 476.43,372.63 477.2,374.3 C477.97,375.97 478.87,377.38 479.5,378.1 C480.13,378.82 476.48,378.52 481,378.6 C485.52,378.68 502.33,378.6 506.6,378.6 L506.6,378.6 L430.2,378.6 Z" fill="#d4ecf8" stroke="none" style="mix-blend-mode:multiply"/>
<path d="M430.2,378.6 C434.45,378.6 451.44,378.6 455.69,378.6 C459.94,378.6 454.8,379.07 455.7,378.6 C456.6,378.13 459.57,377.28 461.1,375.8 C462.63,374.32 463.88,371.48 464.9,369.7 C465.92,367.92 466.43,366.38 467.2,365.1 C467.97,363.82 468.78,362.65 469.5,362 C470.22,361.35 470.93,361.2 471.5,361.2 C472.07,361.2 472.33,360.85 472.9,362 C473.47,363.15 474.18,366.05 474.9,368.1 C475.62,370.15 476.43,372.63 477.2,374.3 C477.97,375.97 478.87,377.38 479.5,378.1 C480.13,378.82 476.48,378.52 481,378.6 C485.52,378.68 502.33,378.6 506.6,378.6" fill="none" stroke="#45b8e8" stroke-width="1.05" style="mix-blend-mode:multiply"/>
<rect x="430.2" y="301.3" width="76.4" height="77.3" fill="none" stroke="#222" stroke-width="1"/>
<line x1="430.2" y1="378.6" x2="430.2" y2="380.6" stroke="#222" stroke-width="0.8"/>
<line x1="434.8" y1="378.6" x2="434.8" y2="379.8" stroke="#444" stroke-width="0.5"/>
<line x1="437.49" y1="378.6" x2="437.49" y2="379.8" stroke="#444" stroke-width="0.5"/>
<line x1="439.4" y1="378.6" x2="439.4" y2="379.8" stroke="#444" stroke-width="0.5"/>
<line x1="440.88" y1="378.6" x2="440.88" y2="379.8" stroke="#444" stroke-width="0.5"/>
<line x1="442.09" y1="378.6" x2="442.09" y2="379.8" stroke="#444" stroke-width="0.5"/>
<line x1="443.11" y1="378.6" x2="443.11" y2="379.8" stroke="#444" stroke-width="0.5"/>
<line x1="444" y1="378.6" x2="444" y2="379.8" stroke="#444" stroke-width="0.5"/>
<line x1="444.78" y1="378.6" x2="444.78" y2="379.8" stroke="#444" stroke-width="0.5"/>
<text x="429.8" y="388.9" font-size="6.2" text-anchor="middle" fill="#333">10<tspan font-size="4.2" dy="-2.6">0</tspan></text>
<line x1="445.48" y1="378.6" x2="445.48" y2="380.6" stroke="#222" stroke-width="0.8"/>
<line x1="450.08" y1="378.6" x2="450.08" y2="379.8" stroke="#444" stroke-width="0.5"/>
<line x1="452.77" y1="378.6" x2="452.77" y2="379.8" stroke="#444" stroke-width="0.5"/>
<line x1="454.68" y1="378.6" x2="454.68" y2="379.8" stroke="#444" stroke-width="0.5"/>
<line x1="456.16" y1="378.6" x2="456.16" y2="379.8" stroke="#444" stroke-width="0.5"/>
<line x1="457.37" y1="378.6" x2="457.37" y2="379.8" stroke="#444" stroke-width="0.5"/>
<line x1="458.39" y1="378.6" x2="458.39" y2="379.8" stroke="#444" stroke-width="0.5"/>
<line x1="459.28" y1="378.6" x2="459.28" y2="379.8" stroke="#444" stroke-width="0.5"/>
<line x1="460.06" y1="378.6" x2="460.06" y2="379.8" stroke="#444" stroke-width="0.5"/>
<text x="445.08" y="388.9" font-size="6.2" text-anchor="middle" fill="#333">10<tspan font-size="4.2" dy="-2.6">1</tspan></text>
<line x1="460.76" y1="378.6" x2="460.76" y2="380.6" stroke="#222" stroke-width="0.8"/>
<line x1="465.36" y1="378.6" x2="465.36" y2="379.8" stroke="#444" stroke-width="0.5"/>
<line x1="468.05" y1="378.6" x2="468.05" y2="379.8" stroke="#444" stroke-width="0.5"/>
<line x1="469.96" y1="378.6" x2="469.96" y2="379.8" stroke="#444" stroke-width="0.5"/>
<line x1="471.44" y1="378.6" x2="471.44" y2="379.8" stroke="#444" stroke-width="0.5"/>
<line x1="472.65" y1="378.6" x2="472.65" y2="379.8" stroke="#444" stroke-width="0.5"/>
<line x1="473.67" y1="378.6" x2="473.67" y2="379.8" stroke="#444" stroke-width="0.5"/>
<line x1="474.56" y1="378.6" x2="474.56" y2="379.8" stroke="#444" stroke-width="0.5"/>
<line x1="475.34" y1="378.6" x2="475.34" y2="379.8" stroke="#444" stroke-width="0.5"/>
<text x="460.36" y="388.9" font-size="6.2" text-anchor="middle" fill="#333">10<tspan font-size="4.2" dy="-2.6">2</tspan></text>
<line x1="476.04" y1="378.6" x2="476.04" y2="380.6" stroke="#222" stroke-width="0.8"/>
<line x1="480.64" y1="378.6" x2="480.64" y2="379.8" stroke="#444" stroke-width="0.5"/>
<line x1="483.33" y1="378.6" x2="483.33" y2="379.8" stroke="#444" stroke-width="0.5"/>
<line x1="485.24" y1="378.6" x2="485.24" y2="379.8" stroke="#444" stroke-width="0.5"/>
<line x1="486.72" y1="378.6" x2="486.72" y2="379.8" stroke="#444" stroke-width="0.5"/>
<line x1="487.93" y1="378.6" x2="487.93" y2="379.8" stroke="#444" stroke-width="0.5"/>
<line x1="488.95" y1="378.6" x2="488.95" y2="379.8" stroke="#444" stroke-width="0.5"/>
<line x1="489.84" y1="378.6" x2="489.84" y2="379.8" stroke="#444" stroke-width="0.5"/>
<line x1="490.62" y1="378.6" x2="490.62" y2="379.8" stroke="#444" stroke-width="0.5"/>
<text x="475.64" y="388.9" font-size="6.2" text-anchor="middle" fill="#333">10<tspan font-size="4.2" dy="-2.6">3</tspan></text>
<line x1="491.32" y1="378.6" x2="491.32" y2="380.6" stroke="#222" stroke-width="0.8"/>
<line x1="495.92" y1="378.6" x2="495.92" y2="379.8" stroke="#444" stroke-width="0.5"/>
<line x1="498.61" y1="378.6" x2="498.61" y2="379.8" stroke="#444" stroke-width="0.5"/>
<line x1="500.52" y1="378.6" x2="500.52" y2="379.8" stroke="#444" stroke-width="0.5"/>
<line x1="502" y1="378.6" x2="502" y2="379.8" stroke="#444" stroke-width="0.5"/>
<line x1="503.21" y1="378.6" x2="503.21" y2="379.8" stroke="#444" stroke-width="0.5"/>
<line x1="504.23" y1="378.6" x2="504.23" y2="379.8" stroke="#444" stroke-width="0.5"/>
<line x1="505.12" y1="378.6" x2="505.12" y2="379.8" stroke="#444" stroke-width="0.5"/>
<line x1="505.9" y1="378.6" x2="505.9" y2="379.8" stroke="#444" stroke-width="0.5"/>
<text x="490.92" y="388.9" font-size="6.2" text-anchor="middle" fill="#333">10<tspan font-size="4.2" dy="-2.6">4</tspan></text>
<line x1="506.6" y1="378.6" x2="506.6" y2="380.6" stroke="#222" stroke-width="0.8"/>
<text x="506.2" y="388.9" font-size="6.2" text-anchor="middle" fill="#333">10<tspan font-size="4.2" dy="-2.6">5</tspan></text>
<line x1="429.6" y1="392.5" x2="507.5" y2="392.5" stroke="#111" stroke-width="1"/>
<path d="M510.5,392.5 L506.6,390.4 L506.6,394.6 Z" fill="#111"/>
<text transform="translate(469.7,403.1) scale(0.64,1)" font-size="9" font-weight="bold" text-anchor="middle" fill="#222">HLA-A2</text>
<text x="468.6" y="297.1" font-size="9.9" text-anchor="middle" fill="#111" letter-spacing="-0.2">SUDHL-6 IFN-<tspan font-family="Liberation Serif" font-style="italic" font-size="1.08em">&#947;</tspan></text>
<text x="417.5" y="297.7" font-size="11.4" font-weight="bold" fill="#000" stroke="#000" stroke-width="0.45">H</text>
<rect x="51.1" y="208.4" width="19" height="14.2" fill="#89a9c4"/>
<rect x="72.2" y="184.4" width="19" height="38.2" fill="#9fd8a0"/>
<rect x="93.1" y="196.61" width="19" height="25.99" fill="#ab8fbd"/>
<rect x="114" y="162.53" width="19" height="60.07" fill="#fdc583"/>
<line x1="48.6" y1="208.4" x2="134.8" y2="208.4" stroke="#555" stroke-width="0.7" stroke-dasharray="1.4,0.8"/>
<line x1="60.6" y1="209.11" x2="60.6" y2="207.55" stroke="#2a2a2a" stroke-width="0.9"/>
<line x1="58.3" y1="209.11" x2="62.9" y2="209.11" stroke="#2a2a2a" stroke-width="0.9"/>
<line x1="58.3" y1="207.55" x2="62.9" y2="207.55" stroke="#2a2a2a" stroke-width="0.9"/>
<circle cx="60.6" cy="209.25" r="1.25" fill="#1e4f8c"/>
<circle cx="60.6" cy="208.68" r="1.25" fill="#1e4f8c"/>
<circle cx="60.6" cy="207.97" r="1.25" fill="#1e4f8c"/>
<circle cx="60.6" cy="207.26" r="1.25" fill="#1e4f8c"/>
<line x1="81.7" y1="187.81" x2="81.7" y2="181.14" stroke="#2a2a2a" stroke-width="0.9"/>
<line x1="79.4" y1="187.81" x2="84" y2="187.81" stroke="#2a2a2a" stroke-width="0.9"/>
<line x1="79.4" y1="181.14" x2="84" y2="181.14" stroke="#2a2a2a" stroke-width="0.9"/>
<circle cx="81.7" cy="187.81" r="1.25" fill="#2fae3e"/>
<circle cx="81.7" cy="186.39" r="1.25" fill="#2fae3e"/>
<circle cx="81.7" cy="184.26" r="1.25" fill="#2fae3e"/>
<circle cx="81.7" cy="182.13" r="1.25" fill="#2fae3e"/>
<line x1="102.6" y1="198.74" x2="102.6" y2="194.48" stroke="#2a2a2a" stroke-width="0.9"/>
<line x1="100.3" y1="198.74" x2="104.9" y2="198.74" stroke="#2a2a2a" stroke-width="0.9"/>
<line x1="100.3" y1="194.48" x2="104.9" y2="194.48" stroke="#2a2a2a" stroke-width="0.9"/>
<circle cx="102.6" cy="198.46" r="1.25" fill="#55246f"/>
<circle cx="102.6" cy="197.04" r="1.25" fill="#55246f"/>
<circle cx="102.6" cy="195.9" r="1.25" fill="#55246f"/>
<circle cx="102.6" cy="194.63" r="1.25" fill="#55246f"/>
<line x1="123.5" y1="171.48" x2="123.5" y2="153.73" stroke="#2a2a2a" stroke-width="0.9"/>
<line x1="121.2" y1="171.48" x2="125.8" y2="171.48" stroke="#2a2a2a" stroke-width="0.9"/>
<line x1="121.2" y1="153.73" x2="125.8" y2="153.73" stroke="#2a2a2a" stroke-width="0.9"/>
<circle cx="123.5" cy="171.48" r="1.25" fill="#ff8c00"/>
<circle cx="123.5" cy="167.22" r="1.25" fill="#ff8c00"/>
<circle cx="123.5" cy="162.96" r="1.25" fill="#ff8c00"/>
<circle cx="123.5" cy="157.99" r="1.25" fill="#ff8c00"/>
<circle cx="123.5" cy="148.76" r="1.25" fill="#ff8c00"/>
<line x1="48.6" y1="145" x2="48.6" y2="231.9" stroke="#111" stroke-width="1.1"/>
<line x1="48.1" y1="231.4" x2="134.8" y2="231.4" stroke="#111" stroke-width="1.1"/>
<line x1="45.6" y1="222.6" x2="48.6" y2="222.6" stroke="#111" stroke-width="0.9"/>
<text x="43.1" y="225.7" font-size="8.6" text-anchor="end" fill="#222" stroke="#222" stroke-width="0.12">0</text>
<line x1="45.6" y1="194.2" x2="48.6" y2="194.2" stroke="#111" stroke-width="0.9"/>
<text x="43.1" y="197.3" font-size="8.6" text-anchor="end" fill="#222" stroke="#222" stroke-width="0.12">2</text>
<line x1="45.6" y1="165.8" x2="48.6" y2="165.8" stroke="#111" stroke-width="0.9"/>
<text x="43.1" y="168.9" font-size="8.6" text-anchor="end" fill="#222" stroke="#222" stroke-width="0.12">4</text>
<text transform="translate(32.1,187.7) rotate(-90) scale(0.64,1)" font-size="9.2" font-weight="bold" text-anchor="middle" fill="#222">Fold over untreated</text>
<text transform="translate(61.2,228.9) scale(0.76,1)" font-size="5.5" font-weight="bold" text-anchor="middle" fill="#222">1.00</text>
<text transform="translate(82.3,228.9) scale(0.76,1)" font-size="5.5" font-weight="bold" text-anchor="middle" fill="#222">2.69</text>
<text transform="translate(103.2,228.9) scale(0.76,1)" font-size="5.5" font-weight="bold" text-anchor="middle" fill="#222">1.83</text>
<text transform="translate(124.1,228.9) scale(0.76,1)" font-size="5.5" font-weight="bold" text-anchor="middle" fill="#222">4.23</text>
<line x1="60.6" y1="231.4" x2="60.6" y2="234.4" stroke="#111" stroke-width="0.9"/>
<line x1="81.7" y1="231.4" x2="81.7" y2="234.4" stroke="#111" stroke-width="0.9"/>
<line x1="102.6" y1="231.4" x2="102.6" y2="234.4" stroke="#111" stroke-width="0.9"/>
<line x1="123.5" y1="231.4" x2="123.5" y2="234.4" stroke="#111" stroke-width="0.9"/>
<text transform="translate(62.8,241.4) rotate(-45)" font-size="7.5" text-anchor="end" fill="#111" stroke="#111" stroke-width="0.15">Untreated</text>
<text transform="translate(83.9,241.4) rotate(-45)" font-size="7.5" text-anchor="end" fill="#111" stroke="#111" stroke-width="0.15">DAC</text>
<text transform="translate(104.8,241.4) rotate(-45)" font-size="7.5" text-anchor="end" fill="#111" stroke="#111" stroke-width="0.15">TAZ</text>
<text transform="translate(125.7,241.4) rotate(-45)" font-size="7.5" text-anchor="end" fill="#111" stroke="#111" stroke-width="0.15">DAC+TAZ</text>
<line x1="58.2" y1="135.8" x2="121.1" y2="135.8" stroke="#333" stroke-width="1.15"/>
<circle cx="85.23" cy="131.4" r="1.05" fill="#1a1a1a"/>
<circle cx="88.18" cy="131.4" r="1.05" fill="#1a1a1a"/>
<circle cx="91.12" cy="131.4" r="1.05" fill="#1a1a1a"/>
<circle cx="94.08" cy="131.4" r="1.05" fill="#1a1a1a"/>
<line x1="58.2" y1="144.6" x2="99.6" y2="144.6" stroke="#333" stroke-width="1.15"/>
<circle cx="75.95" cy="140.2" r="1.05" fill="#1a1a1a"/>
<circle cx="78.9" cy="140.2" r="1.05" fill="#1a1a1a"/>
<circle cx="81.85" cy="140.2" r="1.05" fill="#1a1a1a"/>
<line x1="58.2" y1="154.4" x2="79.1" y2="154.4" stroke="#333" stroke-width="1.15"/>
<circle cx="67.53" cy="150" r="1.05" fill="#1a1a1a"/>
<circle cx="70.48" cy="150" r="1.05" fill="#1a1a1a"/>
<circle cx="73.42" cy="150" r="1.05" fill="#1a1a1a"/>
<circle cx="76.38" cy="150" r="1.05" fill="#1a1a1a"/>
<rect x="177.3" y="209.8" width="19" height="13.9" fill="#89a9c4"/>
<rect x="198.5" y="200.07" width="19" height="23.63" fill="#9fd8a0"/>
<rect x="219.9" y="201.32" width="19" height="22.38" fill="#ab8fbd"/>
<rect x="240.9" y="180.19" width="19" height="43.51" fill="#fdc583"/>
<line x1="174.5" y1="209.8" x2="262" y2="209.8" stroke="#555" stroke-width="0.7" stroke-dasharray="1.4,0.8"/>
<line x1="186.8" y1="211.88" x2="186.8" y2="207.71" stroke="#2a2a2a" stroke-width="0.9"/>
<line x1="184.5" y1="211.88" x2="189.1" y2="211.88" stroke="#2a2a2a" stroke-width="0.9"/>
<line x1="184.5" y1="207.71" x2="189.1" y2="207.71" stroke="#2a2a2a" stroke-width="0.9"/>
<circle cx="186.8" cy="211.88" r="1.25" fill="#1e4f8c"/>
<circle cx="186.8" cy="210.49" r="1.25" fill="#1e4f8c"/>
<circle cx="186.8" cy="209.1" r="1.25" fill="#1e4f8c"/>
<circle cx="186.8" cy="207.02" r="1.25" fill="#1e4f8c"/>
<line x1="208" y1="204.24" x2="208" y2="195.9" stroke="#2a2a2a" stroke-width="0.9"/>
<line x1="205.7" y1="204.24" x2="210.3" y2="204.24" stroke="#2a2a2a" stroke-width="0.9"/>
<line x1="205.7" y1="195.9" x2="210.3" y2="195.9" stroke="#2a2a2a" stroke-width="0.9"/>
<circle cx="208" cy="204.24" r="1.25" fill="#2fae3e"/>
<circle cx="208" cy="202.15" r="1.25" fill="#2fae3e"/>
<circle cx="208" cy="200.07" r="1.25" fill="#2fae3e"/>
<circle cx="208" cy="197.29" r="1.25" fill="#2fae3e"/>
<circle cx="208" cy="191.73" r="1.25" fill="#2fae3e"/>
<line x1="229.4" y1="202.85" x2="229.4" y2="199.79" stroke="#2a2a2a" stroke-width="0.9"/>
<line x1="227.1" y1="202.85" x2="231.7" y2="202.85" stroke="#2a2a2a" stroke-width="0.9"/>
<line x1="227.1" y1="199.79" x2="231.7" y2="199.79" stroke="#2a2a2a" stroke-width="0.9"/>
<circle cx="229.4" cy="202.85" r="1.25" fill="#55246f"/>
<circle cx="229.4" cy="201.46" r="1.25" fill="#55246f"/>
<circle cx="229.4" cy="200.07" r="1.25" fill="#55246f"/>
<circle cx="229.4" cy="199.38" r="1.25" fill="#55246f"/>
<line x1="250.4" y1="195.9" x2="250.4" y2="165.32" stroke="#2a2a2a" stroke-width="0.9"/>
<line x1="248.1" y1="195.9" x2="252.7" y2="195.9" stroke="#2a2a2a" stroke-width="0.9"/>
<line x1="248.1" y1="165.32" x2="252.7" y2="165.32" stroke="#2a2a2a" stroke-width="0.9"/>
<circle cx="250.4" cy="194.51" r="1.25" fill="#ff8c00"/>
<circle cx="250.4" cy="187.56" r="1.25" fill="#ff8c00"/>
<circle cx="250.4" cy="184.78" r="1.25" fill="#ff8c00"/>
<circle cx="250.4" cy="182" r="1.25" fill="#ff8c00"/>
<circle cx="250.4" cy="150.03" r="1.25" fill="#ff8c00"/>
<line x1="174.5" y1="147" x2="174.5" y2="232.3" stroke="#111" stroke-width="1.1"/>
<line x1="174" y1="231.8" x2="262.5" y2="231.8" stroke="#111" stroke-width="1.1"/>
<line x1="171.5" y1="223.7" x2="174.5" y2="223.7" stroke="#111" stroke-width="0.9"/>
<text x="169" y="226.8" font-size="8.6" text-anchor="end" fill="#222" stroke="#222" stroke-width="0.12">0</text>
<line x1="171.5" y1="195.9" x2="174.5" y2="195.9" stroke="#111" stroke-width="0.9"/>
<text x="169" y="199" font-size="8.6" text-anchor="end" fill="#222" stroke="#222" stroke-width="0.12">2</text>
<line x1="171.5" y1="168.1" x2="174.5" y2="168.1" stroke="#111" stroke-width="0.9"/>
<text x="169" y="171.2" font-size="8.6" text-anchor="end" fill="#222" stroke="#222" stroke-width="0.12">4</text>
<text transform="translate(160.2,189.2) rotate(-90) scale(0.64,1)" font-size="9.2" font-weight="bold" text-anchor="middle" fill="#222">Fold over untreated</text>
<text transform="translate(187.4,228.9) scale(0.76,1)" font-size="5.5" font-weight="bold" text-anchor="middle" fill="#222">1.00</text>
<text transform="translate(208.6,228.9) scale(0.76,1)" font-size="5.5" font-weight="bold" text-anchor="middle" fill="#222">1.70</text>
<text transform="translate(230,228.9) scale(0.76,1)" font-size="5.5" font-weight="bold" text-anchor="middle" fill="#222">1.61</text>
<text transform="translate(251,228.9) scale(0.76,1)" font-size="5.5" font-weight="bold" text-anchor="middle" fill="#222">3.13</text>
<line x1="186.8" y1="231.8" x2="186.8" y2="234.8" stroke="#111" stroke-width="0.9"/>
<line x1="208" y1="231.8" x2="208" y2="234.8" stroke="#111" stroke-width="0.9"/>
<line x1="229.4" y1="231.8" x2="229.4" y2="234.8" stroke="#111" stroke-width="0.9"/>
<line x1="250.4" y1="231.8" x2="250.4" y2="234.8" stroke="#111" stroke-width="0.9"/>
<text transform="translate(189,241.8) rotate(-45)" font-size="7.5" text-anchor="end" fill="#111" stroke="#111" stroke-width="0.15">Untreated</text>
<text transform="translate(210.2,241.8) rotate(-45)" font-size="7.5" text-anchor="end" fill="#111" stroke="#111" stroke-width="0.15">DAC</text>
<text transform="translate(231.6,241.8) rotate(-45)" font-size="7.5" text-anchor="end" fill="#111" stroke="#111" stroke-width="0.15">TAZ</text>
<text transform="translate(252.6,241.8) rotate(-45)" font-size="7.5" text-anchor="end" fill="#111" stroke="#111" stroke-width="0.15">DAC+TAZ</text>
<line x1="184.6" y1="144" x2="247.3" y2="144" stroke="#333" stroke-width="1.15"/>
<circle cx="211.52" cy="139.6" r="1.05" fill="#1a1a1a"/>
<circle cx="214.47" cy="139.6" r="1.05" fill="#1a1a1a"/>
<circle cx="217.42" cy="139.6" r="1.05" fill="#1a1a1a"/>
<circle cx="220.38" cy="139.6" r="1.05" fill="#1a1a1a"/>
<line x1="184.6" y1="152.4" x2="226.7" y2="152.4" stroke="#333" stroke-width="1.15"/>
<text x="205.65" y="150.5" font-size="8.0" text-anchor="middle" fill="#111">ns</text>
<line x1="184.6" y1="161.2" x2="205.5" y2="161.2" stroke="#333" stroke-width="1.15"/>
<text x="195.05" y="159.3" font-size="8.0" text-anchor="middle" fill="#111">ns</text>
<rect x="300.95" y="193" width="18.5" height="30" fill="#89a9c4"/>
<rect x="324.05" y="173.8" width="18.5" height="49.2" fill="#9fd8a0"/>
<rect x="347.25" y="189.4" width="18.5" height="33.6" fill="#ab8fbd"/>
<rect x="370.35" y="168.4" width="18.5" height="54.6" fill="#fdc583"/>
<line x1="298.8" y1="193" x2="390" y2="193" stroke="#555" stroke-width="0.7" stroke-dasharray="1.4,0.8"/>
<line x1="310.2" y1="197.8" x2="310.2" y2="189.1" stroke="#2a2a2a" stroke-width="0.9"/>
<line x1="307.9" y1="197.8" x2="312.5" y2="197.8" stroke="#2a2a2a" stroke-width="0.9"/>
<line x1="307.9" y1="189.1" x2="312.5" y2="189.1" stroke="#2a2a2a" stroke-width="0.9"/>
<circle cx="310.2" cy="199.6" r="1.25" fill="#1e4f8c"/>
<circle cx="310.2" cy="196" r="1.25" fill="#1e4f8c"/>
<circle cx="310.2" cy="193" r="1.25" fill="#1e4f8c"/>
<circle cx="310.2" cy="191.5" r="1.25" fill="#1e4f8c"/>
<circle cx="310.2" cy="185.5" r="1.25" fill="#1e4f8c"/>
<line x1="333.3" y1="187" x2="333.3" y2="161.2" stroke="#2a2a2a" stroke-width="0.9"/>
<line x1="331" y1="187" x2="335.6" y2="187" stroke="#2a2a2a" stroke-width="0.9"/>
<line x1="331" y1="161.2" x2="335.6" y2="161.2" stroke="#2a2a2a" stroke-width="0.9"/>
<circle cx="333.3" cy="187" r="1.25" fill="#2fae3e"/>
<circle cx="333.3" cy="183.4" r="1.25" fill="#2fae3e"/>
<circle cx="333.3" cy="170.8" r="1.25" fill="#2fae3e"/>
<circle cx="333.3" cy="161.2" r="1.25" fill="#2fae3e"/>
<circle cx="333.3" cy="156.4" r="1.25" fill="#2fae3e"/>
<line x1="356.5" y1="192.4" x2="356.5" y2="187" stroke="#2a2a2a" stroke-width="0.9"/>
<line x1="354.2" y1="192.4" x2="358.8" y2="192.4" stroke="#2a2a2a" stroke-width="0.9"/>
<line x1="354.2" y1="187" x2="358.8" y2="187" stroke="#2a2a2a" stroke-width="0.9"/>
<circle cx="356.5" cy="193.3" r="1.25" fill="#55246f"/>
<circle cx="356.5" cy="190.3" r="1.25" fill="#55246f"/>
<circle cx="356.5" cy="188.5" r="1.25" fill="#55246f"/>
<circle cx="356.5" cy="187" r="1.25" fill="#55246f"/>
<line x1="379.6" y1="184.3" x2="379.6" y2="154" stroke="#2a2a2a" stroke-width="0.9"/>
<line x1="377.3" y1="184.3" x2="381.9" y2="184.3" stroke="#2a2a2a" stroke-width="0.9"/>
<line x1="377.3" y1="154" x2="381.9" y2="154" stroke="#2a2a2a" stroke-width="0.9"/>
<circle cx="379.6" cy="184" r="1.25" fill="#ff8c00"/>
<circle cx="379.6" cy="181" r="1.25" fill="#ff8c00"/>
<circle cx="379.6" cy="179.5" r="1.25" fill="#ff8c00"/>
<circle cx="379.6" cy="161.5" r="1.25" fill="#ff8c00"/>
<circle cx="379.6" cy="152.5" r="1.25" fill="#ff8c00"/>
<circle cx="379.6" cy="150.1" r="1.25" fill="#ff8c00"/>
<line x1="298.8" y1="147" x2="298.8" y2="231.8" stroke="#111" stroke-width="1.1"/>
<line x1="298.3" y1="231.3" x2="390" y2="231.3" stroke="#111" stroke-width="1.1"/>
<line x1="295.8" y1="223" x2="298.8" y2="223" stroke="#111" stroke-width="0.9"/>
<text x="293.3" y="226.1" font-size="8.6" text-anchor="end" fill="#222" stroke="#222" stroke-width="0.12">0.0</text>
<line x1="295.8" y1="208" x2="298.8" y2="208" stroke="#111" stroke-width="0.9"/>
<text x="293.3" y="211.1" font-size="8.6" text-anchor="end" fill="#222" stroke="#222" stroke-width="0.12">0.5</text>
<line x1="295.8" y1="193" x2="298.8" y2="193" stroke="#111" stroke-width="0.9"/>
<text x="293.3" y="196.1" font-size="8.6" text-anchor="end" fill="#222" stroke="#222" stroke-width="0.12">1.0</text>
<line x1="295.8" y1="178" x2="298.8" y2="178" stroke="#111" stroke-width="0.9"/>
<text x="293.3" y="181.1" font-size="8.6" text-anchor="end" fill="#222" stroke="#222" stroke-width="0.12">1.5</text>
<line x1="295.8" y1="163" x2="298.8" y2="163" stroke="#111" stroke-width="0.9"/>
<text x="293.3" y="166.1" font-size="8.6" text-anchor="end" fill="#222" stroke="#222" stroke-width="0.12">2.0</text>
<line x1="295.8" y1="148" x2="298.8" y2="148" stroke="#111" stroke-width="0.9"/>
<text x="293.3" y="151.1" font-size="8.6" text-anchor="end" fill="#222" stroke="#222" stroke-width="0.12">2.5</text>
<text transform="translate(276.2,189.2) rotate(-90) scale(0.64,1)" font-size="9.2" font-weight="bold" text-anchor="middle" fill="#222">Fold over untreated</text>
<text transform="translate(310.8,228.9) scale(0.76,1)" font-size="5.5" font-weight="bold" text-anchor="middle" fill="#222">1.00</text>
<text transform="translate(333.9,228.9) scale(0.76,1)" font-size="5.5" font-weight="bold" text-anchor="middle" fill="#222">1.64</text>
<text transform="translate(357.1,228.9) scale(0.76,1)" font-size="5.5" font-weight="bold" text-anchor="middle" fill="#222">1.12</text>
<text transform="translate(380.2,228.9) scale(0.76,1)" font-size="5.5" font-weight="bold" text-anchor="middle" fill="#222">1.82</text>
<line x1="310.2" y1="231.3" x2="310.2" y2="234.3" stroke="#111" stroke-width="0.9"/>
<line x1="333.3" y1="231.3" x2="333.3" y2="234.3" stroke="#111" stroke-width="0.9"/>
<line x1="356.5" y1="231.3" x2="356.5" y2="234.3" stroke="#111" stroke-width="0.9"/>
<line x1="379.6" y1="231.3" x2="379.6" y2="234.3" stroke="#111" stroke-width="0.9"/>
<text transform="translate(312.4,241.3) rotate(-45)" font-size="7.5" text-anchor="end" fill="#111" stroke="#111" stroke-width="0.15">Untreated</text>
<text transform="translate(335.5,241.3) rotate(-45)" font-size="7.5" text-anchor="end" fill="#111" stroke="#111" stroke-width="0.15">DAC</text>
<text transform="translate(358.7,241.3) rotate(-45)" font-size="7.5" text-anchor="end" fill="#111" stroke="#111" stroke-width="0.15">TAZ</text>
<text transform="translate(381.8,241.3) rotate(-45)" font-size="7.5" text-anchor="end" fill="#111" stroke="#111" stroke-width="0.15">DAC+TAZ</text>
<line x1="308" y1="135" x2="377.3" y2="135" stroke="#333" stroke-width="1.15"/>
<circle cx="341.17" cy="130.6" r="1.05" fill="#1a1a1a"/>
<circle cx="344.12" cy="130.6" r="1.05" fill="#1a1a1a"/>
<line x1="308" y1="143.5" x2="353.8" y2="143.5" stroke="#333" stroke-width="1.15"/>
<text x="330.9" y="141.6" font-size="8.0" text-anchor="middle" fill="#111">ns</text>
<line x1="308" y1="152.2" x2="330.6" y2="152.2" stroke="#333" stroke-width="1.15"/>
<circle cx="319.3" cy="147.8" r="1.05" fill="#1a1a1a"/>
<rect x="429.85" y="183.8" width="17.5" height="39.2" fill="#89a9c4"/>
<rect x="451.25" y="170.86" width="17.5" height="52.14" fill="#9fd8a0"/>
<rect x="473.25" y="188.5" width="17.5" height="34.5" fill="#ab8fbd"/>
<rect x="494.75" y="171.65" width="17.5" height="51.35" fill="#fdc583"/>
<line x1="427" y1="183.8" x2="512.6" y2="183.8" stroke="#555" stroke-width="0.7" stroke-dasharray="1.4,0.8"/>
<line x1="438.6" y1="191.64" x2="438.6" y2="175.96" stroke="#2a2a2a" stroke-width="0.9"/>
<line x1="436.3" y1="191.64" x2="440.9" y2="191.64" stroke="#2a2a2a" stroke-width="0.9"/>
<line x1="436.3" y1="175.96" x2="440.9" y2="175.96" stroke="#2a2a2a" stroke-width="0.9"/>
<circle cx="438.6" cy="195.56" r="1.25" fill="#1e4f8c"/>
<circle cx="438.6" cy="189.68" r="1.25" fill="#1e4f8c"/>
<circle cx="438.6" cy="185.76" r="1.25" fill="#1e4f8c"/>
<circle cx="438.6" cy="183.8" r="1.25" fill="#1e4f8c"/>
<circle cx="438.6" cy="181.84" r="1.25" fill="#1e4f8c"/>
<circle cx="438.6" cy="172.04" r="1.25" fill="#1e4f8c"/>
<line x1="460" y1="184.58" x2="460" y2="157.14" stroke="#2a2a2a" stroke-width="0.9"/>
<line x1="457.7" y1="184.58" x2="462.3" y2="184.58" stroke="#2a2a2a" stroke-width="0.9"/>
<line x1="457.7" y1="157.14" x2="462.3" y2="157.14" stroke="#2a2a2a" stroke-width="0.9"/>
<circle cx="460" cy="189.68" r="1.25" fill="#2fae3e"/>
<circle cx="460" cy="183.8" r="1.25" fill="#2fae3e"/>
<circle cx="460" cy="175.96" r="1.25" fill="#2fae3e"/>
<circle cx="460" cy="164.2" r="1.25" fill="#2fae3e"/>
<circle cx="460" cy="146.56" r="1.25" fill="#2fae3e"/>
<line x1="482" y1="195.56" x2="482" y2="181.84" stroke="#2a2a2a" stroke-width="0.9"/>
<line x1="479.7" y1="195.56" x2="484.3" y2="195.56" stroke="#2a2a2a" stroke-width="0.9"/>
<line x1="479.7" y1="181.84" x2="484.3" y2="181.84" stroke="#2a2a2a" stroke-width="0.9"/>
<circle cx="482" cy="195.56" r="1.25" fill="#55246f"/>
<circle cx="482" cy="193.6" r="1.25" fill="#55246f"/>
<circle cx="482" cy="187.72" r="1.25" fill="#55246f"/>
<circle cx="482" cy="179.88" r="1.25" fill="#55246f"/>
<line x1="503.5" y1="182.62" x2="503.5" y2="161.06" stroke="#2a2a2a" stroke-width="0.9"/>
<line x1="501.2" y1="182.62" x2="505.8" y2="182.62" stroke="#2a2a2a" stroke-width="0.9"/>
<line x1="501.2" y1="161.06" x2="505.8" y2="161.06" stroke="#2a2a2a" stroke-width="0.9"/>
<circle cx="503.5" cy="185.76" r="1.25" fill="#ff8c00"/>
<circle cx="503.5" cy="181.84" r="1.25" fill="#ff8c00"/>
<circle cx="503.5" cy="175.96" r="1.25" fill="#ff8c00"/>
<circle cx="503.5" cy="168.12" r="1.25" fill="#ff8c00"/>
<circle cx="503.5" cy="164.2" r="1.25" fill="#ff8c00"/>
<circle cx="503.5" cy="158.32" r="1.25" fill="#ff8c00"/>
<line x1="427" y1="146.5" x2="427" y2="231.7" stroke="#111" stroke-width="1.1"/>
<line x1="426.5" y1="231.2" x2="512.6" y2="231.2" stroke="#111" stroke-width="1.1"/>
<line x1="424" y1="223" x2="427" y2="223" stroke="#111" stroke-width="0.9"/>
<text x="421.5" y="226.1" font-size="8.6" text-anchor="end" fill="#222" stroke="#222" stroke-width="0.12">0.0</text>
<line x1="424" y1="203.4" x2="427" y2="203.4" stroke="#111" stroke-width="0.9"/>
<text x="421.5" y="206.5" font-size="8.6" text-anchor="end" fill="#222" stroke="#222" stroke-width="0.12">0.5</text>
<line x1="424" y1="183.8" x2="427" y2="183.8" stroke="#111" stroke-width="0.9"/>
<text x="421.5" y="186.9" font-size="8.6" text-anchor="end" fill="#222" stroke="#222" stroke-width="0.12">1.0</text>
<line x1="424" y1="164.2" x2="427" y2="164.2" stroke="#111" stroke-width="0.9"/>
<text x="421.5" y="167.3" font-size="8.6" text-anchor="end" fill="#222" stroke="#222" stroke-width="0.12">1.5</text>
<text transform="translate(405.5,189.2) rotate(-90) scale(0.64,1)" font-size="9.2" font-weight="bold" text-anchor="middle" fill="#222">Fold over untreated</text>
<text transform="translate(439.2,228.9) scale(0.76,1)" font-size="5.5" font-weight="bold" text-anchor="middle" fill="#222">1.00</text>
<text transform="translate(460.6,228.9) scale(0.76,1)" font-size="5.5" font-weight="bold" text-anchor="middle" fill="#222">1.33</text>
<text transform="translate(482.6,228.9) scale(0.76,1)" font-size="5.5" font-weight="bold" text-anchor="middle" fill="#222">0.88</text>
<text transform="translate(504.1,228.9) scale(0.76,1)" font-size="5.5" font-weight="bold" text-anchor="middle" fill="#222">1.31</text>
<line x1="438.6" y1="231.2" x2="438.6" y2="234.2" stroke="#111" stroke-width="0.9"/>
<line x1="460" y1="231.2" x2="460" y2="234.2" stroke="#111" stroke-width="0.9"/>
<line x1="482" y1="231.2" x2="482" y2="234.2" stroke="#111" stroke-width="0.9"/>
<line x1="503.5" y1="231.2" x2="503.5" y2="234.2" stroke="#111" stroke-width="0.9"/>
<text transform="translate(440.8,241.2) rotate(-45)" font-size="7.5" text-anchor="end" fill="#111" stroke="#111" stroke-width="0.15">Untreated</text>
<text transform="translate(462.2,241.2) rotate(-45)" font-size="7.5" text-anchor="end" fill="#111" stroke="#111" stroke-width="0.15">DAC</text>
<text transform="translate(484.2,241.2) rotate(-45)" font-size="7.5" text-anchor="end" fill="#111" stroke="#111" stroke-width="0.15">TAZ</text>
<text transform="translate(505.7,241.2) rotate(-45)" font-size="7.5" text-anchor="end" fill="#111" stroke="#111" stroke-width="0.15">DAC+TAZ</text>
<line x1="435.8" y1="133" x2="501" y2="133" stroke="#333" stroke-width="1.15"/>
<text x="468.4" y="131.1" font-size="8.0" text-anchor="middle" fill="#111">ns</text>
<line x1="435.8" y1="140.2" x2="479.6" y2="140.2" stroke="#333" stroke-width="1.15"/>
<text x="457.7" y="138.3" font-size="8.0" text-anchor="middle" fill="#111">ns</text>
<line x1="435.8" y1="148" x2="457.7" y2="148" stroke="#333" stroke-width="1.15"/>
<text x="446.75" y="146.1" font-size="8.0" text-anchor="middle" fill="#111">ns</text>
<rect x="50.55" y="512.09" width="14.5" height="0.81" fill="#89a9c4"/>
<rect x="67.35" y="489.09" width="14.5" height="23.81" fill="#7fb2a5"/>
<rect x="83.75" y="462.74" width="14.5" height="50.16" fill="#c3bce0"/>
<rect x="100.05" y="487.78" width="14.5" height="25.12" fill="#a4a9b1"/>
<rect x="116.55" y="467.31" width="14.5" height="45.59" fill="#95d4f0"/>
<line x1="48.4" y1="489.09" x2="135.2" y2="489.09" stroke="#555" stroke-width="0.7" stroke-dasharray="1.4,0.8"/>
<circle cx="57.8" cy="512.09" r="1.25" fill="#1e4f8c"/>
<line x1="74.6" y1="496.78" x2="74.6" y2="480.66" stroke="#2a2a2a" stroke-width="0.9"/>
<line x1="72.3" y1="496.78" x2="76.9" y2="496.78" stroke="#2a2a2a" stroke-width="0.9"/>
<line x1="72.3" y1="480.66" x2="76.9" y2="480.66" stroke="#2a2a2a" stroke-width="0.9"/>
<circle cx="74.6" cy="497.59" r="1.25" fill="#1c6b4c"/>
<circle cx="74.6" cy="496.78" r="1.25" fill="#1c6b4c"/>
<circle cx="74.6" cy="482.27" r="1.25" fill="#1c6b4c"/>
<circle cx="74.6" cy="480.66" r="1.25" fill="#1c6b4c"/>
<line x1="91" y1="484.69" x2="91" y2="441.17" stroke="#2a2a2a" stroke-width="0.9"/>
<line x1="88.7" y1="484.69" x2="93.3" y2="484.69" stroke="#2a2a2a" stroke-width="0.9"/>
<line x1="88.7" y1="441.17" x2="93.3" y2="441.17" stroke="#2a2a2a" stroke-width="0.9"/>
<circle cx="91" cy="486.3" r="1.25" fill="#8c7fcc"/>
<circle cx="91" cy="483.88" r="1.25" fill="#8c7fcc"/>
<circle cx="91" cy="476.63" r="1.25" fill="#8c7fcc"/>
<circle cx="91" cy="441.97" r="1.25" fill="#8c7fcc"/>
<circle cx="91" cy="437.94" r="1.25" fill="#8c7fcc"/>
<line x1="107.3" y1="499.2" x2="107.3" y2="476.63" stroke="#2a2a2a" stroke-width="0.9"/>
<line x1="105" y1="499.2" x2="109.6" y2="499.2" stroke="#2a2a2a" stroke-width="0.9"/>
<line x1="105" y1="476.63" x2="109.6" y2="476.63" stroke="#2a2a2a" stroke-width="0.9"/>
<circle cx="107.3" cy="500.81" r="1.25" fill="#3a4656"/>
<circle cx="107.3" cy="498.39" r="1.25" fill="#3a4656"/>
<circle cx="107.3" cy="490.33" r="1.25" fill="#3a4656"/>
<circle cx="107.3" cy="478.24" r="1.25" fill="#3a4656"/>
<line x1="123.8" y1="487.91" x2="123.8" y2="448.42" stroke="#2a2a2a" stroke-width="0.9"/>
<line x1="121.5" y1="487.91" x2="126.1" y2="487.91" stroke="#2a2a2a" stroke-width="0.9"/>
<line x1="121.5" y1="448.42" x2="126.1" y2="448.42" stroke="#2a2a2a" stroke-width="0.9"/>
<circle cx="123.8" cy="488.72" r="1.25" fill="#2aabe3"/>
<circle cx="123.8" cy="483.08" r="1.25" fill="#2aabe3"/>
<circle cx="123.8" cy="452.45" r="1.25" fill="#2aabe3"/>
<circle cx="123.8" cy="448.42" r="1.25" fill="#2aabe3"/>
<circle cx="123.8" cy="446.81" r="1.25" fill="#2aabe3"/>
<line x1="48.4" y1="434.6" x2="48.4" y2="520.3" stroke="#111" stroke-width="1.1"/>
<line x1="47.9" y1="519.8" x2="135.2" y2="519.8" stroke="#111" stroke-width="1.1"/>
<line x1="45.4" y1="512.9" x2="48.4" y2="512.9" stroke="#111" stroke-width="0.9"/>
<text x="42.9" y="516" font-size="8.6" text-anchor="end" fill="#222" stroke="#222" stroke-width="0.12">0</text>
<line x1="45.4" y1="492.75" x2="48.4" y2="492.75" stroke="#111" stroke-width="0.9"/>
<text x="42.9" y="495.85" font-size="8.6" text-anchor="end" fill="#222" stroke="#222" stroke-width="0.12">25</text>
<line x1="45.4" y1="472.6" x2="48.4" y2="472.6" stroke="#111" stroke-width="0.9"/>
<text x="42.9" y="475.7" font-size="8.6" text-anchor="end" fill="#222" stroke="#222" stroke-width="0.12">50</text>
<line x1="45.4" y1="452.45" x2="48.4" y2="452.45" stroke="#111" stroke-width="0.9"/>
<text x="42.9" y="455.55" font-size="8.6" text-anchor="end" fill="#222" stroke="#222" stroke-width="0.12">75</text>
<text transform="translate(28.6,477.7) rotate(-90) scale(0.64,1)" font-size="9.2" font-weight="bold" text-anchor="middle" fill="#222">Fold over untreated</text>
<text transform="translate(58.4,517.6) scale(0.76,1)" font-size="5.5" font-weight="bold" text-anchor="middle" fill="#222">1.00</text>
<text transform="translate(75.2,517.6) scale(0.76,1)" font-size="5.5" font-weight="bold" text-anchor="middle" fill="#222">29.54</text>
<text transform="translate(91.6,517.6) scale(0.76,1)" font-size="5.5" font-weight="bold" text-anchor="middle" fill="#222">62.23</text>
<text transform="translate(107.9,517.6) scale(0.76,1)" font-size="5.5" font-weight="bold" text-anchor="middle" fill="#222">31.17</text>
<text transform="translate(124.4,517.6) scale(0.76,1)" font-size="5.5" font-weight="bold" text-anchor="middle" fill="#222">56.56</text>
<line x1="57.8" y1="519.8" x2="57.8" y2="522.8" stroke="#111" stroke-width="0.9"/>
<line x1="74.6" y1="519.8" x2="74.6" y2="522.8" stroke="#111" stroke-width="0.9"/>
<line x1="91" y1="519.8" x2="91" y2="522.8" stroke="#111" stroke-width="0.9"/>
<line x1="107.3" y1="519.8" x2="107.3" y2="522.8" stroke="#111" stroke-width="0.9"/>
<line x1="123.8" y1="519.8" x2="123.8" y2="522.8" stroke="#111" stroke-width="0.9"/>
<text transform="translate(59.2,529.8) rotate(-45)" font-size="7.5" text-anchor="end" fill="#111" stroke="#111" stroke-width="0.15">Untreated</text>
<text transform="translate(76,529.8) rotate(-45)" font-size="7.5" text-anchor="end" fill="#111" stroke="#111" stroke-width="0.15">IFN-<tspan font-family="Liberation Serif" font-style="italic" font-size="1.08em">&#947;</tspan></text>
<text transform="translate(92.4,529.8) rotate(-45)" font-size="7.5" text-anchor="end" fill="#111" stroke="#111" stroke-width="0.15">IFN-<tspan font-family="Liberation Serif" font-style="italic" font-size="1.08em">&#947;</tspan> + DAC</text>
<text transform="translate(108.7,529.8) rotate(-45)" font-size="7.5" text-anchor="end" fill="#111" stroke="#111" stroke-width="0.15">IFN-<tspan font-family="Liberation Serif" font-style="italic" font-size="1.08em">&#947;</tspan> + TAZ</text>
<text transform="translate(125.2,529.8) rotate(-45)" font-size="7.5" text-anchor="end" fill="#111" stroke="#111" stroke-width="0.15">IFN-<tspan font-family="Liberation Serif" font-style="italic" font-size="1.08em">&#947;</tspan> + DAC+TAZ</text>
<line x1="83.2" y1="417.8" x2="136.5" y2="417.8" stroke="#333" stroke-width="1.15"/>
<text x="109.85" y="415.9" font-size="8.0" text-anchor="middle" fill="#111">ns</text>
<line x1="70.8" y1="426.5" x2="106.2" y2="426.5" stroke="#333" stroke-width="1.15"/>
<text x="88.5" y="424.6" font-size="8.0" text-anchor="middle" fill="#111">ns</text>
<line x1="70.8" y1="436.5" x2="89.4" y2="436.5" stroke="#333" stroke-width="1.15"/>
<text x="80.1" y="434.6" font-size="8.2" text-anchor="middle" fill="#111">0.056</text>
<rect x="176.4" y="511.46" width="15" height="0.84" fill="#89a9c4"/>
<rect x="194" y="493.87" width="15" height="18.43" fill="#7fb2a5"/>
<rect x="211.2" y="460.05" width="15" height="52.25" fill="#c3bce0"/>
<rect x="228.4" y="484.73" width="15" height="27.57" fill="#a4a9b1"/>
<rect x="245.8" y="455.21" width="15" height="57.09" fill="#95d4f0"/>
<line x1="174.2" y1="493.87" x2="262" y2="493.87" stroke="#555" stroke-width="0.7" stroke-dasharray="1.4,0.8"/>
<circle cx="183.9" cy="511.46" r="1.25" fill="#1e4f8c"/>
<line x1="201.5" y1="497.97" x2="201.5" y2="489.54" stroke="#2a2a2a" stroke-width="0.9"/>
<line x1="199.2" y1="497.97" x2="203.8" y2="497.97" stroke="#2a2a2a" stroke-width="0.9"/>
<line x1="199.2" y1="489.54" x2="203.8" y2="489.54" stroke="#2a2a2a" stroke-width="0.9"/>
<circle cx="201.5" cy="498.81" r="1.25" fill="#1c6b4c"/>
<circle cx="201.5" cy="495.44" r="1.25" fill="#1c6b4c"/>
<circle cx="201.5" cy="491.22" r="1.25" fill="#1c6b4c"/>
<circle cx="201.5" cy="488.7" r="1.25" fill="#1c6b4c"/>
<line x1="218.7" y1="474.36" x2="218.7" y2="446.55" stroke="#2a2a2a" stroke-width="0.9"/>
<line x1="216.4" y1="474.36" x2="221" y2="474.36" stroke="#2a2a2a" stroke-width="0.9"/>
<line x1="216.4" y1="446.55" x2="221" y2="446.55" stroke="#2a2a2a" stroke-width="0.9"/>
<circle cx="218.7" cy="474.36" r="1.25" fill="#8c7fcc"/>
<circle cx="218.7" cy="470.15" r="1.25" fill="#8c7fcc"/>
<circle cx="218.7" cy="449.07" r="1.25" fill="#8c7fcc"/>
<circle cx="218.7" cy="444.86" r="1.25" fill="#8c7fcc"/>
<line x1="235.9" y1="492.91" x2="235.9" y2="476.89" stroke="#2a2a2a" stroke-width="0.9"/>
<line x1="233.6" y1="492.91" x2="238.2" y2="492.91" stroke="#2a2a2a" stroke-width="0.9"/>
<line x1="233.6" y1="476.89" x2="238.2" y2="476.89" stroke="#2a2a2a" stroke-width="0.9"/>
<circle cx="235.9" cy="491.22" r="1.25" fill="#3a4656"/>
<circle cx="235.9" cy="488.7" r="1.25" fill="#3a4656"/>
<circle cx="235.9" cy="478.58" r="1.25" fill="#3a4656"/>
<circle cx="235.9" cy="476.05" r="1.25" fill="#3a4656"/>
<line x1="253.3" y1="472.68" x2="253.3" y2="438.12" stroke="#2a2a2a" stroke-width="0.9"/>
<line x1="251" y1="472.68" x2="255.6" y2="472.68" stroke="#2a2a2a" stroke-width="0.9"/>
<line x1="251" y1="438.12" x2="255.6" y2="438.12" stroke="#2a2a2a" stroke-width="0.9"/>
<circle cx="253.3" cy="471.84" r="1.25" fill="#2aabe3"/>
<circle cx="253.3" cy="470.15" r="1.25" fill="#2aabe3"/>
<circle cx="253.3" cy="465.93" r="1.25" fill="#2aabe3"/>
<circle cx="253.3" cy="461.72" r="1.25" fill="#2aabe3"/>
<circle cx="253.3" cy="457.5" r="1.25" fill="#2aabe3"/>
<circle cx="253.3" cy="436.43" r="1.25" fill="#2aabe3"/>
<line x1="174.2" y1="436" x2="174.2" y2="520.4" stroke="#111" stroke-width="1.1"/>
<line x1="173.7" y1="519.9" x2="262" y2="519.9" stroke="#111" stroke-width="1.1"/>
<line x1="171.2" y1="512.3" x2="174.2" y2="512.3" stroke="#111" stroke-width="0.9"/>
<text x="168.7" y="515.4" font-size="8.6" text-anchor="end" fill="#222" stroke="#222" stroke-width="0.12">0</text>
<line x1="171.2" y1="491.22" x2="174.2" y2="491.22" stroke="#111" stroke-width="0.9"/>
<text x="168.7" y="494.32" font-size="8.6" text-anchor="end" fill="#222" stroke="#222" stroke-width="0.12">25</text>
<line x1="171.2" y1="470.15" x2="174.2" y2="470.15" stroke="#111" stroke-width="0.9"/>
<text x="168.7" y="473.25" font-size="8.6" text-anchor="end" fill="#222" stroke="#222" stroke-width="0.12">50</text>
<line x1="171.2" y1="449.07" x2="174.2" y2="449.07" stroke="#111" stroke-width="0.9"/>
<text x="168.7" y="452.17" font-size="8.6" text-anchor="end" fill="#222" stroke="#222" stroke-width="0.12">75</text>
<text transform="translate(155.5,478.5) rotate(-90) scale(0.64,1)" font-size="9.2" font-weight="bold" text-anchor="middle" fill="#222">Fold over untreated</text>
<text transform="translate(184.5,517.6) scale(0.76,1)" font-size="5.5" font-weight="bold" text-anchor="middle" fill="#222">1.00</text>
<text transform="translate(202.1,517.6) scale(0.76,1)" font-size="5.5" font-weight="bold" text-anchor="middle" fill="#222">21.86</text>
<text transform="translate(219.3,517.6) scale(0.76,1)" font-size="5.5" font-weight="bold" text-anchor="middle" fill="#222">61.98</text>
<text transform="translate(236.5,517.6) scale(0.76,1)" font-size="5.5" font-weight="bold" text-anchor="middle" fill="#222">32.71</text>
<text transform="translate(253.9,517.6) scale(0.76,1)" font-size="5.5" font-weight="bold" text-anchor="middle" fill="#222">67.72</text>
<line x1="183.9" y1="519.9" x2="183.9" y2="522.9" stroke="#111" stroke-width="0.9"/>
<line x1="201.5" y1="519.9" x2="201.5" y2="522.9" stroke="#111" stroke-width="0.9"/>
<line x1="218.7" y1="519.9" x2="218.7" y2="522.9" stroke="#111" stroke-width="0.9"/>
<line x1="235.9" y1="519.9" x2="235.9" y2="522.9" stroke="#111" stroke-width="0.9"/>
<line x1="253.3" y1="519.9" x2="253.3" y2="522.9" stroke="#111" stroke-width="0.9"/>
<text transform="translate(185.3,529.9) rotate(-45)" font-size="7.5" text-anchor="end" fill="#111" stroke="#111" stroke-width="0.15">Untreated</text>
<text transform="translate(202.9,529.9) rotate(-45)" font-size="7.5" text-anchor="end" fill="#111" stroke="#111" stroke-width="0.15">IFN-<tspan font-family="Liberation Serif" font-style="italic" font-size="1.08em">&#947;</tspan></text>
<text transform="translate(220.1,529.9) rotate(-45)" font-size="7.5" text-anchor="end" fill="#111" stroke="#111" stroke-width="0.15">IFN-<tspan font-family="Liberation Serif" font-style="italic" font-size="1.08em">&#947;</tspan> + DAC</text>
<text transform="translate(237.3,529.9) rotate(-45)" font-size="7.5" text-anchor="end" fill="#111" stroke="#111" stroke-width="0.15">IFN-<tspan font-family="Liberation Serif" font-style="italic" font-size="1.08em">&#947;</tspan> + TAZ</text>
<text transform="translate(254.7,529.9) rotate(-45)" font-size="7.5" text-anchor="end" fill="#111" stroke="#111" stroke-width="0.15">IFN-<tspan font-family="Liberation Serif" font-style="italic" font-size="1.08em">&#947;</tspan> + DAC+TAZ</text>
<line x1="207.5" y1="424" x2="255.6" y2="424" stroke="#333" stroke-width="1.15"/>
<circle cx="228.6" cy="419.6" r="1.05" fill="#1a1a1a"/>
<circle cx="231.55" cy="419.6" r="1.05" fill="#1a1a1a"/>
<circle cx="234.5" cy="419.6" r="1.05" fill="#1a1a1a"/>
<line x1="202.7" y1="433.5" x2="234.4" y2="433.5" stroke="#333" stroke-width="1.15"/>
<text x="218.55" y="431.6" font-size="8.0" text-anchor="middle" fill="#111">ns</text>
<line x1="202.7" y1="441.2" x2="219" y2="441.2" stroke="#333" stroke-width="1.15"/>
<circle cx="207.9" cy="436.8" r="1.05" fill="#1a1a1a"/>
<circle cx="210.85" cy="436.8" r="1.05" fill="#1a1a1a"/>
<circle cx="213.8" cy="436.8" r="1.05" fill="#1a1a1a"/>
<rect x="301.25" y="500.8" width="15.5" height="11.6" fill="#89a9c4"/>
<rect x="318.95" y="480.5" width="15.5" height="31.9" fill="#7fb2a5"/>
<rect x="336.55" y="456.84" width="15.5" height="55.56" fill="#c3bce0"/>
<rect x="354.45" y="469.83" width="15.5" height="42.57" fill="#a4a9b1"/>
<rect x="371.75" y="459.27" width="15.5" height="53.13" fill="#95d4f0"/>
<line x1="298.8" y1="480.5" x2="390.4" y2="480.5" stroke="#555" stroke-width="0.7" stroke-dasharray="1.4,0.8"/>
<line x1="309" y1="503.12" x2="309" y2="498.48" stroke="#2a2a2a" stroke-width="0.9"/>
<line x1="306.7" y1="503.12" x2="311.3" y2="503.12" stroke="#2a2a2a" stroke-width="0.9"/>
<line x1="306.7" y1="498.48" x2="311.3" y2="498.48" stroke="#2a2a2a" stroke-width="0.9"/>
<circle cx="309" cy="504.28" r="1.25" fill="#1e4f8c"/>
<circle cx="309" cy="501.96" r="1.25" fill="#1e4f8c"/>
<circle cx="309" cy="500.8" r="1.25" fill="#1e4f8c"/>
<circle cx="309" cy="499.64" r="1.25" fill="#1e4f8c"/>
<circle cx="309" cy="497.32" r="1.25" fill="#1e4f8c"/>
<line x1="326.7" y1="485.72" x2="326.7" y2="476.44" stroke="#2a2a2a" stroke-width="0.9"/>
<line x1="324.4" y1="485.72" x2="329" y2="485.72" stroke="#2a2a2a" stroke-width="0.9"/>
<line x1="324.4" y1="476.44" x2="329" y2="476.44" stroke="#2a2a2a" stroke-width="0.9"/>
<circle cx="326.7" cy="486.88" r="1.25" fill="#1c6b4c"/>
<circle cx="326.7" cy="483.4" r="1.25" fill="#1c6b4c"/>
<circle cx="326.7" cy="479.92" r="1.25" fill="#1c6b4c"/>
<circle cx="326.7" cy="476.44" r="1.25" fill="#1c6b4c"/>
<line x1="344.3" y1="464.84" x2="344.3" y2="449.76" stroke="#2a2a2a" stroke-width="0.9"/>
<line x1="342" y1="464.84" x2="346.6" y2="464.84" stroke="#2a2a2a" stroke-width="0.9"/>
<line x1="342" y1="449.76" x2="346.6" y2="449.76" stroke="#2a2a2a" stroke-width="0.9"/>
<circle cx="344.3" cy="464.84" r="1.25" fill="#8c7fcc"/>
<circle cx="344.3" cy="462.52" r="1.25" fill="#8c7fcc"/>
<circle cx="344.3" cy="456.72" r="1.25" fill="#8c7fcc"/>
<circle cx="344.3" cy="445.12" r="1.25" fill="#8c7fcc"/>
<line x1="362.2" y1="477.6" x2="362.2" y2="462.52" stroke="#2a2a2a" stroke-width="0.9"/>
<line x1="359.9" y1="477.6" x2="364.5" y2="477.6" stroke="#2a2a2a" stroke-width="0.9"/>
<line x1="359.9" y1="462.52" x2="364.5" y2="462.52" stroke="#2a2a2a" stroke-width="0.9"/>
<circle cx="362.2" cy="477.6" r="1.25" fill="#3a4656"/>
<circle cx="362.2" cy="474.12" r="1.25" fill="#3a4656"/>
<circle cx="362.2" cy="469.48" r="1.25" fill="#3a4656"/>
<circle cx="362.2" cy="466" r="1.25" fill="#3a4656"/>
<circle cx="362.2" cy="463.68" r="1.25" fill="#3a4656"/>
<line x1="379.5" y1="469.48" x2="379.5" y2="448.6" stroke="#2a2a2a" stroke-width="0.9"/>
<line x1="377.2" y1="469.48" x2="381.8" y2="469.48" stroke="#2a2a2a" stroke-width="0.9"/>
<line x1="377.2" y1="448.6" x2="381.8" y2="448.6" stroke="#2a2a2a" stroke-width="0.9"/>
<circle cx="379.5" cy="469.48" r="1.25" fill="#2aabe3"/>
<circle cx="379.5" cy="463.68" r="1.25" fill="#2aabe3"/>
<circle cx="379.5" cy="460.2" r="1.25" fill="#2aabe3"/>
<circle cx="379.5" cy="439.32" r="1.25" fill="#2aabe3"/>
<line x1="298.8" y1="436.6" x2="298.8" y2="520.5" stroke="#111" stroke-width="1.1"/>
<line x1="298.3" y1="520" x2="389.8" y2="520" stroke="#111" stroke-width="1.1"/>
<line x1="295.8" y1="512.4" x2="298.8" y2="512.4" stroke="#111" stroke-width="0.9"/>
<text x="293.3" y="515.5" font-size="8.6" text-anchor="end" fill="#222" stroke="#222" stroke-width="0.12">0</text>
<line x1="295.8" y1="489.2" x2="298.8" y2="489.2" stroke="#111" stroke-width="0.9"/>
<text x="293.3" y="492.3" font-size="8.6" text-anchor="end" fill="#222" stroke="#222" stroke-width="0.12">2</text>
<line x1="295.8" y1="466" x2="298.8" y2="466" stroke="#111" stroke-width="0.9"/>
<text x="293.3" y="469.1" font-size="8.6" text-anchor="end" fill="#222" stroke="#222" stroke-width="0.12">4</text>
<line x1="295.8" y1="442.8" x2="298.8" y2="442.8" stroke="#111" stroke-width="0.9"/>
<text x="293.3" y="445.9" font-size="8.6" text-anchor="end" fill="#222" stroke="#222" stroke-width="0.12">6</text>
<text transform="translate(283.6,478.5) rotate(-90) scale(0.64,1)" font-size="9.2" font-weight="bold" text-anchor="middle" fill="#222">Fold over untreated</text>
<text transform="translate(309.6,517.6) scale(0.76,1)" font-size="5.5" font-weight="bold" text-anchor="middle" fill="#222">1.00</text>
<text transform="translate(327.3,517.6) scale(0.76,1)" font-size="5.5" font-weight="bold" text-anchor="middle" fill="#222">2.75</text>
<text transform="translate(344.9,517.6) scale(0.76,1)" font-size="5.5" font-weight="bold" text-anchor="middle" fill="#222">4.79</text>
<text transform="translate(362.8,517.6) scale(0.76,1)" font-size="5.5" font-weight="bold" text-anchor="middle" fill="#222">3.67</text>
<text transform="translate(380.1,517.6) scale(0.76,1)" font-size="5.5" font-weight="bold" text-anchor="middle" fill="#222">4.58</text>
<line x1="309" y1="520" x2="309" y2="523" stroke="#111" stroke-width="0.9"/>
<line x1="326.7" y1="520" x2="326.7" y2="523" stroke="#111" stroke-width="0.9"/>
<line x1="344.3" y1="520" x2="344.3" y2="523" stroke="#111" stroke-width="0.9"/>
<line x1="362.2" y1="520" x2="362.2" y2="523" stroke="#111" stroke-width="0.9"/>
<line x1="379.5" y1="520" x2="379.5" y2="523" stroke="#111" stroke-width="0.9"/>
<text transform="translate(315.2,531) rotate(-45)" font-size="7.5" text-anchor="end" fill="#111" stroke="#111" stroke-width="0.15">Untreated</text>
<text transform="translate(331.9,531) rotate(-45)" font-size="7.5" text-anchor="end" fill="#111" stroke="#111" stroke-width="0.15">IFN-<tspan font-family="Liberation Serif" font-style="italic" font-size="1.08em">&#947;</tspan></text>
<text transform="translate(348.5,531) rotate(-45)" font-size="7.5" text-anchor="end" fill="#111" stroke="#111" stroke-width="0.15">IFN-<tspan font-family="Liberation Serif" font-style="italic" font-size="1.08em">&#947;</tspan> + DAC</text>
<text transform="translate(365.6,531) rotate(-45)" font-size="7.5" text-anchor="end" fill="#111" stroke="#111" stroke-width="0.15">IFN-<tspan font-family="Liberation Serif" font-style="italic" font-size="1.08em">&#947;</tspan> + TAZ</text>
<text transform="translate(382.1,530.5) rotate(-45)" font-size="7.5" text-anchor="end" fill="#111" stroke="#111" stroke-width="0.15">IFN-<tspan font-family="Liberation Serif" font-style="italic" font-size="1.08em">&#947;</tspan> + DAC+TAZ</text>
<line x1="322.8" y1="426.1" x2="371.8" y2="426.1" stroke="#333" stroke-width="1.15"/>
<circle cx="342.88" cy="421.7" r="1.05" fill="#1a1a1a"/>
<circle cx="345.82" cy="421.7" r="1.05" fill="#1a1a1a"/>
<circle cx="348.78" cy="421.7" r="1.05" fill="#1a1a1a"/>
<circle cx="351.73" cy="421.7" r="1.05" fill="#1a1a1a"/>
<line x1="322.8" y1="434.8" x2="355.3" y2="434.8" stroke="#333" stroke-width="1.15"/>
<text x="339.05" y="432.9" font-size="8.0" text-anchor="middle" fill="#111">ns</text>
<line x1="322.8" y1="443" x2="339.2" y2="443" stroke="#333" stroke-width="1.15"/>
<circle cx="326.57" cy="438.6" r="1.05" fill="#1a1a1a"/>
<circle cx="329.52" cy="438.6" r="1.05" fill="#1a1a1a"/>
<circle cx="332.48" cy="438.6" r="1.05" fill="#1a1a1a"/>
<circle cx="335.43" cy="438.6" r="1.05" fill="#1a1a1a"/>
<rect x="429.7" y="506.72" width="15" height="5.58" fill="#89a9c4"/>
<rect x="446.5" y="480.27" width="15" height="32.03" fill="#7fb2a5"/>
<rect x="463" y="461.91" width="15" height="50.39" fill="#c3bce0"/>
<rect x="479.4" y="452.93" width="15" height="59.37" fill="#a4a9b1"/>
<rect x="496.1" y="450.31" width="15" height="61.99" fill="#95d4f0"/>
<line x1="427.3" y1="480.27" x2="518.8" y2="480.27" stroke="#555" stroke-width="0.7" stroke-dasharray="1.4,0.8"/>
<line x1="437.2" y1="507.84" x2="437.2" y2="505.6" stroke="#2a2a2a" stroke-width="0.9"/>
<line x1="434.9" y1="507.84" x2="439.5" y2="507.84" stroke="#2a2a2a" stroke-width="0.9"/>
<line x1="434.9" y1="505.6" x2="439.5" y2="505.6" stroke="#2a2a2a" stroke-width="0.9"/>
<circle cx="437.2" cy="507.84" r="1.25" fill="#1e4f8c"/>
<circle cx="437.2" cy="506.72" r="1.25" fill="#1e4f8c"/>
<circle cx="437.2" cy="505.6" r="1.25" fill="#1e4f8c"/>
<line x1="454" y1="484.4" x2="454" y2="473.8" stroke="#2a2a2a" stroke-width="0.9"/>
<line x1="451.7" y1="484.4" x2="456.3" y2="484.4" stroke="#2a2a2a" stroke-width="0.9"/>
<line x1="451.7" y1="473.8" x2="456.3" y2="473.8" stroke="#2a2a2a" stroke-width="0.9"/>
<circle cx="454" cy="484.4" r="1.25" fill="#1c6b4c"/>
<circle cx="454" cy="481.61" r="1.25" fill="#1c6b4c"/>
<circle cx="454" cy="478.82" r="1.25" fill="#1c6b4c"/>
<circle cx="454" cy="476.03" r="1.25" fill="#1c6b4c"/>
<circle cx="454" cy="473.24" r="1.25" fill="#1c6b4c"/>
<line x1="470.5" y1="473.24" x2="470.5" y2="450.92" stroke="#2a2a2a" stroke-width="0.9"/>
<line x1="468.2" y1="473.24" x2="472.8" y2="473.24" stroke="#2a2a2a" stroke-width="0.9"/>
<line x1="468.2" y1="450.92" x2="472.8" y2="450.92" stroke="#2a2a2a" stroke-width="0.9"/>
<circle cx="470.5" cy="478.82" r="1.25" fill="#8c7fcc"/>
<circle cx="470.5" cy="473.24" r="1.25" fill="#8c7fcc"/>
<circle cx="470.5" cy="464.87" r="1.25" fill="#8c7fcc"/>
<circle cx="470.5" cy="453.71" r="1.25" fill="#8c7fcc"/>
<circle cx="470.5" cy="442.55" r="1.25" fill="#8c7fcc"/>
<line x1="486.9" y1="462.08" x2="486.9" y2="445.34" stroke="#2a2a2a" stroke-width="0.9"/>
<line x1="484.6" y1="462.08" x2="489.2" y2="462.08" stroke="#2a2a2a" stroke-width="0.9"/>
<line x1="484.6" y1="445.34" x2="489.2" y2="445.34" stroke="#2a2a2a" stroke-width="0.9"/>
<circle cx="486.9" cy="462.08" r="1.25" fill="#3a4656"/>
<circle cx="486.9" cy="459.29" r="1.25" fill="#3a4656"/>
<circle cx="486.9" cy="450.92" r="1.25" fill="#3a4656"/>
<circle cx="486.9" cy="442.55" r="1.25" fill="#3a4656"/>
<circle cx="486.9" cy="436.97" r="1.25" fill="#3a4656"/>
<line x1="503.6" y1="462.08" x2="503.6" y2="439.76" stroke="#2a2a2a" stroke-width="0.9"/>
<line x1="501.3" y1="462.08" x2="505.9" y2="462.08" stroke="#2a2a2a" stroke-width="0.9"/>
<line x1="501.3" y1="439.76" x2="505.9" y2="439.76" stroke="#2a2a2a" stroke-width="0.9"/>
<circle cx="503.6" cy="464.87" r="1.25" fill="#2aabe3"/>
<circle cx="503.6" cy="462.08" r="1.25" fill="#2aabe3"/>
<circle cx="503.6" cy="453.71" r="1.25" fill="#2aabe3"/>
<circle cx="503.6" cy="445.34" r="1.25" fill="#2aabe3"/>
<circle cx="503.6" cy="439.76" r="1.25" fill="#2aabe3"/>
<circle cx="503.6" cy="436.97" r="1.25" fill="#2aabe3"/>
<line x1="427.3" y1="436.6" x2="427.3" y2="520.1" stroke="#111" stroke-width="1.1"/>
<line x1="426.8" y1="519.6" x2="518.8" y2="519.6" stroke="#111" stroke-width="1.1"/>
<line x1="424.3" y1="512.3" x2="427.3" y2="512.3" stroke="#111" stroke-width="0.9"/>
<text x="421.8" y="515.4" font-size="8.6" text-anchor="end" fill="#222" stroke="#222" stroke-width="0.12">0</text>
<line x1="424.3" y1="484.4" x2="427.3" y2="484.4" stroke="#111" stroke-width="0.9"/>
<text x="421.8" y="487.5" font-size="8.6" text-anchor="end" fill="#222" stroke="#222" stroke-width="0.12">5</text>
<line x1="424.3" y1="456.5" x2="427.3" y2="456.5" stroke="#111" stroke-width="0.9"/>
<text x="421.8" y="459.6" font-size="8.6" text-anchor="end" fill="#222" stroke="#222" stroke-width="0.12">10</text>
<text transform="translate(409.7,477.7) rotate(-90) scale(0.64,1)" font-size="9.2" font-weight="bold" text-anchor="middle" fill="#222">Fold over untreated</text>
<text transform="translate(437.8,517.6) scale(0.76,1)" font-size="5.5" font-weight="bold" text-anchor="middle" fill="#222">1.00</text>
<text transform="translate(454.6,517.6) scale(0.76,1)" font-size="5.5" font-weight="bold" text-anchor="middle" fill="#222">5.74</text>
<text transform="translate(471.1,517.6) scale(0.76,1)" font-size="5.5" font-weight="bold" text-anchor="middle" fill="#222">9.03</text>
<text transform="translate(487.5,517.6) scale(0.76,1)" font-size="5.5" font-weight="bold" text-anchor="middle" fill="#222">10.64</text>
<text transform="translate(504.2,517.6) scale(0.76,1)" font-size="5.5" font-weight="bold" text-anchor="middle" fill="#222">11.11</text>
<line x1="437.2" y1="519.6" x2="437.2" y2="522.6" stroke="#111" stroke-width="0.9"/>
<line x1="454" y1="519.6" x2="454" y2="522.6" stroke="#111" stroke-width="0.9"/>
<line x1="470.5" y1="519.6" x2="470.5" y2="522.6" stroke="#111" stroke-width="0.9"/>
<line x1="486.9" y1="519.6" x2="486.9" y2="522.6" stroke="#111" stroke-width="0.9"/>
<line x1="503.6" y1="519.6" x2="503.6" y2="522.6" stroke="#111" stroke-width="0.9"/>
<text transform="translate(438.6,529.6) rotate(-45)" font-size="7.5" text-anchor="end" fill="#111" stroke="#111" stroke-width="0.15">Untreated</text>
<text transform="translate(455.4,529.6) rotate(-45)" font-size="7.5" text-anchor="end" fill="#111" stroke="#111" stroke-width="0.15">IFN-<tspan font-family="Liberation Serif" font-style="italic" font-size="1.08em">&#947;</tspan></text>
<text transform="translate(471.9,529.6) rotate(-45)" font-size="7.5" text-anchor="end" fill="#111" stroke="#111" stroke-width="0.15">IFN-<tspan font-family="Liberation Serif" font-style="italic" font-size="1.08em">&#947;</tspan> + DAC</text>
<text transform="translate(488.3,529.6) rotate(-45)" font-size="7.5" text-anchor="end" fill="#111" stroke="#111" stroke-width="0.15">IFN-<tspan font-family="Liberation Serif" font-style="italic" font-size="1.08em">&#947;</tspan> + TAZ</text>
<text transform="translate(505,529.6) rotate(-45)" font-size="7.5" text-anchor="end" fill="#111" stroke="#111" stroke-width="0.15">IFN-<tspan font-family="Liberation Serif" font-style="italic" font-size="1.08em">&#947;</tspan> + DAC+TAZ</text>
<line x1="451.9" y1="424.9" x2="501" y2="424.9" stroke="#333" stroke-width="1.15"/>
<circle cx="472.02" cy="420.5" r="1.05" fill="#1a1a1a"/>
<circle cx="474.97" cy="420.5" r="1.05" fill="#1a1a1a"/>
<circle cx="477.93" cy="420.5" r="1.05" fill="#1a1a1a"/>
<circle cx="480.88" cy="420.5" r="1.05" fill="#1a1a1a"/>
<line x1="451.9" y1="431.3" x2="483.7" y2="431.3" stroke="#333" stroke-width="1.15"/>
<circle cx="463.37" cy="426.9" r="1.05" fill="#1a1a1a"/>
<circle cx="466.32" cy="426.9" r="1.05" fill="#1a1a1a"/>
<circle cx="469.27" cy="426.9" r="1.05" fill="#1a1a1a"/>
<circle cx="472.22" cy="426.9" r="1.05" fill="#1a1a1a"/>
<line x1="451.9" y1="439.1" x2="467.6" y2="439.1" stroke="#333" stroke-width="1.15"/>
<circle cx="459.75" cy="434.7" r="1.05" fill="#1a1a1a"/>
<rect x="0.5" y="0.5" width="519" height="579" fill="none" stroke="#000" stroke-width="1.2"/>
</svg>
</body></html>
